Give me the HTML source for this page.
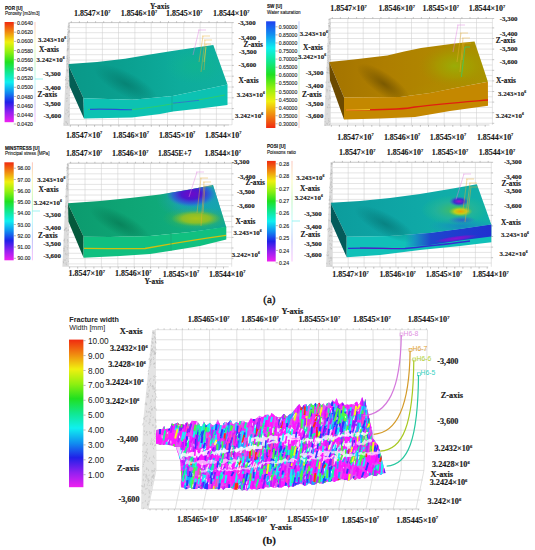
<!DOCTYPE html>
<html><head><meta charset="utf-8"><style>
html,body{margin:0;padding:0;background:#fff;}
svg{display:block;}
</style></head><body>
<svg width="535" height="550" viewBox="0 0 535 550">
<defs><linearGradient id="g1" x1="0" y1="0" x2="0" y2="1"><stop offset="0" stop-color="#f02a10"/><stop offset="0.1" stop-color="#f08a10"/><stop offset="0.2" stop-color="#f0f010"/><stop offset="0.3" stop-color="#90f010"/><stop offset="0.4" stop-color="#20e020"/><stop offset="0.5" stop-color="#10e890"/><stop offset="0.6" stop-color="#10f0f0"/><stop offset="0.7" stop-color="#1090f0"/><stop offset="0.8" stop-color="#2020e8"/><stop offset="0.9" stop-color="#9020f0"/><stop offset="1.0" stop-color="#f020f0"/></linearGradient><linearGradient id="g2" x1="0" y1="0" x2="0" y2="1"><stop offset="0" stop-color="#f02a10"/><stop offset="0.1" stop-color="#f08a10"/><stop offset="0.2" stop-color="#f0f010"/><stop offset="0.3" stop-color="#90f010"/><stop offset="0.4" stop-color="#20e020"/><stop offset="0.5" stop-color="#10e890"/><stop offset="0.6" stop-color="#10f0f0"/><stop offset="0.7" stop-color="#1090f0"/><stop offset="0.8" stop-color="#2020e8"/><stop offset="0.9" stop-color="#9020f0"/><stop offset="1.0" stop-color="#f020f0"/></linearGradient><linearGradient id="g3" x1="0" y1="0" x2="1" y2="0"><stop offset="0" stop-color="#0a9888"/><stop offset="0.35" stop-color="#0aa090"/><stop offset="0.7" stop-color="#0eac9c"/><stop offset="1" stop-color="#10b09e"/></linearGradient><radialGradient id="g4" cx="0.5" cy="0.5" r="0.5"><stop offset="0" stop-color="#057a6c" stop-opacity="0.75"/><stop offset="0.5" stop-color="#057a6c" stop-opacity="0.4"/><stop offset="1" stop-color="#057a6c" stop-opacity="0"/></radialGradient><radialGradient id="g5" cx="0.5" cy="0.5" r="0.5"><stop offset="0" stop-color="#10b48e" stop-opacity="0.8"/><stop offset="1" stop-color="#10b48e" stop-opacity="0"/></radialGradient><clipPath id="c1"><polygon points="68.70,64.00 97.00,62.00 125.00,58.70 150.00,54.50 172.00,51.00 194.00,47.80 213.30,45.10 227.50,84.40 201.70,90.10 172.70,95.90 132.00,99.70 83.50,98.30 69.50,67.70"/></clipPath><linearGradient id="g6" x1="0" y1="0" x2="0" y2="1"><stop offset="0" stop-color="#2040f0"/><stop offset="0.125" stop-color="#1090f0"/><stop offset="0.25" stop-color="#10f0f0"/><stop offset="0.375" stop-color="#10e890"/><stop offset="0.5" stop-color="#20e020"/><stop offset="0.625" stop-color="#90f010"/><stop offset="0.75" stop-color="#f0f010"/><stop offset="0.875" stop-color="#f08a10"/><stop offset="1" stop-color="#f02a10"/></linearGradient><linearGradient id="g7" x1="0" y1="0" x2="0" y2="1"><stop offset="0" stop-color="#2040f0"/><stop offset="0.125" stop-color="#1090f0"/><stop offset="0.25" stop-color="#10f0f0"/><stop offset="0.375" stop-color="#10e890"/><stop offset="0.5" stop-color="#20e020"/><stop offset="0.625" stop-color="#90f010"/><stop offset="0.75" stop-color="#f0f010"/><stop offset="0.875" stop-color="#f08a10"/><stop offset="1" stop-color="#f02a10"/></linearGradient><linearGradient id="g8" x1="0" y1="0" x2="1" y2="0"><stop offset="0" stop-color="#a47400"/><stop offset="0.35" stop-color="#ae7e00"/><stop offset="0.7" stop-color="#b08800"/><stop offset="1" stop-color="#a89400"/></linearGradient><radialGradient id="g9" cx="0.5" cy="0.5" r="0.5"><stop offset="0" stop-color="#6e5000" stop-opacity="0.8"/><stop offset="0.5" stop-color="#6e5000" stop-opacity="0.4"/><stop offset="1" stop-color="#6e5000" stop-opacity="0"/></radialGradient><radialGradient id="g10" cx="0.5" cy="0.5" r="0.5"><stop offset="0" stop-color="#98b008" stop-opacity="0.9"/><stop offset="0.5" stop-color="#a0a400" stop-opacity="0.55"/><stop offset="1" stop-color="#a09000" stop-opacity="0"/></radialGradient><radialGradient id="g11" cx="0.5" cy="0.5" r="0.5"><stop offset="0" stop-color="#b08a00" stop-opacity="0.6"/><stop offset="1" stop-color="#b08a00" stop-opacity="0"/></radialGradient><clipPath id="c2"><polygon points="329.20,62.00 353.70,59.40 387.30,55.40 404.20,51.40 421.00,48.00 454.70,43.60 474.50,41.50 487.90,81.80 460.00,87.00 430.00,93.00 400.00,97.00 344.00,97.50 330.00,64.00"/></clipPath><linearGradient id="g12" x1="0" y1="0" x2="0" y2="1"><stop offset="0" stop-color="#f02a10"/><stop offset="0.1" stop-color="#f08a10"/><stop offset="0.2" stop-color="#f0f010"/><stop offset="0.3" stop-color="#90f010"/><stop offset="0.4" stop-color="#20e020"/><stop offset="0.5" stop-color="#10e890"/><stop offset="0.6" stop-color="#10f0f0"/><stop offset="0.7" stop-color="#1090f0"/><stop offset="0.8" stop-color="#2020e8"/><stop offset="0.9" stop-color="#9020f0"/><stop offset="1.0" stop-color="#f020f0"/></linearGradient><linearGradient id="g13" x1="0" y1="0" x2="0" y2="1"><stop offset="0" stop-color="#f02a10"/><stop offset="0.1" stop-color="#f08a10"/><stop offset="0.2" stop-color="#f0f010"/><stop offset="0.3" stop-color="#90f010"/><stop offset="0.4" stop-color="#20e020"/><stop offset="0.5" stop-color="#10e890"/><stop offset="0.6" stop-color="#10f0f0"/><stop offset="0.7" stop-color="#1090f0"/><stop offset="0.8" stop-color="#2020e8"/><stop offset="0.9" stop-color="#9020f0"/><stop offset="1.0" stop-color="#f020f0"/></linearGradient><linearGradient id="g14" x1="0" y1="0" x2="1" y2="0"><stop offset="0" stop-color="#0c9a6e"/><stop offset="0.35" stop-color="#0ea474"/><stop offset="0.7" stop-color="#10ac7c"/><stop offset="1" stop-color="#10a890"/></linearGradient><radialGradient id="g15" cx="0.5" cy="0.5" r="0.5"><stop offset="0" stop-color="#067a54" stop-opacity="0.75"/><stop offset="0.5" stop-color="#067a54" stop-opacity="0.4"/><stop offset="1" stop-color="#067a54" stop-opacity="0"/></radialGradient><radialGradient id="g16" cx="0.5" cy="0.5" r="0.5"><stop offset="0" stop-color="#2090d0" stop-opacity="0.9"/><stop offset="0.6" stop-color="#20a0c0" stop-opacity="0.55"/><stop offset="1" stop-color="#20a0a0" stop-opacity="0"/></radialGradient><radialGradient id="g17" cx="0.5" cy="0.5" r="0.5"><stop offset="0" stop-color="#10a8b0" stop-opacity="0.7"/><stop offset="1" stop-color="#10a8b0" stop-opacity="0"/></radialGradient><radialGradient id="g18" cx="0.5" cy="0.5" r="0.5"><stop offset="0" stop-color="#70c030" stop-opacity="0.85"/><stop offset="1" stop-color="#40b050" stop-opacity="0"/></radialGradient><radialGradient id="g19" cx="0.5" cy="0.5" r="0.5"><stop offset="0" stop-color="#a8c418" stop-opacity="1"/><stop offset="0.55" stop-color="#98c020" stop-opacity="0.85"/><stop offset="1" stop-color="#70c030" stop-opacity="0"/></radialGradient><radialGradient id="g20" cx="0.5" cy="0.5" r="0.5"><stop offset="0" stop-color="#7008c8" stop-opacity="1"/><stop offset="0.4" stop-color="#5010d0" stop-opacity="0.95"/><stop offset="0.75" stop-color="#3050e0" stop-opacity="0.7"/><stop offset="1" stop-color="#3070e0" stop-opacity="0"/></radialGradient><clipPath id="c3"><polygon points="68.00,203.20 100.00,201.00 130.00,198.00 160.00,194.50 190.00,189.50 213.00,185.00 226.30,227.20 190.00,232.00 150.00,236.00 110.00,237.00 83.60,236.70 69.00,206.00"/></clipPath><linearGradient id="g21" x1="0" y1="0" x2="0" y2="1"><stop offset="0" stop-color="#f02a10"/><stop offset="0.1" stop-color="#f08a10"/><stop offset="0.2" stop-color="#f0f010"/><stop offset="0.3" stop-color="#90f010"/><stop offset="0.4" stop-color="#20e020"/><stop offset="0.5" stop-color="#10e890"/><stop offset="0.6" stop-color="#10f0f0"/><stop offset="0.7" stop-color="#1090f0"/><stop offset="0.8" stop-color="#2020e8"/><stop offset="0.9" stop-color="#9020f0"/><stop offset="1.0" stop-color="#f020f0"/></linearGradient><linearGradient id="g22" x1="0" y1="0" x2="0" y2="1"><stop offset="0" stop-color="#f02a10"/><stop offset="0.1" stop-color="#f08a10"/><stop offset="0.2" stop-color="#f0f010"/><stop offset="0.3" stop-color="#90f010"/><stop offset="0.4" stop-color="#20e020"/><stop offset="0.5" stop-color="#10e890"/><stop offset="0.6" stop-color="#10f0f0"/><stop offset="0.7" stop-color="#1090f0"/><stop offset="0.8" stop-color="#2020e8"/><stop offset="0.9" stop-color="#9020f0"/><stop offset="1.0" stop-color="#f020f0"/></linearGradient><linearGradient id="g23" x1="0" y1="0" x2="1" y2="0"><stop offset="0" stop-color="#0c9c9c"/><stop offset="0.35" stop-color="#0ea4a4"/><stop offset="0.7" stop-color="#10aca8"/><stop offset="1" stop-color="#10b0a8"/></linearGradient><linearGradient id="g24" x1="0" y1="0" x2="1" y2="0"><stop offset="0" stop-color="#2040d0" stop-opacity="0"/><stop offset="0.3" stop-color="#2038d0" stop-opacity="0.9"/><stop offset="1" stop-color="#2030d0" stop-opacity="1"/></linearGradient><radialGradient id="g25" cx="0.5" cy="0.5" r="0.5"><stop offset="0" stop-color="#9010d0" stop-opacity="1"/><stop offset="0.6" stop-color="#7018d0" stop-opacity="0.8"/><stop offset="1" stop-color="#6020d0" stop-opacity="0"/></radialGradient><radialGradient id="g26" cx="0.5" cy="0.5" r="0.5"><stop offset="0" stop-color="#067878" stop-opacity="0.75"/><stop offset="0.5" stop-color="#067878" stop-opacity="0.4"/><stop offset="1" stop-color="#067878" stop-opacity="0"/></radialGradient><radialGradient id="g27" cx="0.5" cy="0.5" r="0.5"><stop offset="0" stop-color="#1880c8" stop-opacity="0.8"/><stop offset="1" stop-color="#1890c0" stop-opacity="0"/></radialGradient><radialGradient id="g28" cx="0.5" cy="0.5" r="0.5"><stop offset="0" stop-color="#50c050" stop-opacity="0.85"/><stop offset="0.6" stop-color="#30b890" stop-opacity="0.5"/><stop offset="1" stop-color="#20c080" stop-opacity="0"/></radialGradient><radialGradient id="g29" cx="0.5" cy="0.5" r="0.5"><stop offset="0" stop-color="#f0a000" stop-opacity="1"/><stop offset="0.5" stop-color="#d0d010" stop-opacity="0.9"/><stop offset="1" stop-color="#80d030" stop-opacity="0"/></radialGradient><radialGradient id="g30" cx="0.5" cy="0.5" r="0.5"><stop offset="0" stop-color="#a010d0" stop-opacity="1"/><stop offset="0.5" stop-color="#4020d0" stop-opacity="0.9"/><stop offset="1" stop-color="#3060e0" stop-opacity="0"/></radialGradient><radialGradient id="g31" cx="0.5" cy="0.5" r="0.5"><stop offset="0" stop-color="#3050d0" stop-opacity="0.8"/><stop offset="1" stop-color="#3060e0" stop-opacity="0"/></radialGradient><clipPath id="c4"><polygon points="330.90,202.70 360.00,201.00 390.00,198.00 420.00,194.00 450.00,189.00 476.90,184.20 491.30,224.60 460.00,229.00 430.00,233.00 390.00,236.00 346.70,236.70 331.50,205.00"/></clipPath><linearGradient id="g32" x1="0" y1="0" x2="0" y2="1"><stop offset="0" stop-color="#f02a10"/><stop offset="0.1" stop-color="#f08a10"/><stop offset="0.2" stop-color="#f0f010"/><stop offset="0.3" stop-color="#90f010"/><stop offset="0.4" stop-color="#20e020"/><stop offset="0.5" stop-color="#10e890"/><stop offset="0.6" stop-color="#10f0f0"/><stop offset="0.7" stop-color="#1090f0"/><stop offset="0.8" stop-color="#2020e8"/><stop offset="0.9" stop-color="#9020f0"/><stop offset="1.0" stop-color="#f020f0"/></linearGradient><clipPath id="frc"><polygon points="156.0,430.3 158.5,429.3 160.9,429.0 162.1,429.3 164.1,425.9 165.3,429.3 166.9,428.7 169.0,428.7 170.3,427.9 171.7,423.6 173.9,424.3 175.8,423.3 177.5,422.8 178.9,423.9 181.2,423.9 182.7,424.5 184.5,424.9 185.9,423.1 187.4,422.2 188.8,424.9 190.2,423.4 191.9,420.8 194.5,421.1 197.1,421.2 198.9,423.2 200.1,426.2 202.2,426.2 203.7,421.3 206.0,425.7 207.5,424.8 210.0,422.8 212.3,425.1 213.8,425.3 215.5,424.2 217.9,419.2 219.9,425.1 222.4,425.5 224.3,422.3 226.3,421.9 227.8,423.3 229.1,421.7 230.5,419.8 232.9,424.2 234.5,423.4 236.3,421.8 238.5,423.5 239.9,421.1 241.9,421.0 243.2,420.7 245.8,422.6 248.3,422.4 250.7,418.4 252.7,419.1 255.2,419.3 256.9,418.1 258.1,416.9 259.9,415.7 261.6,417.0 263.6,416.7 265.0,415.1 266.9,414.8 268.5,414.6 270.0,416.1 271.5,412.9 273.6,414.4 274.9,415.8 276.8,416.8 278.2,417.8 279.5,417.1 281.0,417.6 283.3,414.2 284.5,414.6 285.8,416.0 287.4,416.4 289.8,414.2 291.8,413.3 293.3,411.2 295.5,408.7 296.9,406.8 299.4,404.0 300.8,406.8 302.1,408.1 303.7,404.9 306.1,404.0 307.4,406.7 309.4,404.3 311.1,403.5 313.1,405.7 315.6,402.9 317.0,404.8 319.3,402.8 321.7,405.3 323.5,403.2 325.3,406.0 326.6,403.8 329.1,402.2 330.8,404.2 332.5,399.9 334.2,402.3 336.7,398.3 338.3,403.1 339.9,404.3 342.4,402.2 344.7,405.3 346.8,404.3 348.4,404.9 350.9,404.3 353.2,404.5 355.3,402.8 357.0,401.6 358.7,405.2 360.4,402.2 362.1,397.1 363.9,402.9 365.5,398.8 366.0,404.6 368.0,412.0 370.0,422.0 372.0,430.0 373.0,438.6 378.0,445.0 381.0,455.0 383.0,464.0 385.4,472.6 385.4,473.3 383.2,473.3 380.9,475.0 378.7,473.8 376.5,476.1 374.2,475.7 372.0,474.7 369.6,475.5 367.1,477.1 364.7,478.7 362.3,477.3 359.9,479.0 357.4,478.4 355.0,480.1 352.8,478.0 350.6,479.6 348.4,481.1 346.2,479.5 344.0,479.8 341.6,479.3 339.2,480.0 336.8,480.6 334.4,482.1 332.0,480.9 329.6,481.7 327.2,481.4 324.8,482.8 322.4,483.8 320.0,483.4 317.8,482.3 315.6,484.1 313.3,485.1 311.1,484.2 308.9,482.8 306.7,485.3 304.4,485.7 302.2,484.3 300.0,483.9 297.7,484.3 295.5,485.6 293.2,486.8 290.9,486.3 288.6,487.4 286.4,485.5 284.1,486.1 281.8,487.6 279.5,487.5 277.3,487.0 275.0,488.0 272.7,487.2 270.4,486.6 268.0,487.9 265.7,487.0 263.4,488.9 261.1,488.3 258.8,489.0 256.4,489.5 254.1,488.7 251.8,489.5 249.4,488.1 247.0,490.7 244.5,489.6 242.1,490.8 239.7,487.9 237.3,489.5 234.8,489.8 232.4,488.6 230.0,487.8 227.8,487.9 225.6,487.9 223.3,489.7 221.1,487.7 218.9,489.8 216.7,488.6 214.4,489.0 212.2,489.1 210.0,489.0 207.8,489.2 205.6,488.9 203.4,488.0 201.2,489.2 199.0,487.6 196.8,488.9 194.5,488.9 192.3,488.9 190.1,487.4 187.9,488.7 185.7,489.2 183.5,487.6 181.3,487.2 181.0,473.0 180.0,460.0 176.0,447.0 172.0,445.5 166.0,444.5 160.0,445.0 156.0,443.5"/></clipPath></defs>
<rect width="535" height="550" fill="#fff"/>
<text x="5.00" y="9.66" font-family='"Liberation Sans", sans-serif' font-size="4.60" font-weight="bold" fill="#111" stroke="#111" stroke-width="0.12" text-anchor="start" >POR [U]</text>
<text x="5.00" y="14.96" font-family='"Liberation Sans", sans-serif' font-size="4.60" font-weight="normal" fill="#222" stroke="#222" stroke-width="0.12" text-anchor="start" >Porosity [m3/m3]</text>
<rect x="4.60" y="22.00" width="9.20" height="100.20" fill="url(#g1)" />
<line x1="13.80" y1="23.00" x2="16.00" y2="23.00" stroke="#888" stroke-width="0.6" />
<text x="0" y="0" transform="translate(17.00,25.09) scale(0.900,1)" font-family='"Liberation Sans", sans-serif' font-size="5.80" font-weight="normal" fill="#1e1e1e" stroke="#1e1e1e" stroke-width="0.12" text-anchor="start" >0.0640</text>
<line x1="13.80" y1="32.18" x2="16.00" y2="32.18" stroke="#888" stroke-width="0.6" />
<text x="0" y="0" transform="translate(17.00,34.27) scale(0.900,1)" font-family='"Liberation Sans", sans-serif' font-size="5.80" font-weight="normal" fill="#1e1e1e" stroke="#1e1e1e" stroke-width="0.12" text-anchor="start" >0.0620</text>
<line x1="13.80" y1="41.36" x2="16.00" y2="41.36" stroke="#888" stroke-width="0.6" />
<text x="0" y="0" transform="translate(17.00,43.45) scale(0.900,1)" font-family='"Liberation Sans", sans-serif' font-size="5.80" font-weight="normal" fill="#1e1e1e" stroke="#1e1e1e" stroke-width="0.12" text-anchor="start" >0.0600</text>
<line x1="13.80" y1="50.55" x2="16.00" y2="50.55" stroke="#888" stroke-width="0.6" />
<text x="0" y="0" transform="translate(17.00,52.63) scale(0.900,1)" font-family='"Liberation Sans", sans-serif' font-size="5.80" font-weight="normal" fill="#1e1e1e" stroke="#1e1e1e" stroke-width="0.12" text-anchor="start" >0.0580</text>
<line x1="13.80" y1="59.73" x2="16.00" y2="59.73" stroke="#888" stroke-width="0.6" />
<text x="0" y="0" transform="translate(17.00,61.82) scale(0.900,1)" font-family='"Liberation Sans", sans-serif' font-size="5.80" font-weight="normal" fill="#1e1e1e" stroke="#1e1e1e" stroke-width="0.12" text-anchor="start" >0.0560</text>
<line x1="13.80" y1="68.91" x2="16.00" y2="68.91" stroke="#888" stroke-width="0.6" />
<text x="0" y="0" transform="translate(17.00,71.00) scale(0.900,1)" font-family='"Liberation Sans", sans-serif' font-size="5.80" font-weight="normal" fill="#1e1e1e" stroke="#1e1e1e" stroke-width="0.12" text-anchor="start" >0.0540</text>
<line x1="13.80" y1="78.09" x2="16.00" y2="78.09" stroke="#888" stroke-width="0.6" />
<text x="0" y="0" transform="translate(17.00,80.18) scale(0.900,1)" font-family='"Liberation Sans", sans-serif' font-size="5.80" font-weight="normal" fill="#1e1e1e" stroke="#1e1e1e" stroke-width="0.12" text-anchor="start" >0.0520</text>
<line x1="13.80" y1="87.27" x2="16.00" y2="87.27" stroke="#888" stroke-width="0.6" />
<text x="0" y="0" transform="translate(17.00,89.36) scale(0.900,1)" font-family='"Liberation Sans", sans-serif' font-size="5.80" font-weight="normal" fill="#1e1e1e" stroke="#1e1e1e" stroke-width="0.12" text-anchor="start" >0.0500</text>
<line x1="13.80" y1="96.45" x2="16.00" y2="96.45" stroke="#888" stroke-width="0.6" />
<text x="0" y="0" transform="translate(17.00,98.54) scale(0.900,1)" font-family='"Liberation Sans", sans-serif' font-size="5.80" font-weight="normal" fill="#1e1e1e" stroke="#1e1e1e" stroke-width="0.12" text-anchor="start" >0.0480</text>
<line x1="13.80" y1="105.64" x2="16.00" y2="105.64" stroke="#888" stroke-width="0.6" />
<text x="0" y="0" transform="translate(17.00,107.72) scale(0.900,1)" font-family='"Liberation Sans", sans-serif' font-size="5.80" font-weight="normal" fill="#1e1e1e" stroke="#1e1e1e" stroke-width="0.12" text-anchor="start" >0.0460</text>
<line x1="13.80" y1="114.82" x2="16.00" y2="114.82" stroke="#888" stroke-width="0.6" />
<text x="0" y="0" transform="translate(17.00,116.91) scale(0.900,1)" font-family='"Liberation Sans", sans-serif' font-size="5.80" font-weight="normal" fill="#1e1e1e" stroke="#1e1e1e" stroke-width="0.12" text-anchor="start" >0.0440</text>
<line x1="13.80" y1="124.00" x2="16.00" y2="124.00" stroke="#888" stroke-width="0.6" />
<text x="0" y="0" transform="translate(17.00,126.09) scale(0.900,1)" font-family='"Liberation Sans", sans-serif' font-size="5.80" font-weight="normal" fill="#1e1e1e" stroke="#1e1e1e" stroke-width="0.12" text-anchor="start" >0.0420</text>
<rect x="34.60" y="22.00" width="0.8" height="100.20" fill="url(#g2)" opacity="0.35"/>
<line x1="35.00" y1="79.00" x2="43.00" y2="79.00" stroke="#7ee" stroke-width="0.7" />
<line x1="69.30" y1="22.60" x2="69.30" y2="125.00" stroke="#cfcfcf" stroke-width="0.55" />
<line x1="86.10" y1="22.60" x2="86.10" y2="125.00" stroke="#cfcfcf" stroke-width="0.55" />
<line x1="102.40" y1="22.60" x2="102.40" y2="125.00" stroke="#cfcfcf" stroke-width="0.55" />
<line x1="118.50" y1="22.60" x2="118.50" y2="125.00" stroke="#cfcfcf" stroke-width="0.55" />
<line x1="134.90" y1="22.60" x2="134.90" y2="125.00" stroke="#cfcfcf" stroke-width="0.55" />
<line x1="151.20" y1="22.60" x2="151.20" y2="125.00" stroke="#cfcfcf" stroke-width="0.55" />
<line x1="167.50" y1="22.60" x2="167.50" y2="125.00" stroke="#cfcfcf" stroke-width="0.55" />
<line x1="183.80" y1="22.60" x2="183.80" y2="125.00" stroke="#cfcfcf" stroke-width="0.55" />
<line x1="200.10" y1="22.60" x2="200.10" y2="125.00" stroke="#cfcfcf" stroke-width="0.55" />
<line x1="216.40" y1="22.60" x2="216.40" y2="125.00" stroke="#cfcfcf" stroke-width="0.55" />
<line x1="232.00" y1="22.60" x2="232.00" y2="125.00" stroke="#cfcfcf" stroke-width="0.55" />
<line x1="69.30" y1="22.60" x2="232.00" y2="22.60" stroke="#cfcfcf" stroke-width="0.55" />
<line x1="69.30" y1="27.60" x2="232.00" y2="27.60" stroke="#cfcfcf" stroke-width="0.55" />
<line x1="69.30" y1="32.70" x2="232.00" y2="32.70" stroke="#cfcfcf" stroke-width="0.55" />
<line x1="69.30" y1="38.30" x2="232.00" y2="38.30" stroke="#cfcfcf" stroke-width="0.55" />
<line x1="69.30" y1="43.90" x2="232.00" y2="43.90" stroke="#cfcfcf" stroke-width="0.55" />
<line x1="69.30" y1="49.30" x2="232.00" y2="49.30" stroke="#cfcfcf" stroke-width="0.55" />
<line x1="69.30" y1="54.70" x2="232.00" y2="54.70" stroke="#cfcfcf" stroke-width="0.55" />
<line x1="69.30" y1="60.00" x2="232.00" y2="60.00" stroke="#cfcfcf" stroke-width="0.55" />
<line x1="69.30" y1="65.40" x2="232.00" y2="65.40" stroke="#cfcfcf" stroke-width="0.55" />
<line x1="69.30" y1="70.80" x2="232.00" y2="70.80" stroke="#cfcfcf" stroke-width="0.55" />
<line x1="69.30" y1="76.20" x2="232.00" y2="76.20" stroke="#cfcfcf" stroke-width="0.55" />
<line x1="69.30" y1="81.60" x2="232.00" y2="81.60" stroke="#cfcfcf" stroke-width="0.55" />
<line x1="69.30" y1="87.00" x2="232.00" y2="87.00" stroke="#cfcfcf" stroke-width="0.55" />
<line x1="69.30" y1="92.40" x2="232.00" y2="92.40" stroke="#cfcfcf" stroke-width="0.55" />
<line x1="69.30" y1="97.80" x2="232.00" y2="97.80" stroke="#cfcfcf" stroke-width="0.55" />
<line x1="69.30" y1="103.20" x2="232.00" y2="103.20" stroke="#cfcfcf" stroke-width="0.55" />
<line x1="69.30" y1="108.60" x2="232.00" y2="108.60" stroke="#cfcfcf" stroke-width="0.55" />
<line x1="69.30" y1="114.00" x2="232.00" y2="114.00" stroke="#cfcfcf" stroke-width="0.55" />
<line x1="69.30" y1="119.40" x2="232.00" y2="119.40" stroke="#cfcfcf" stroke-width="0.55" />
<line x1="69.30" y1="124.80" x2="232.00" y2="124.80" stroke="#cfcfcf" stroke-width="0.55" />
<line x1="69.30" y1="22.60" x2="232.00" y2="22.60" stroke="#b8b8b8" stroke-width="0.6" />
<line x1="69.30" y1="125.00" x2="229.00" y2="125.00" stroke="#b8b8b8" stroke-width="0.6" />
<path d="M71.3 21.2v1.4M70.3 125.0v1.8M79.4 21.2v1.4M78.4 125.0v1.8M87.5 21.2v1.4M86.5 125.0v1.8M95.6 21.2v1.4M94.6 125.0v1.8M103.7 21.2v1.4M102.7 125.0v1.8M111.8 21.2v1.4M110.8 125.0v1.8M119.9 21.2v1.4M118.9 125.0v1.8M128.0 21.2v1.4M127.0 125.0v1.8M136.1 21.2v1.4M135.1 125.0v1.8M144.2 21.2v1.4M143.2 125.0v1.8M152.3 21.2v1.4M151.3 125.0v1.8M160.4 21.2v1.4M159.4 125.0v1.8M168.5 21.2v1.4M167.5 125.0v1.8M176.6 21.2v1.4M175.6 125.0v1.8M184.7 21.2v1.4M183.7 125.0v1.8M192.8 21.2v1.4M191.8 125.0v1.8M200.9 21.2v1.4M199.9 125.0v1.8M209.0 21.2v1.4M208.0 125.0v1.8M217.1 21.2v1.4M216.1 125.0v1.8M225.2 21.2v1.4M224.2 125.0v1.8" stroke="#8a8a8a" stroke-width="0.5"/>
<path d="M232.0 22.6h1.8M232.0 32.7h1.8M232.0 43.9h1.8M232.0 54.7h1.8M232.0 65.4h1.8M232.0 76.2h1.8M232.0 87.0h1.8M232.0 97.8h1.8M232.0 108.6h1.8M232.0 119.4h1.8" stroke="#8a8a8a" stroke-width="0.5"/>
<polygon points="68.00,22.60 69.60,22.60 69.60,126.00 63.40,126.00" fill="#dcdcdc" />
<path d="M67.0 56.1l0.2 0.9M67.0 78.0l-0.5 1.3M68.6 26.5l-0.5 0.9M69.0 66.5l-0.5 1.0M69.4 87.5l0.1 1.2M63.8 123.5l0.4 1.1M67.6 37.5l-0.2 1.6M68.6 41.3l0.2 1.2M65.7 79.2l-0.5 1.0M66.9 93.0l-0.2 1.4M67.0 69.5l0.4 1.5M68.4 47.8l0.0 1.7M66.1 98.0l0.6 0.9M68.7 65.8l-0.4 1.3M69.0 26.7l0.3 1.4M65.7 113.1l0.2 1.4M67.3 82.6l0.4 1.7M68.3 71.6l-0.5 1.5M69.6 89.5l0.4 1.1M68.5 62.5l-0.6 1.3M67.5 40.0l-0.5 1.6M67.9 36.0l-0.1 1.7M68.5 30.9l0.1 1.7M68.9 107.3l-0.3 1.2M69.2 59.7l0.5 1.0M67.7 40.8l-0.3 1.3M66.4 83.5l-0.6 1.2M68.2 60.8l0.5 1.5M68.1 75.9l0.2 0.9M68.3 115.6l0.4 1.6M67.6 63.2l-0.5 1.4M67.8 29.0l-0.3 1.0M66.6 57.8l-0.6 1.0M68.3 33.1l-0.6 1.7M65.8 86.1l-0.3 1.1M66.7 60.3l0.4 1.8M67.7 70.8l-0.5 0.9M67.3 58.0l0.4 1.0M69.5 25.0l0.0 0.9M65.6 78.8l0.0 1.8M67.9 111.9l-0.3 1.2M69.1 39.9l0.0 1.6M67.2 56.7l0.4 1.8M68.5 110.8l0.4 1.5M68.3 46.0l-0.2 0.8M68.4 25.5l-0.3 1.5M66.3 121.5l0.5 1.8M65.8 121.3l-0.3 1.0M67.6 42.9l0.1 1.7M66.8 109.5l0.2 1.6M68.9 31.4l0.5 1.6M67.0 100.2l-0.4 1.6M69.0 57.0l0.6 1.2M69.4 64.1l0.3 1.0M67.7 35.7l0.5 1.6M69.2 37.7l0.6 1.5M68.2 58.8l-0.4 0.8M67.5 123.0l0.0 1.7M69.1 67.5l0.4 1.0M67.6 48.6l-0.3 1.4M68.0 49.4l-0.4 1.7M67.9 59.2l0.1 1.7M69.3 66.1l0.0 1.3M65.7 76.7l-0.1 1.0M69.3 23.0l-0.4 1.3M67.4 97.6l-0.2 1.3M68.7 80.0l-0.5 1.4M67.6 48.3l0.3 1.3M68.6 80.7l0.5 1.2M67.4 85.9l0.0 1.5M67.9 69.4l-0.0 1.7M69.0 94.9l0.5 1.1M69.4 80.5l0.4 0.9M68.4 35.2l-0.5 1.0M69.0 30.2l0.3 1.7M68.9 38.6l0.2 0.9M69.4 113.9l-0.3 1.8M67.8 63.8l0.6 1.6M68.3 39.3l0.0 1.1M67.9 42.8l0.3 0.8M67.3 79.9l-0.6 1.1M67.4 87.1l-0.5 1.8M69.5 104.1l-0.5 1.1M69.2 26.7l-0.3 0.9M69.3 66.3l0.4 1.1M69.4 38.0l0.1 1.5M67.7 31.9l0.2 1.2M69.5 30.1l0.2 1.6M69.3 31.3l-0.5 1.7M67.2 69.5l0.1 1.7M67.1 50.3l0.0 1.0M67.8 33.9l-0.5 1.0M67.5 54.9l0.3 1.1" stroke="#a0a0a0" stroke-width="0.45" opacity="0.8"/>
<polygon points="68.70,64.00 97.00,62.00 125.00,58.70 150.00,54.50 172.00,51.00 194.00,47.80 213.30,45.10 227.50,84.40 201.70,90.10 172.70,95.90 132.00,99.70 83.50,98.30 69.50,67.70" fill="url(#g3)" />
<polygon points="68.70,64.00 69.50,67.70 83.50,98.30 84.00,118.60 69.50,86.00" fill="#045e54" />
<polygon points="83.50,98.30 132.00,99.70 172.70,95.90 201.70,90.10 227.50,84.40 227.50,105.00 200.00,108.50 173.00,111.50 160.00,114.00 132.00,117.50 84.00,118.60" fill="#0cc2b2" />
<path d="M88,109.5 C100,108 120,109.5 132,109.5 C150,108 170,104 198,100 L225,95" fill="none" stroke="#30d060" stroke-width="0.8" />
<path d="M90,109.4 C100,108.5 120,109.8 132,109.7" fill="none" stroke="#2050e0" stroke-width="1.1" />
<path d="M173,103.2 C185,102 192,101 199,100.3" fill="none" stroke="#2870e0" stroke-width="0.9" />
<g clip-path="url(#c1)"><ellipse cx="126" cy="84" rx="36" ry="12" fill="url(#g4)" transform="rotate(28 126 84)"/><ellipse cx="195" cy="66" rx="30" ry="18" fill="url(#g5)"/></g>
<path d="M198,30 L206,30 M199,30 L193,55" fill="none" stroke="#e080e0" stroke-width="0.5" opacity="0.9"/>
<path d="M202,36 L210,36 M203,36 L199,62 M204,40 L212,40 M205,40 L201,72 M205,44 L211,44 M206,44 L204,70" fill="none" stroke="#e8b030" stroke-width="0.5" opacity="0.9"/>
<path d="M206,47 L204,62" fill="none" stroke="#e0e040" stroke-width="0.5" />
<line x1="172.00" y1="96.00" x2="172.00" y2="111.50" stroke="#14a090" stroke-width="0.6" />
<text x="0" y="0" transform="translate(38.00,41.52) scale(0.980,1)" font-family='"Liberation Serif", serif' font-size="7.00" font-weight="bold" fill="#1a1a1a" stroke="#1a1a1a" stroke-width="0.15" text-anchor="start" >3.243×10<tspan font-size="3.85" dy="-2.94">6</tspan></text>
<text x="0" y="0" transform="translate(39.00,52.40) scale(0.980,1)" font-family='"Liberation Serif", serif' font-size="7.50" font-weight="bold" fill="#1a1a1a" stroke="#1a1a1a" stroke-width="0.15" text-anchor="start" >X-axis</text>
<text x="0" y="0" transform="translate(36.60,62.12) scale(0.980,1)" font-family='"Liberation Serif", serif' font-size="7.00" font-weight="bold" fill="#1a1a1a" stroke="#1a1a1a" stroke-width="0.15" text-anchor="start" >3.242×10<tspan font-size="3.85" dy="-2.94">6</tspan></text>
<text x="0" y="0" transform="translate(43.00,76.02) scale(0.980,1)" font-family='"Liberation Serif", serif' font-size="7.00" font-weight="bold" fill="#1a1a1a" stroke="#1a1a1a" stroke-width="0.15" text-anchor="start" >-3,300</text>
<text x="0" y="0" transform="translate(43.00,89.52) scale(0.980,1)" font-family='"Liberation Serif", serif' font-size="7.00" font-weight="bold" fill="#1a1a1a" stroke="#1a1a1a" stroke-width="0.15" text-anchor="start" >-3,400</text>
<text x="0" y="0" transform="translate(37.50,97.00) scale(0.980,1)" font-family='"Liberation Serif", serif' font-size="7.50" font-weight="bold" fill="#1a1a1a" stroke="#1a1a1a" stroke-width="0.15" text-anchor="start" >Z-axis</text>
<text x="0" y="0" transform="translate(43.00,105.52) scale(0.980,1)" font-family='"Liberation Serif", serif' font-size="7.00" font-weight="bold" fill="#1a1a1a" stroke="#1a1a1a" stroke-width="0.15" text-anchor="start" >-3,500</text>
<text x="0" y="0" transform="translate(43.50,117.52) scale(0.980,1)" font-family='"Liberation Serif", serif' font-size="7.00" font-weight="bold" fill="#1a1a1a" stroke="#1a1a1a" stroke-width="0.15" text-anchor="start" >-3,600</text>
<text x="0" y="0" transform="translate(150.00,8.50) scale(0.980,1)" font-family='"Liberation Serif", serif' font-size="7.50" font-weight="bold" fill="#1a1a1a" stroke="#1a1a1a" stroke-width="0.15" text-anchor="start" >Y-axis</text>
<text x="0" y="0" transform="translate(74.00,16.12) scale(0.980,1)" font-family='"Liberation Serif", serif' font-size="8.10" font-weight="bold" fill="#1a1a1a" stroke="#1a1a1a" stroke-width="0.15" text-anchor="start" >1.8547×10<tspan font-size="4.46" dy="-3.40">7</tspan></text>
<text x="0" y="0" transform="translate(120.70,16.12) scale(0.980,1)" font-family='"Liberation Serif", serif' font-size="8.10" font-weight="bold" fill="#1a1a1a" stroke="#1a1a1a" stroke-width="0.15" text-anchor="start" >1.8546×10<tspan font-size="4.46" dy="-3.40">7</tspan></text>
<text x="0" y="0" transform="translate(166.00,15.92) scale(0.980,1)" font-family='"Liberation Serif", serif' font-size="8.10" font-weight="bold" fill="#1a1a1a" stroke="#1a1a1a" stroke-width="0.15" text-anchor="start" >1.8545×10<tspan font-size="4.46" dy="-3.40">7</tspan></text>
<text x="0" y="0" transform="translate(213.00,15.92) scale(0.980,1)" font-family='"Liberation Serif", serif' font-size="8.10" font-weight="bold" fill="#1a1a1a" stroke="#1a1a1a" stroke-width="0.15" text-anchor="start" >1.8544×10<tspan font-size="4.46" dy="-3.40">7</tspan></text>
<text x="0" y="0" transform="translate(237.90,24.52) scale(0.980,1)" font-family='"Liberation Serif", serif' font-size="7.00" font-weight="bold" fill="#1a1a1a" stroke="#1a1a1a" stroke-width="0.15" text-anchor="start" >-3,300</text>
<text x="0" y="0" transform="translate(238.60,39.82) scale(0.980,1)" font-family='"Liberation Serif", serif' font-size="7.00" font-weight="bold" fill="#1a1a1a" stroke="#1a1a1a" stroke-width="0.15" text-anchor="start" >-3,400</text>
<text x="0" y="0" transform="translate(243.40,46.50) scale(0.980,1)" font-family='"Liberation Serif", serif' font-size="7.50" font-weight="bold" fill="#1a1a1a" stroke="#1a1a1a" stroke-width="0.15" text-anchor="start" >Z-axis</text>
<text x="0" y="0" transform="translate(239.00,54.02) scale(0.980,1)" font-family='"Liberation Serif", serif' font-size="7.00" font-weight="bold" fill="#1a1a1a" stroke="#1a1a1a" stroke-width="0.15" text-anchor="start" >-3,500</text>
<text x="0" y="0" transform="translate(238.60,67.02) scale(0.980,1)" font-family='"Liberation Serif", serif' font-size="7.00" font-weight="bold" fill="#1a1a1a" stroke="#1a1a1a" stroke-width="0.15" text-anchor="start" >-3,600</text>
<text x="0" y="0" transform="translate(238.60,82.50) scale(0.980,1)" font-family='"Liberation Serif", serif' font-size="7.50" font-weight="bold" fill="#1a1a1a" stroke="#1a1a1a" stroke-width="0.15" text-anchor="start" >X-axis</text>
<text x="0" y="0" transform="translate(236.80,96.52) scale(0.980,1)" font-family='"Liberation Serif", serif' font-size="7.00" font-weight="bold" fill="#1a1a1a" stroke="#1a1a1a" stroke-width="0.15" text-anchor="start" >3.243×10<tspan font-size="3.85" dy="-2.94">6</tspan></text>
<text x="0" y="0" transform="translate(235.00,118.32) scale(0.980,1)" font-family='"Liberation Serif", serif' font-size="7.00" font-weight="bold" fill="#1a1a1a" stroke="#1a1a1a" stroke-width="0.15" text-anchor="start" >3.242×10<tspan font-size="3.85" dy="-2.94">6</tspan></text>
<text x="0" y="0" transform="translate(65.90,137.62) scale(0.980,1)" font-family='"Liberation Serif", serif' font-size="8.10" font-weight="bold" fill="#1a1a1a" stroke="#1a1a1a" stroke-width="0.15" text-anchor="start" >1.8547×10<tspan font-size="4.46" dy="-3.40">7</tspan></text>
<text x="0" y="0" transform="translate(112.60,137.62) scale(0.980,1)" font-family='"Liberation Serif", serif' font-size="8.10" font-weight="bold" fill="#1a1a1a" stroke="#1a1a1a" stroke-width="0.15" text-anchor="start" >1.8546×10<tspan font-size="4.46" dy="-3.40">7</tspan></text>
<text x="0" y="0" transform="translate(158.90,137.62) scale(0.980,1)" font-family='"Liberation Serif", serif' font-size="8.10" font-weight="bold" fill="#1a1a1a" stroke="#1a1a1a" stroke-width="0.15" text-anchor="start" >1.8545×10<tspan font-size="4.46" dy="-3.40">7</tspan></text>
<text x="0" y="0" transform="translate(205.00,137.62) scale(0.980,1)" font-family='"Liberation Serif", serif' font-size="8.10" font-weight="bold" fill="#1a1a1a" stroke="#1a1a1a" stroke-width="0.15" text-anchor="start" >1.8544×10<tspan font-size="4.46" dy="-3.40">7</tspan></text>
<text x="267.00" y="8.16" font-family='"Liberation Sans", sans-serif' font-size="4.60" font-weight="bold" fill="#111" stroke="#111" stroke-width="0.12" text-anchor="start" >SW [U]</text>
<text x="267.00" y="13.96" font-family='"Liberation Sans", sans-serif' font-size="4.60" font-weight="normal" fill="#222" stroke="#222" stroke-width="0.12" text-anchor="start" >Water saturation</text>
<rect x="266.10" y="21.30" width="9.30" height="106.70" fill="url(#g6)" />
<line x1="275.40" y1="26.80" x2="277.60" y2="26.80" stroke="#888" stroke-width="0.6" />
<text x="0" y="0" transform="translate(278.80,28.85) scale(0.900,1)" font-family='"Liberation Sans", sans-serif' font-size="5.70" font-weight="normal" fill="#1e1e1e" stroke="#1e1e1e" stroke-width="0.12" text-anchor="start" >0.90000</text>
<line x1="275.40" y1="34.88" x2="277.60" y2="34.88" stroke="#888" stroke-width="0.6" />
<text x="0" y="0" transform="translate(278.80,36.94) scale(0.900,1)" font-family='"Liberation Sans", sans-serif' font-size="5.70" font-weight="normal" fill="#1e1e1e" stroke="#1e1e1e" stroke-width="0.12" text-anchor="start" >0.85000</text>
<line x1="275.40" y1="42.97" x2="277.60" y2="42.97" stroke="#888" stroke-width="0.6" />
<text x="0" y="0" transform="translate(278.80,45.02) scale(0.900,1)" font-family='"Liberation Sans", sans-serif' font-size="5.70" font-weight="normal" fill="#1e1e1e" stroke="#1e1e1e" stroke-width="0.12" text-anchor="start" >0.80000</text>
<line x1="275.40" y1="51.05" x2="277.60" y2="51.05" stroke="#888" stroke-width="0.6" />
<text x="0" y="0" transform="translate(278.80,53.10) scale(0.900,1)" font-family='"Liberation Sans", sans-serif' font-size="5.70" font-weight="normal" fill="#1e1e1e" stroke="#1e1e1e" stroke-width="0.12" text-anchor="start" >0.75000</text>
<line x1="275.40" y1="59.13" x2="277.60" y2="59.13" stroke="#888" stroke-width="0.6" />
<text x="0" y="0" transform="translate(278.80,61.19) scale(0.900,1)" font-family='"Liberation Sans", sans-serif' font-size="5.70" font-weight="normal" fill="#1e1e1e" stroke="#1e1e1e" stroke-width="0.12" text-anchor="start" >0.70000</text>
<line x1="275.40" y1="67.22" x2="277.60" y2="67.22" stroke="#888" stroke-width="0.6" />
<text x="0" y="0" transform="translate(278.80,69.27) scale(0.900,1)" font-family='"Liberation Sans", sans-serif' font-size="5.70" font-weight="normal" fill="#1e1e1e" stroke="#1e1e1e" stroke-width="0.12" text-anchor="start" >0.65000</text>
<line x1="275.40" y1="75.30" x2="277.60" y2="75.30" stroke="#888" stroke-width="0.6" />
<text x="0" y="0" transform="translate(278.80,77.35) scale(0.900,1)" font-family='"Liberation Sans", sans-serif' font-size="5.70" font-weight="normal" fill="#1e1e1e" stroke="#1e1e1e" stroke-width="0.12" text-anchor="start" >0.60000</text>
<line x1="275.40" y1="83.38" x2="277.60" y2="83.38" stroke="#888" stroke-width="0.6" />
<text x="0" y="0" transform="translate(278.80,85.44) scale(0.900,1)" font-family='"Liberation Sans", sans-serif' font-size="5.70" font-weight="normal" fill="#1e1e1e" stroke="#1e1e1e" stroke-width="0.12" text-anchor="start" >0.55000</text>
<line x1="275.40" y1="91.47" x2="277.60" y2="91.47" stroke="#888" stroke-width="0.6" />
<text x="0" y="0" transform="translate(278.80,93.52) scale(0.900,1)" font-family='"Liberation Sans", sans-serif' font-size="5.70" font-weight="normal" fill="#1e1e1e" stroke="#1e1e1e" stroke-width="0.12" text-anchor="start" >0.50000</text>
<line x1="275.40" y1="99.55" x2="277.60" y2="99.55" stroke="#888" stroke-width="0.6" />
<text x="0" y="0" transform="translate(278.80,101.60) scale(0.900,1)" font-family='"Liberation Sans", sans-serif' font-size="5.70" font-weight="normal" fill="#1e1e1e" stroke="#1e1e1e" stroke-width="0.12" text-anchor="start" >0.45000</text>
<line x1="275.40" y1="107.63" x2="277.60" y2="107.63" stroke="#888" stroke-width="0.6" />
<text x="0" y="0" transform="translate(278.80,109.69) scale(0.900,1)" font-family='"Liberation Sans", sans-serif' font-size="5.70" font-weight="normal" fill="#1e1e1e" stroke="#1e1e1e" stroke-width="0.12" text-anchor="start" >0.40000</text>
<line x1="275.40" y1="115.72" x2="277.60" y2="115.72" stroke="#888" stroke-width="0.6" />
<text x="0" y="0" transform="translate(278.80,117.77) scale(0.900,1)" font-family='"Liberation Sans", sans-serif' font-size="5.70" font-weight="normal" fill="#1e1e1e" stroke="#1e1e1e" stroke-width="0.12" text-anchor="start" >0.35000</text>
<line x1="275.40" y1="123.80" x2="277.60" y2="123.80" stroke="#888" stroke-width="0.6" />
<text x="0" y="0" transform="translate(278.80,125.85) scale(0.900,1)" font-family='"Liberation Sans", sans-serif' font-size="5.70" font-weight="normal" fill="#1e1e1e" stroke="#1e1e1e" stroke-width="0.12" text-anchor="start" >0.30000</text>
<rect x="298.60" y="21.30" width="0.8" height="106.70" fill="url(#g7)" opacity="0.35"/>
<line x1="330.30" y1="18.50" x2="330.30" y2="125.00" stroke="#cfcfcf" stroke-width="0.55" />
<line x1="347.80" y1="18.50" x2="347.80" y2="125.00" stroke="#cfcfcf" stroke-width="0.55" />
<line x1="363.20" y1="18.50" x2="363.20" y2="125.00" stroke="#cfcfcf" stroke-width="0.55" />
<line x1="379.60" y1="18.50" x2="379.60" y2="125.00" stroke="#cfcfcf" stroke-width="0.55" />
<line x1="396.00" y1="18.50" x2="396.00" y2="125.00" stroke="#cfcfcf" stroke-width="0.55" />
<line x1="411.50" y1="18.50" x2="411.50" y2="125.00" stroke="#cfcfcf" stroke-width="0.55" />
<line x1="428.00" y1="18.50" x2="428.00" y2="125.00" stroke="#cfcfcf" stroke-width="0.55" />
<line x1="444.20" y1="18.50" x2="444.20" y2="125.00" stroke="#cfcfcf" stroke-width="0.55" />
<line x1="460.40" y1="18.50" x2="460.40" y2="125.00" stroke="#cfcfcf" stroke-width="0.55" />
<line x1="476.50" y1="18.50" x2="476.50" y2="125.00" stroke="#cfcfcf" stroke-width="0.55" />
<line x1="492.40" y1="18.50" x2="492.40" y2="125.00" stroke="#cfcfcf" stroke-width="0.55" />
<line x1="330.30" y1="18.50" x2="492.40" y2="18.50" stroke="#cfcfcf" stroke-width="0.55" />
<line x1="330.30" y1="22.60" x2="492.40" y2="22.60" stroke="#cfcfcf" stroke-width="0.55" />
<line x1="330.30" y1="27.90" x2="492.40" y2="27.90" stroke="#cfcfcf" stroke-width="0.55" />
<line x1="330.30" y1="33.20" x2="492.40" y2="33.20" stroke="#cfcfcf" stroke-width="0.55" />
<line x1="330.30" y1="38.50" x2="492.40" y2="38.50" stroke="#cfcfcf" stroke-width="0.55" />
<line x1="330.30" y1="43.80" x2="492.40" y2="43.80" stroke="#cfcfcf" stroke-width="0.55" />
<line x1="330.30" y1="49.10" x2="492.40" y2="49.10" stroke="#cfcfcf" stroke-width="0.55" />
<line x1="330.30" y1="54.40" x2="492.40" y2="54.40" stroke="#cfcfcf" stroke-width="0.55" />
<line x1="330.30" y1="59.70" x2="492.40" y2="59.70" stroke="#cfcfcf" stroke-width="0.55" />
<line x1="330.30" y1="65.00" x2="492.40" y2="65.00" stroke="#cfcfcf" stroke-width="0.55" />
<line x1="330.30" y1="70.30" x2="492.40" y2="70.30" stroke="#cfcfcf" stroke-width="0.55" />
<line x1="330.30" y1="75.60" x2="492.40" y2="75.60" stroke="#cfcfcf" stroke-width="0.55" />
<line x1="330.30" y1="80.90" x2="492.40" y2="80.90" stroke="#cfcfcf" stroke-width="0.55" />
<line x1="330.30" y1="86.20" x2="492.40" y2="86.20" stroke="#cfcfcf" stroke-width="0.55" />
<line x1="330.30" y1="91.50" x2="492.40" y2="91.50" stroke="#cfcfcf" stroke-width="0.55" />
<line x1="330.30" y1="96.80" x2="492.40" y2="96.80" stroke="#cfcfcf" stroke-width="0.55" />
<line x1="330.30" y1="102.10" x2="492.40" y2="102.10" stroke="#cfcfcf" stroke-width="0.55" />
<line x1="330.30" y1="107.40" x2="492.40" y2="107.40" stroke="#cfcfcf" stroke-width="0.55" />
<line x1="330.30" y1="112.70" x2="492.40" y2="112.70" stroke="#cfcfcf" stroke-width="0.55" />
<line x1="330.30" y1="118.00" x2="492.40" y2="118.00" stroke="#cfcfcf" stroke-width="0.55" />
<line x1="330.30" y1="123.30" x2="492.40" y2="123.30" stroke="#cfcfcf" stroke-width="0.55" />
<line x1="330.30" y1="18.50" x2="492.40" y2="18.50" stroke="#b8b8b8" stroke-width="0.6" />
<line x1="330.30" y1="125.00" x2="489.40" y2="125.00" stroke="#b8b8b8" stroke-width="0.6" />
<path d="M332.3 17.1v1.4M331.3 125.0v1.8M340.4 17.1v1.4M339.4 125.0v1.8M348.5 17.1v1.4M347.5 125.0v1.8M356.6 17.1v1.4M355.6 125.0v1.8M364.7 17.1v1.4M363.7 125.0v1.8M372.8 17.1v1.4M371.8 125.0v1.8M380.9 17.1v1.4M379.9 125.0v1.8M389.0 17.1v1.4M388.0 125.0v1.8M397.1 17.1v1.4M396.1 125.0v1.8M405.2 17.1v1.4M404.2 125.0v1.8M413.3 17.1v1.4M412.3 125.0v1.8M421.4 17.1v1.4M420.4 125.0v1.8M429.5 17.1v1.4M428.5 125.0v1.8M437.6 17.1v1.4M436.6 125.0v1.8M445.7 17.1v1.4M444.7 125.0v1.8M453.8 17.1v1.4M452.8 125.0v1.8M461.9 17.1v1.4M460.9 125.0v1.8M470.0 17.1v1.4M469.0 125.0v1.8M478.1 17.1v1.4M477.1 125.0v1.8M486.2 17.1v1.4M485.2 125.0v1.8" stroke="#8a8a8a" stroke-width="0.5"/>
<path d="M492.4 18.5h1.8M492.4 27.9h1.8M492.4 38.5h1.8M492.4 49.1h1.8M492.4 59.7h1.8M492.4 70.3h1.8M492.4 80.9h1.8M492.4 91.5h1.8M492.4 102.1h1.8M492.4 112.7h1.8M492.4 123.3h1.8" stroke="#8a8a8a" stroke-width="0.5"/>
<polygon points="328.70,18.50 330.30,18.50 330.30,126.00 324.10,126.00" fill="#dcdcdc" />
<path d="M327.1 72.3l-0.2 0.8M327.6 45.4l0.3 1.4M329.0 38.9l0.5 0.9M327.3 106.5l-0.0 1.6M328.6 60.8l0.2 1.8M329.8 55.3l0.2 1.4M328.0 62.0l-0.5 0.9M329.8 26.1l-0.3 1.0M330.0 27.6l0.4 1.5M328.1 48.8l-0.2 1.3M329.0 35.4l-0.3 1.8M327.5 123.1l-0.3 1.8M328.4 51.8l-0.6 1.2M328.4 69.5l-0.4 1.3M329.1 19.0l-0.5 1.2M328.5 23.0l-0.2 1.0M328.3 81.5l0.3 1.5M329.7 95.5l-0.1 1.1M325.1 124.4l0.3 1.4M330.0 23.2l0.5 1.4M329.4 97.4l-0.4 1.3M329.7 72.7l0.4 1.6M329.8 81.3l0.2 1.5M327.7 43.2l-0.4 1.2M330.0 29.8l0.1 1.4M328.9 85.8l-0.0 0.8M329.0 104.3l0.0 1.3M326.0 89.4l0.3 1.1M328.9 26.5l0.3 1.0M330.2 98.0l-0.0 1.2M329.1 70.0l0.3 1.4M326.1 87.6l-0.4 1.1M326.8 98.4l0.1 0.8M328.9 25.0l0.2 1.5M327.0 91.1l0.0 1.3M327.0 68.6l0.5 1.0M329.9 123.6l-0.6 1.3M330.1 106.6l-0.1 1.1M330.2 41.1l-0.3 1.4M329.2 33.7l0.5 0.9M327.7 106.7l0.5 1.5M330.0 43.4l-0.0 0.8M329.5 18.9l-0.1 1.1M328.8 33.6l-0.2 1.6M329.9 18.7l0.4 0.9M328.6 118.1l0.5 1.1M328.3 58.5l0.6 1.4M328.4 57.3l-0.3 0.8M330.0 29.4l-0.3 1.7M328.3 45.3l0.0 1.0M330.2 58.6l0.5 1.6M329.9 86.3l0.5 1.3M325.6 95.9l0.3 1.3M328.5 99.4l-0.3 0.8M325.2 118.1l-0.0 1.1M329.5 50.5l0.6 1.1M327.1 89.0l0.1 1.2M328.3 36.5l-0.4 1.7M327.3 71.9l0.5 1.8M327.1 66.9l-0.4 0.9M327.4 55.3l-0.3 1.1M329.8 79.7l0.3 1.2M328.6 63.0l-0.1 1.1M328.9 25.2l0.6 0.9M328.8 72.6l0.4 1.0M328.2 47.6l-0.1 1.2M329.4 121.0l0.4 0.8M329.8 22.0l0.5 1.3M326.0 81.6l-0.1 1.7M329.5 107.3l0.6 1.0M328.5 30.2l0.0 1.5M328.6 119.7l0.2 1.6M328.6 67.7l-0.6 1.6M330.1 43.5l0.2 1.1M328.7 32.3l0.2 1.5M328.3 30.6l0.0 1.4M327.7 60.2l0.1 0.8M328.7 50.9l0.6 1.4M327.3 113.5l-0.3 1.0M328.5 121.8l-0.2 0.8M329.0 72.1l-0.1 1.1M330.0 90.2l-0.3 0.8M328.5 54.8l0.2 1.0M328.9 104.2l0.0 1.0M326.1 122.8l0.4 1.0M329.7 42.3l-0.2 1.8M327.1 71.8l-0.3 1.2M330.1 90.0l-0.4 1.2M330.2 41.4l-0.4 0.9M329.2 25.0l0.5 1.7M330.3 97.3l0.5 1.1M330.1 38.4l0.3 0.8M327.4 89.9l-0.2 1.1M327.9 36.7l-0.3 1.2M325.0 121.2l0.6 1.0M329.7 56.8l0.4 1.2" stroke="#a0a0a0" stroke-width="0.45" opacity="0.8"/>
<polygon points="329.20,62.00 353.70,59.40 387.30,55.40 404.20,51.40 421.00,48.00 454.70,43.60 474.50,41.50 487.90,81.80 460.00,87.00 430.00,93.00 400.00,97.00 344.00,97.50 330.00,64.00" fill="url(#g8)" />
<polygon points="329.20,62.00 330.00,64.00 344.00,97.50 344.00,119.40 330.00,80.50" fill="#6c4a00" />
<line x1="433.00" y1="92.50" x2="433.00" y2="112.00" stroke="#b07a10" stroke-width="0.6" />
<polygon points="344.00,97.50 400.00,97.00 430.00,93.00 460.00,87.00 487.90,81.80 488.00,105.80 450.00,111.00 415.00,117.00 380.00,118.50 344.00,119.40" fill="#c48800" />
<path d="M346,110 C370,109.5 400,110.5 415,107 C440,104 465,102 488,100" fill="none" stroke="#e02010" stroke-width="1.3" />
<path d="M346,110 L370,109.6" fill="none" stroke="#e8d020" stroke-width="1" />
<g clip-path="url(#c2)"><ellipse cx="384" cy="84" rx="32" ry="11" fill="url(#g9)" transform="rotate(35 384 84)"/><ellipse cx="455" cy="66" rx="36" ry="22" fill="url(#g10)"/><ellipse cx="440" cy="88" rx="40" ry="8" fill="url(#g11)" transform="rotate(-12 440 88)"/></g>
<path d="M457,25 L465,25 M458,25 L453,52" fill="none" stroke="#e080e0" stroke-width="0.5" opacity="0.9"/>
<path d="M460,33 L468,33 M461,33 L457,62 M462,38 L470,38 M463,38 L460,72 M463,43 L471,43 M464,43 L462,60" fill="none" stroke="#e8b030" stroke-width="0.5" opacity="0.9"/>
<path d="M465,47 L470,47 M465,47 L461.4,77" fill="none" stroke="#30d070" stroke-width="0.7" />
<text x="0" y="0" transform="translate(299.70,36.32) scale(0.980,1)" font-family='"Liberation Serif", serif' font-size="7.00" font-weight="bold" fill="#1a1a1a" stroke="#1a1a1a" stroke-width="0.15" text-anchor="start" >3.243×10<tspan font-size="3.85" dy="-2.94">6</tspan></text>
<text x="0" y="0" transform="translate(303.00,49.70) scale(0.980,1)" font-family='"Liberation Serif", serif' font-size="7.50" font-weight="bold" fill="#1a1a1a" stroke="#1a1a1a" stroke-width="0.15" text-anchor="start" >X-axis</text>
<text x="0" y="0" transform="translate(298.00,58.82) scale(0.980,1)" font-family='"Liberation Serif", serif' font-size="7.00" font-weight="bold" fill="#1a1a1a" stroke="#1a1a1a" stroke-width="0.15" text-anchor="start" >3.242×10<tspan font-size="3.85" dy="-2.94">6</tspan></text>
<text x="0" y="0" transform="translate(305.70,74.92) scale(0.980,1)" font-family='"Liberation Serif", serif' font-size="7.00" font-weight="bold" fill="#1a1a1a" stroke="#1a1a1a" stroke-width="0.15" text-anchor="start" >-3,300</text>
<text x="0" y="0" transform="translate(305.70,88.02) scale(0.980,1)" font-family='"Liberation Serif", serif' font-size="7.00" font-weight="bold" fill="#1a1a1a" stroke="#1a1a1a" stroke-width="0.15" text-anchor="start" >-3,400</text>
<text x="0" y="0" transform="translate(302.00,97.20) scale(0.980,1)" font-family='"Liberation Serif", serif' font-size="7.50" font-weight="bold" fill="#1a1a1a" stroke="#1a1a1a" stroke-width="0.15" text-anchor="start" >Z-axis</text>
<text x="0" y="0" transform="translate(305.70,106.22) scale(0.980,1)" font-family='"Liberation Serif", serif' font-size="7.00" font-weight="bold" fill="#1a1a1a" stroke="#1a1a1a" stroke-width="0.15" text-anchor="start" >-3,500</text>
<text x="0" y="0" transform="translate(305.70,118.22) scale(0.980,1)" font-family='"Liberation Serif", serif' font-size="7.00" font-weight="bold" fill="#1a1a1a" stroke="#1a1a1a" stroke-width="0.15" text-anchor="start" >-3,600</text>
<text x="0" y="0" transform="translate(330.30,11.12) scale(0.980,1)" font-family='"Liberation Serif", serif' font-size="8.10" font-weight="bold" fill="#1a1a1a" stroke="#1a1a1a" stroke-width="0.15" text-anchor="start" >1.8547×10<tspan font-size="4.46" dy="-3.40">7</tspan></text>
<text x="0" y="0" transform="translate(378.60,11.12) scale(0.980,1)" font-family='"Liberation Serif", serif' font-size="8.10" font-weight="bold" fill="#1a1a1a" stroke="#1a1a1a" stroke-width="0.15" text-anchor="start" >1.8546×10<tspan font-size="4.46" dy="-3.40">7</tspan></text>
<text x="0" y="0" transform="translate(422.50,11.12) scale(0.980,1)" font-family='"Liberation Serif", serif' font-size="8.10" font-weight="bold" fill="#1a1a1a" stroke="#1a1a1a" stroke-width="0.15" text-anchor="start" >1.8545×10<tspan font-size="4.46" dy="-3.40">7</tspan></text>
<text x="0" y="0" transform="translate(468.70,11.12) scale(0.980,1)" font-family='"Liberation Serif", serif' font-size="8.10" font-weight="bold" fill="#1a1a1a" stroke="#1a1a1a" stroke-width="0.15" text-anchor="start" >1.8544×10<tspan font-size="4.46" dy="-3.40">7</tspan></text>
<text x="0" y="0" transform="translate(499.80,20.92) scale(0.980,1)" font-family='"Liberation Serif", serif' font-size="7.00" font-weight="bold" fill="#1a1a1a" stroke="#1a1a1a" stroke-width="0.15" text-anchor="start" >-3,300</text>
<text x="0" y="0" transform="translate(499.80,35.52) scale(0.980,1)" font-family='"Liberation Serif", serif' font-size="7.00" font-weight="bold" fill="#1a1a1a" stroke="#1a1a1a" stroke-width="0.15" text-anchor="start" >-3,400</text>
<text x="0" y="0" transform="translate(495.80,42.70) scale(0.980,1)" font-family='"Liberation Serif", serif' font-size="7.50" font-weight="bold" fill="#1a1a1a" stroke="#1a1a1a" stroke-width="0.15" text-anchor="start" >Z-axis</text>
<text x="0" y="0" transform="translate(499.80,50.72) scale(0.980,1)" font-family='"Liberation Serif", serif' font-size="7.00" font-weight="bold" fill="#1a1a1a" stroke="#1a1a1a" stroke-width="0.15" text-anchor="start" >-3,500</text>
<text x="0" y="0" transform="translate(499.80,63.92) scale(0.980,1)" font-family='"Liberation Serif", serif' font-size="7.00" font-weight="bold" fill="#1a1a1a" stroke="#1a1a1a" stroke-width="0.15" text-anchor="start" >-3,600</text>
<text x="0" y="0" transform="translate(496.00,83.20) scale(0.980,1)" font-family='"Liberation Serif", serif' font-size="7.50" font-weight="bold" fill="#1a1a1a" stroke="#1a1a1a" stroke-width="0.15" text-anchor="start" >X-axis</text>
<text x="0" y="0" transform="translate(498.00,95.52) scale(0.980,1)" font-family='"Liberation Serif", serif' font-size="7.00" font-weight="bold" fill="#1a1a1a" stroke="#1a1a1a" stroke-width="0.15" text-anchor="start" >3.243×10<tspan font-size="3.85" dy="-2.94">6</tspan></text>
<text x="0" y="0" transform="translate(495.80,118.02) scale(0.980,1)" font-family='"Liberation Serif", serif' font-size="7.00" font-weight="bold" fill="#1a1a1a" stroke="#1a1a1a" stroke-width="0.15" text-anchor="start" >3.242×10<tspan font-size="3.85" dy="-2.94">6</tspan></text>
<text x="0" y="0" transform="translate(337.20,139.52) scale(0.980,1)" font-family='"Liberation Serif", serif' font-size="8.10" font-weight="bold" fill="#1a1a1a" stroke="#1a1a1a" stroke-width="0.15" text-anchor="start" >1.8547×10<tspan font-size="4.46" dy="-3.40">7</tspan></text>
<text x="0" y="0" transform="translate(383.90,139.52) scale(0.980,1)" font-family='"Liberation Serif", serif' font-size="8.10" font-weight="bold" fill="#1a1a1a" stroke="#1a1a1a" stroke-width="0.15" text-anchor="start" >1.8546×10<tspan font-size="4.46" dy="-3.40">7</tspan></text>
<text x="0" y="0" transform="translate(429.80,139.52) scale(0.980,1)" font-family='"Liberation Serif", serif' font-size="8.10" font-weight="bold" fill="#1a1a1a" stroke="#1a1a1a" stroke-width="0.15" text-anchor="start" >1.8545×10<tspan font-size="4.46" dy="-3.40">7</tspan></text>
<text x="0" y="0" transform="translate(476.90,139.52) scale(0.980,1)" font-family='"Liberation Serif", serif' font-size="8.10" font-weight="bold" fill="#1a1a1a" stroke="#1a1a1a" stroke-width="0.15" text-anchor="start" >1.8544×10<tspan font-size="4.46" dy="-3.40">7</tspan></text>
<text x="5.00" y="149.96" font-family='"Liberation Sans", sans-serif' font-size="4.60" font-weight="bold" fill="#111" stroke="#111" stroke-width="0.12" text-anchor="start" >MINSTRESS [U]</text>
<text x="5.00" y="155.16" font-family='"Liberation Sans", sans-serif' font-size="4.60" font-weight="normal" fill="#222" stroke="#222" stroke-width="0.12" text-anchor="start" >Principal stress [MPa]</text>
<rect x="4.40" y="162.30" width="9.30" height="98.00" fill="url(#g12)" />
<line x1="13.70" y1="168.20" x2="15.90" y2="168.20" stroke="#888" stroke-width="0.6" />
<text x="0" y="0" transform="translate(17.40,170.29) scale(0.900,1)" font-family='"Liberation Sans", sans-serif' font-size="5.80" font-weight="normal" fill="#1e1e1e" stroke="#1e1e1e" stroke-width="0.12" text-anchor="start" >98.00</text>
<line x1="13.70" y1="179.46" x2="15.90" y2="179.46" stroke="#888" stroke-width="0.6" />
<text x="0" y="0" transform="translate(17.40,181.55) scale(0.900,1)" font-family='"Liberation Sans", sans-serif' font-size="5.80" font-weight="normal" fill="#1e1e1e" stroke="#1e1e1e" stroke-width="0.12" text-anchor="start" >97.00</text>
<line x1="13.70" y1="190.72" x2="15.90" y2="190.72" stroke="#888" stroke-width="0.6" />
<text x="0" y="0" transform="translate(17.40,192.81) scale(0.900,1)" font-family='"Liberation Sans", sans-serif' font-size="5.80" font-weight="normal" fill="#1e1e1e" stroke="#1e1e1e" stroke-width="0.12" text-anchor="start" >96.00</text>
<line x1="13.70" y1="201.99" x2="15.90" y2="201.99" stroke="#888" stroke-width="0.6" />
<text x="0" y="0" transform="translate(17.40,204.08) scale(0.900,1)" font-family='"Liberation Sans", sans-serif' font-size="5.80" font-weight="normal" fill="#1e1e1e" stroke="#1e1e1e" stroke-width="0.12" text-anchor="start" >95.00</text>
<line x1="13.70" y1="213.25" x2="15.90" y2="213.25" stroke="#888" stroke-width="0.6" />
<text x="0" y="0" transform="translate(17.40,215.34) scale(0.900,1)" font-family='"Liberation Sans", sans-serif' font-size="5.80" font-weight="normal" fill="#1e1e1e" stroke="#1e1e1e" stroke-width="0.12" text-anchor="start" >94.00</text>
<line x1="13.70" y1="224.51" x2="15.90" y2="224.51" stroke="#888" stroke-width="0.6" />
<text x="0" y="0" transform="translate(17.40,226.60) scale(0.900,1)" font-family='"Liberation Sans", sans-serif' font-size="5.80" font-weight="normal" fill="#1e1e1e" stroke="#1e1e1e" stroke-width="0.12" text-anchor="start" >93.00</text>
<line x1="13.70" y1="235.78" x2="15.90" y2="235.78" stroke="#888" stroke-width="0.6" />
<text x="0" y="0" transform="translate(17.40,237.86) scale(0.900,1)" font-family='"Liberation Sans", sans-serif' font-size="5.80" font-weight="normal" fill="#1e1e1e" stroke="#1e1e1e" stroke-width="0.12" text-anchor="start" >92.00</text>
<line x1="13.70" y1="247.04" x2="15.90" y2="247.04" stroke="#888" stroke-width="0.6" />
<text x="0" y="0" transform="translate(17.40,249.13) scale(0.900,1)" font-family='"Liberation Sans", sans-serif' font-size="5.80" font-weight="normal" fill="#1e1e1e" stroke="#1e1e1e" stroke-width="0.12" text-anchor="start" >91.00</text>
<line x1="13.70" y1="258.30" x2="15.90" y2="258.30" stroke="#888" stroke-width="0.6" />
<text x="0" y="0" transform="translate(17.40,260.39) scale(0.900,1)" font-family='"Liberation Sans", sans-serif' font-size="5.80" font-weight="normal" fill="#1e1e1e" stroke="#1e1e1e" stroke-width="0.12" text-anchor="start" >90.00</text>
<rect x="31.90" y="162.30" width="0.8" height="98.00" fill="url(#g13)" opacity="0.35"/>
<line x1="32.30" y1="211.00" x2="40.00" y2="211.00" stroke="#7ee" stroke-width="0.7" />
<line x1="68.60" y1="163.20" x2="68.60" y2="266.80" stroke="#cfcfcf" stroke-width="0.55" />
<line x1="85.00" y1="163.20" x2="85.00" y2="266.80" stroke="#cfcfcf" stroke-width="0.55" />
<line x1="101.40" y1="163.20" x2="101.40" y2="266.80" stroke="#cfcfcf" stroke-width="0.55" />
<line x1="117.80" y1="163.20" x2="117.80" y2="266.80" stroke="#cfcfcf" stroke-width="0.55" />
<line x1="134.20" y1="163.20" x2="134.20" y2="266.80" stroke="#cfcfcf" stroke-width="0.55" />
<line x1="150.60" y1="163.20" x2="150.60" y2="266.80" stroke="#cfcfcf" stroke-width="0.55" />
<line x1="167.00" y1="163.20" x2="167.00" y2="266.80" stroke="#cfcfcf" stroke-width="0.55" />
<line x1="183.40" y1="163.20" x2="183.40" y2="266.80" stroke="#cfcfcf" stroke-width="0.55" />
<line x1="199.80" y1="163.20" x2="199.80" y2="266.80" stroke="#cfcfcf" stroke-width="0.55" />
<line x1="216.20" y1="163.20" x2="216.20" y2="266.80" stroke="#cfcfcf" stroke-width="0.55" />
<line x1="231.70" y1="163.20" x2="231.70" y2="266.80" stroke="#cfcfcf" stroke-width="0.55" />
<line x1="68.60" y1="163.20" x2="231.70" y2="163.20" stroke="#cfcfcf" stroke-width="0.55" />
<line x1="68.60" y1="168.50" x2="231.70" y2="168.50" stroke="#cfcfcf" stroke-width="0.55" />
<line x1="68.60" y1="173.80" x2="231.70" y2="173.80" stroke="#cfcfcf" stroke-width="0.55" />
<line x1="68.60" y1="179.10" x2="231.70" y2="179.10" stroke="#cfcfcf" stroke-width="0.55" />
<line x1="68.60" y1="184.40" x2="231.70" y2="184.40" stroke="#cfcfcf" stroke-width="0.55" />
<line x1="68.60" y1="189.70" x2="231.70" y2="189.70" stroke="#cfcfcf" stroke-width="0.55" />
<line x1="68.60" y1="195.00" x2="231.70" y2="195.00" stroke="#cfcfcf" stroke-width="0.55" />
<line x1="68.60" y1="200.30" x2="231.70" y2="200.30" stroke="#cfcfcf" stroke-width="0.55" />
<line x1="68.60" y1="205.60" x2="231.70" y2="205.60" stroke="#cfcfcf" stroke-width="0.55" />
<line x1="68.60" y1="210.90" x2="231.70" y2="210.90" stroke="#cfcfcf" stroke-width="0.55" />
<line x1="68.60" y1="216.20" x2="231.70" y2="216.20" stroke="#cfcfcf" stroke-width="0.55" />
<line x1="68.60" y1="221.50" x2="231.70" y2="221.50" stroke="#cfcfcf" stroke-width="0.55" />
<line x1="68.60" y1="226.80" x2="231.70" y2="226.80" stroke="#cfcfcf" stroke-width="0.55" />
<line x1="68.60" y1="232.10" x2="231.70" y2="232.10" stroke="#cfcfcf" stroke-width="0.55" />
<line x1="68.60" y1="237.40" x2="231.70" y2="237.40" stroke="#cfcfcf" stroke-width="0.55" />
<line x1="68.60" y1="242.70" x2="231.70" y2="242.70" stroke="#cfcfcf" stroke-width="0.55" />
<line x1="68.60" y1="248.00" x2="231.70" y2="248.00" stroke="#cfcfcf" stroke-width="0.55" />
<line x1="68.60" y1="253.30" x2="231.70" y2="253.30" stroke="#cfcfcf" stroke-width="0.55" />
<line x1="68.60" y1="258.60" x2="231.70" y2="258.60" stroke="#cfcfcf" stroke-width="0.55" />
<line x1="68.60" y1="263.90" x2="231.70" y2="263.90" stroke="#cfcfcf" stroke-width="0.55" />
<line x1="68.60" y1="163.20" x2="231.70" y2="163.20" stroke="#b8b8b8" stroke-width="0.6" />
<line x1="68.60" y1="266.80" x2="228.70" y2="266.80" stroke="#b8b8b8" stroke-width="0.6" />
<path d="M70.6 161.8v1.4M69.6 266.8v1.8M78.7 161.8v1.4M77.7 266.8v1.8M86.8 161.8v1.4M85.8 266.8v1.8M94.9 161.8v1.4M93.9 266.8v1.8M103.0 161.8v1.4M102.0 266.8v1.8M111.1 161.8v1.4M110.1 266.8v1.8M119.2 161.8v1.4M118.2 266.8v1.8M127.3 161.8v1.4M126.3 266.8v1.8M135.4 161.8v1.4M134.4 266.8v1.8M143.5 161.8v1.4M142.5 266.8v1.8M151.6 161.8v1.4M150.6 266.8v1.8M159.7 161.8v1.4M158.7 266.8v1.8M167.8 161.8v1.4M166.8 266.8v1.8M175.9 161.8v1.4M174.9 266.8v1.8M184.0 161.8v1.4M183.0 266.8v1.8M192.1 161.8v1.4M191.1 266.8v1.8M200.2 161.8v1.4M199.2 266.8v1.8M208.3 161.8v1.4M207.3 266.8v1.8M216.4 161.8v1.4M215.4 266.8v1.8M224.5 161.8v1.4M223.5 266.8v1.8" stroke="#8a8a8a" stroke-width="0.5"/>
<path d="M231.7 163.2h1.8M231.7 173.8h1.8M231.7 184.4h1.8M231.7 195.0h1.8M231.7 205.6h1.8M231.7 216.2h1.8M231.7 226.8h1.8M231.7 237.4h1.8M231.7 248.0h1.8M231.7 258.6h1.8" stroke="#8a8a8a" stroke-width="0.5"/>
<polygon points="67.00,163.20 68.60,163.20 68.60,266.80 62.40,266.80" fill="#dcdcdc" />
<path d="M67.6 168.3l-0.2 1.7M67.0 183.2l0.5 0.8M67.9 205.8l0.3 0.8M66.9 166.8l0.5 1.1M68.1 240.6l-0.2 1.1M66.3 262.4l-0.3 1.5M66.4 196.0l-0.6 1.6M66.5 258.1l0.5 0.8M67.2 187.4l0.5 1.8M66.1 203.2l-0.1 1.3M63.8 259.4l0.4 1.5M67.4 248.4l0.1 1.1M66.6 196.3l0.3 0.9M68.0 183.6l-0.3 0.9M67.8 166.7l-0.2 1.8M68.5 254.7l-0.3 0.9M67.6 173.2l0.3 1.2M67.0 187.5l0.1 1.5M67.8 240.7l0.2 0.9M64.7 250.3l0.1 1.2M64.6 239.7l-0.3 1.0M68.3 179.1l0.1 1.1M68.6 204.2l0.0 1.0M66.8 247.0l0.6 0.9M67.9 212.4l0.4 1.7M67.3 167.4l-0.5 1.0M66.1 264.0l0.5 1.2M65.5 252.9l-0.3 1.6M63.3 261.2l0.1 1.4M67.0 185.7l-0.4 1.0M67.5 189.6l0.2 1.0M67.5 164.4l0.2 1.0M66.2 195.5l0.4 1.3M66.9 169.8l-0.1 1.4M64.5 229.4l-0.4 1.5M66.1 205.7l-0.2 1.8M67.3 195.6l-0.2 1.2M68.6 252.7l-0.2 1.0M64.7 238.6l-0.6 1.7M68.0 207.1l-0.1 1.7M65.5 210.9l-0.6 1.4M68.2 229.6l-0.5 1.4M67.0 201.6l-0.4 1.1M68.3 217.2l-0.5 1.3M68.4 246.6l-0.4 0.9M68.5 260.9l-0.0 0.9M65.0 259.2l0.5 1.4M64.1 248.6l0.3 1.0M68.1 205.1l0.4 1.0M67.0 185.8l0.0 1.2M67.0 175.9l0.3 1.7M67.8 167.5l0.3 0.8M63.8 250.0l0.1 1.4M65.5 228.2l-0.1 1.4M67.4 207.3l-0.1 1.2M67.9 165.6l-0.0 1.0M67.5 242.3l-0.1 1.0M65.2 212.2l-0.4 1.2M67.5 172.7l0.0 0.8M64.4 229.1l0.3 1.6M64.9 216.2l0.0 1.2M63.4 261.7l0.4 1.8M67.7 239.0l-0.4 1.8M68.4 214.2l0.5 1.0M68.2 244.9l-0.5 1.2M64.3 241.5l0.5 1.1M64.0 247.7l0.0 1.7M66.7 184.8l0.0 1.1M67.2 167.0l-0.4 1.7M68.1 233.6l-0.4 1.6M67.6 175.1l0.2 1.2M66.1 253.6l0.1 1.7M68.6 174.0l0.2 1.2M64.7 245.8l0.6 1.4M67.8 200.5l-0.1 1.0M63.8 240.2l0.4 1.1M68.5 229.4l0.1 1.5M65.6 195.6l-0.6 0.9M66.1 227.0l0.0 1.7M66.9 176.9l0.2 0.8M67.6 163.5l-0.5 1.2M67.5 186.4l0.1 1.0M66.3 227.8l-0.4 1.7M66.3 188.4l-0.5 1.4M67.4 253.5l-0.1 1.1M68.0 164.4l0.1 1.2M66.1 230.1l0.5 1.5M68.3 188.9l-0.5 1.3M66.0 205.3l-0.5 1.6M67.9 164.5l0.5 0.9M67.6 183.9l0.0 1.4M64.2 247.5l-0.2 1.1M68.4 168.2l0.3 1.5" stroke="#a0a0a0" stroke-width="0.45" opacity="0.8"/>
<polygon points="68.00,203.20 100.00,201.00 130.00,198.00 160.00,194.50 190.00,189.50 213.00,185.00 226.30,227.20 190.00,232.00 150.00,236.00 110.00,237.00 83.60,236.70 69.00,206.00" fill="url(#g14)" />
<polygon points="68.00,203.20 69.00,206.00 83.60,236.70 83.60,257.70 68.50,221.70" fill="#045a3c" />
<polygon points="83.60,236.70 110.00,237.00 150.00,236.00 190.00,232.00 226.30,226.70 226.30,239.50 200.00,246.00 171.00,250.80 150.00,254.00 120.00,256.00 83.60,257.70" fill="#10c080" />
<path d="M84,248.4 C110,248.5 130,249 145,248.5 C170,244 200,239 226,235.4" fill="none" stroke="#d0c010" stroke-width="1.3" />
<g clip-path="url(#c3)"><ellipse cx="120" cy="224" rx="34" ry="11" fill="url(#g15)" transform="rotate(28 120 224)"/><ellipse cx="200" cy="198" rx="44" ry="24" fill="url(#g16)"/><ellipse cx="205" cy="212" rx="34" ry="22" fill="url(#g17)"/><ellipse cx="196" cy="218.5" rx="34" ry="12" fill="url(#g18)"/><ellipse cx="196" cy="218.5" rx="25" ry="8" fill="url(#g19)"/><ellipse cx="191" cy="194" rx="25" ry="13" fill="url(#g20)"/></g>
<path d="M196,172 L204,172 M197,172 L189,197" fill="none" stroke="#e080e0" stroke-width="0.5" opacity="0.9"/>
<path d="M200,178 L208,178 M201,178 L197,213 M203,182 L211,182 M204,182 L201,226 M204,186 L212,186 M205,186 L203,213" fill="none" stroke="#e8b030" stroke-width="0.5" opacity="0.9"/>
<line x1="171.00" y1="232.50" x2="171.00" y2="250.80" stroke="#1ea070" stroke-width="0.6" />
<text x="0" y="0" transform="translate(37.30,181.82) scale(0.980,1)" font-family='"Liberation Serif", serif' font-size="7.00" font-weight="bold" fill="#1a1a1a" stroke="#1a1a1a" stroke-width="0.15" text-anchor="start" >3.243×10<tspan font-size="3.85" dy="-2.94">6</tspan></text>
<text x="0" y="0" transform="translate(38.60,192.10) scale(0.980,1)" font-family='"Liberation Serif", serif' font-size="7.50" font-weight="bold" fill="#1a1a1a" stroke="#1a1a1a" stroke-width="0.15" text-anchor="start" >X-axis</text>
<text x="0" y="0" transform="translate(33.80,204.92) scale(0.980,1)" font-family='"Liberation Serif", serif' font-size="7.00" font-weight="bold" fill="#1a1a1a" stroke="#1a1a1a" stroke-width="0.15" text-anchor="start" >3.242×10<tspan font-size="3.85" dy="-2.94">6</tspan></text>
<text x="0" y="0" transform="translate(43.20,216.72) scale(0.980,1)" font-family='"Liberation Serif", serif' font-size="7.00" font-weight="bold" fill="#1a1a1a" stroke="#1a1a1a" stroke-width="0.15" text-anchor="start" >-3,300</text>
<text x="0" y="0" transform="translate(43.20,230.12) scale(0.980,1)" font-family='"Liberation Serif", serif' font-size="7.00" font-weight="bold" fill="#1a1a1a" stroke="#1a1a1a" stroke-width="0.15" text-anchor="start" >-3,400</text>
<text x="0" y="0" transform="translate(38.00,237.50) scale(0.980,1)" font-family='"Liberation Serif", serif' font-size="7.50" font-weight="bold" fill="#1a1a1a" stroke="#1a1a1a" stroke-width="0.15" text-anchor="start" >Z-axis</text>
<text x="0" y="0" transform="translate(43.20,246.22) scale(0.980,1)" font-family='"Liberation Serif", serif' font-size="7.00" font-weight="bold" fill="#1a1a1a" stroke="#1a1a1a" stroke-width="0.15" text-anchor="start" >-3,500</text>
<text x="0" y="0" transform="translate(43.20,257.92) scale(0.980,1)" font-family='"Liberation Serif", serif' font-size="7.00" font-weight="bold" fill="#1a1a1a" stroke="#1a1a1a" stroke-width="0.15" text-anchor="start" >-3,600</text>
<text x="0" y="0" transform="translate(65.90,155.92) scale(0.980,1)" font-family='"Liberation Serif", serif' font-size="8.10" font-weight="bold" fill="#1a1a1a" stroke="#1a1a1a" stroke-width="0.15" text-anchor="start" >1.8547×10<tspan font-size="4.46" dy="-3.40">7</tspan></text>
<text x="0" y="0" transform="translate(112.00,155.92) scale(0.980,1)" font-family='"Liberation Serif", serif' font-size="8.10" font-weight="bold" fill="#1a1a1a" stroke="#1a1a1a" stroke-width="0.15" text-anchor="start" >1.8546×10<tspan font-size="4.46" dy="-3.40">7</tspan></text>
<text x="0" y="0" transform="translate(204.50,156.22) scale(0.980,1)" font-family='"Liberation Serif", serif' font-size="8.10" font-weight="bold" fill="#1a1a1a" stroke="#1a1a1a" stroke-width="0.15" text-anchor="start" >1.8544×10<tspan font-size="4.46" dy="-3.40">7</tspan></text>
<text x="0" y="0" transform="translate(158.00,156.04) scale(0.980,1)" font-family='"Liberation Serif", serif' font-size="7.60" font-weight="bold" fill="#1a1a1a" stroke="#1a1a1a" stroke-width="0.15" text-anchor="start" >1.8545E+7</text>
<text x="0" y="0" transform="translate(231.70,164.32) scale(0.980,1)" font-family='"Liberation Serif", serif' font-size="7.00" font-weight="bold" fill="#1a1a1a" stroke="#1a1a1a" stroke-width="0.15" text-anchor="start" >-3,300</text>
<text x="0" y="0" transform="translate(237.70,178.52) scale(0.980,1)" font-family='"Liberation Serif", serif' font-size="7.00" font-weight="bold" fill="#1a1a1a" stroke="#1a1a1a" stroke-width="0.15" text-anchor="start" >-3,400</text>
<text x="0" y="0" transform="translate(245.40,185.00) scale(0.980,1)" font-family='"Liberation Serif", serif' font-size="7.50" font-weight="bold" fill="#1a1a1a" stroke="#1a1a1a" stroke-width="0.15" text-anchor="start" >Z-axis</text>
<text x="0" y="0" transform="translate(237.00,193.82) scale(0.980,1)" font-family='"Liberation Serif", serif' font-size="7.00" font-weight="bold" fill="#1a1a1a" stroke="#1a1a1a" stroke-width="0.15" text-anchor="start" >-3,500</text>
<text x="0" y="0" transform="translate(237.00,207.52) scale(0.980,1)" font-family='"Liberation Serif", serif' font-size="7.00" font-weight="bold" fill="#1a1a1a" stroke="#1a1a1a" stroke-width="0.15" text-anchor="start" >-3,600</text>
<text x="0" y="0" transform="translate(235.50,223.70) scale(0.980,1)" font-family='"Liberation Serif", serif' font-size="7.50" font-weight="bold" fill="#1a1a1a" stroke="#1a1a1a" stroke-width="0.15" text-anchor="start" >X-axis</text>
<text x="0" y="0" transform="translate(233.60,235.22) scale(0.980,1)" font-family='"Liberation Serif", serif' font-size="7.00" font-weight="bold" fill="#1a1a1a" stroke="#1a1a1a" stroke-width="0.15" text-anchor="start" >3.243×10<tspan font-size="3.85" dy="-2.94">6</tspan></text>
<text x="0" y="0" transform="translate(231.70,257.02) scale(0.980,1)" font-family='"Liberation Serif", serif' font-size="7.00" font-weight="bold" fill="#1a1a1a" stroke="#1a1a1a" stroke-width="0.15" text-anchor="start" >3.242×10<tspan font-size="3.85" dy="-2.94">6</tspan></text>
<text x="0" y="0" transform="translate(68.60,276.42) scale(0.980,1)" font-family='"Liberation Serif", serif' font-size="8.10" font-weight="bold" fill="#1a1a1a" stroke="#1a1a1a" stroke-width="0.15" text-anchor="start" >1.8547×10<tspan font-size="4.46" dy="-3.40">7</tspan></text>
<text x="0" y="0" transform="translate(115.00,276.42) scale(0.980,1)" font-family='"Liberation Serif", serif' font-size="8.10" font-weight="bold" fill="#1a1a1a" stroke="#1a1a1a" stroke-width="0.15" text-anchor="start" >1.8546×10<tspan font-size="4.46" dy="-3.40">7</tspan></text>
<text x="0" y="0" transform="translate(162.70,276.52) scale(0.980,1)" font-family='"Liberation Serif", serif' font-size="8.10" font-weight="bold" fill="#1a1a1a" stroke="#1a1a1a" stroke-width="0.15" text-anchor="start" >1.8545×10<tspan font-size="4.46" dy="-3.40">7</tspan></text>
<text x="0" y="0" transform="translate(209.00,276.52) scale(0.980,1)" font-family='"Liberation Serif", serif' font-size="8.10" font-weight="bold" fill="#1a1a1a" stroke="#1a1a1a" stroke-width="0.15" text-anchor="start" >1.8544×10<tspan font-size="4.46" dy="-3.40">7</tspan></text>
<text x="0" y="0" transform="translate(144.40,284.20) scale(0.980,1)" font-family='"Liberation Serif", serif' font-size="7.50" font-weight="bold" fill="#1a1a1a" stroke="#1a1a1a" stroke-width="0.15" text-anchor="start" >Y-axis</text>
<text x="267.00" y="148.46" font-family='"Liberation Sans", sans-serif' font-size="4.60" font-weight="bold" fill="#111" stroke="#111" stroke-width="0.12" text-anchor="start" >POSI [U]</text>
<text x="267.00" y="153.66" font-family='"Liberation Sans", sans-serif' font-size="4.60" font-weight="normal" fill="#222" stroke="#222" stroke-width="0.12" text-anchor="start" >Poissons ratio</text>
<rect x="267.00" y="160.90" width="8.70" height="100.60" fill="url(#g21)" />
<line x1="275.70" y1="163.80" x2="277.90" y2="163.80" stroke="#888" stroke-width="0.6" />
<text x="0" y="0" transform="translate(279.00,165.89) scale(0.900,1)" font-family='"Liberation Sans", sans-serif' font-size="5.80" font-weight="normal" fill="#1e1e1e" stroke="#1e1e1e" stroke-width="0.12" text-anchor="start" >0.28</text>
<line x1="275.70" y1="176.18" x2="277.90" y2="176.18" stroke="#888" stroke-width="0.6" />
<text x="0" y="0" transform="translate(279.00,178.26) scale(0.900,1)" font-family='"Liberation Sans", sans-serif' font-size="5.80" font-weight="normal" fill="#1e1e1e" stroke="#1e1e1e" stroke-width="0.12" text-anchor="start" >0.28</text>
<line x1="275.70" y1="188.55" x2="277.90" y2="188.55" stroke="#888" stroke-width="0.6" />
<text x="0" y="0" transform="translate(279.00,190.64) scale(0.900,1)" font-family='"Liberation Sans", sans-serif' font-size="5.80" font-weight="normal" fill="#1e1e1e" stroke="#1e1e1e" stroke-width="0.12" text-anchor="start" >0.27</text>
<line x1="275.70" y1="200.93" x2="277.90" y2="200.93" stroke="#888" stroke-width="0.6" />
<text x="0" y="0" transform="translate(279.00,203.01) scale(0.900,1)" font-family='"Liberation Sans", sans-serif' font-size="5.80" font-weight="normal" fill="#1e1e1e" stroke="#1e1e1e" stroke-width="0.12" text-anchor="start" >0.27</text>
<line x1="275.70" y1="213.30" x2="277.90" y2="213.30" stroke="#888" stroke-width="0.6" />
<text x="0" y="0" transform="translate(279.00,215.39) scale(0.900,1)" font-family='"Liberation Sans", sans-serif' font-size="5.80" font-weight="normal" fill="#1e1e1e" stroke="#1e1e1e" stroke-width="0.12" text-anchor="start" >0.26</text>
<line x1="275.70" y1="225.68" x2="277.90" y2="225.68" stroke="#888" stroke-width="0.6" />
<text x="0" y="0" transform="translate(279.00,227.76) scale(0.900,1)" font-family='"Liberation Sans", sans-serif' font-size="5.80" font-weight="normal" fill="#1e1e1e" stroke="#1e1e1e" stroke-width="0.12" text-anchor="start" >0.26</text>
<line x1="275.70" y1="238.05" x2="277.90" y2="238.05" stroke="#888" stroke-width="0.6" />
<text x="0" y="0" transform="translate(279.00,240.14) scale(0.900,1)" font-family='"Liberation Sans", sans-serif' font-size="5.80" font-weight="normal" fill="#1e1e1e" stroke="#1e1e1e" stroke-width="0.12" text-anchor="start" >0.25</text>
<line x1="275.70" y1="250.43" x2="277.90" y2="250.43" stroke="#888" stroke-width="0.6" />
<text x="0" y="0" transform="translate(279.00,252.51) scale(0.900,1)" font-family='"Liberation Sans", sans-serif' font-size="5.80" font-weight="normal" fill="#1e1e1e" stroke="#1e1e1e" stroke-width="0.12" text-anchor="start" >0.24</text>
<line x1="275.70" y1="262.80" x2="277.90" y2="262.80" stroke="#888" stroke-width="0.6" />
<text x="0" y="0" transform="translate(279.00,264.89) scale(0.900,1)" font-family='"Liberation Sans", sans-serif' font-size="5.80" font-weight="normal" fill="#1e1e1e" stroke="#1e1e1e" stroke-width="0.12" text-anchor="start" >0.24</text>
<rect x="291.60" y="160.90" width="0.8" height="100.60" fill="url(#g22)" opacity="0.35"/>
<line x1="292.00" y1="221.00" x2="300.00" y2="221.00" stroke="#7ee" stroke-width="0.7" />
<line x1="332.30" y1="162.30" x2="332.30" y2="266.90" stroke="#cfcfcf" stroke-width="0.55" />
<line x1="348.20" y1="162.30" x2="348.20" y2="266.90" stroke="#cfcfcf" stroke-width="0.55" />
<line x1="364.10" y1="162.30" x2="364.10" y2="266.90" stroke="#cfcfcf" stroke-width="0.55" />
<line x1="380.00" y1="162.30" x2="380.00" y2="266.90" stroke="#cfcfcf" stroke-width="0.55" />
<line x1="395.90" y1="162.30" x2="395.90" y2="266.90" stroke="#cfcfcf" stroke-width="0.55" />
<line x1="411.80" y1="162.30" x2="411.80" y2="266.90" stroke="#cfcfcf" stroke-width="0.55" />
<line x1="427.70" y1="162.30" x2="427.70" y2="266.90" stroke="#cfcfcf" stroke-width="0.55" />
<line x1="443.60" y1="162.30" x2="443.60" y2="266.90" stroke="#cfcfcf" stroke-width="0.55" />
<line x1="459.50" y1="162.30" x2="459.50" y2="266.90" stroke="#cfcfcf" stroke-width="0.55" />
<line x1="475.40" y1="162.30" x2="475.40" y2="266.90" stroke="#cfcfcf" stroke-width="0.55" />
<line x1="491.30" y1="162.30" x2="491.30" y2="266.90" stroke="#cfcfcf" stroke-width="0.55" />
<line x1="332.30" y1="162.30" x2="491.30" y2="162.30" stroke="#cfcfcf" stroke-width="0.55" />
<line x1="332.30" y1="167.60" x2="491.30" y2="167.60" stroke="#cfcfcf" stroke-width="0.55" />
<line x1="332.30" y1="172.90" x2="491.30" y2="172.90" stroke="#cfcfcf" stroke-width="0.55" />
<line x1="332.30" y1="178.20" x2="491.30" y2="178.20" stroke="#cfcfcf" stroke-width="0.55" />
<line x1="332.30" y1="183.50" x2="491.30" y2="183.50" stroke="#cfcfcf" stroke-width="0.55" />
<line x1="332.30" y1="188.80" x2="491.30" y2="188.80" stroke="#cfcfcf" stroke-width="0.55" />
<line x1="332.30" y1="194.10" x2="491.30" y2="194.10" stroke="#cfcfcf" stroke-width="0.55" />
<line x1="332.30" y1="199.40" x2="491.30" y2="199.40" stroke="#cfcfcf" stroke-width="0.55" />
<line x1="332.30" y1="204.70" x2="491.30" y2="204.70" stroke="#cfcfcf" stroke-width="0.55" />
<line x1="332.30" y1="210.00" x2="491.30" y2="210.00" stroke="#cfcfcf" stroke-width="0.55" />
<line x1="332.30" y1="215.30" x2="491.30" y2="215.30" stroke="#cfcfcf" stroke-width="0.55" />
<line x1="332.30" y1="220.60" x2="491.30" y2="220.60" stroke="#cfcfcf" stroke-width="0.55" />
<line x1="332.30" y1="225.90" x2="491.30" y2="225.90" stroke="#cfcfcf" stroke-width="0.55" />
<line x1="332.30" y1="231.20" x2="491.30" y2="231.20" stroke="#cfcfcf" stroke-width="0.55" />
<line x1="332.30" y1="236.50" x2="491.30" y2="236.50" stroke="#cfcfcf" stroke-width="0.55" />
<line x1="332.30" y1="241.80" x2="491.30" y2="241.80" stroke="#cfcfcf" stroke-width="0.55" />
<line x1="332.30" y1="247.10" x2="491.30" y2="247.10" stroke="#cfcfcf" stroke-width="0.55" />
<line x1="332.30" y1="252.40" x2="491.30" y2="252.40" stroke="#cfcfcf" stroke-width="0.55" />
<line x1="332.30" y1="257.70" x2="491.30" y2="257.70" stroke="#cfcfcf" stroke-width="0.55" />
<line x1="332.30" y1="263.00" x2="491.30" y2="263.00" stroke="#cfcfcf" stroke-width="0.55" />
<line x1="332.30" y1="162.30" x2="491.30" y2="162.30" stroke="#b8b8b8" stroke-width="0.6" />
<line x1="332.30" y1="266.90" x2="488.30" y2="266.90" stroke="#b8b8b8" stroke-width="0.6" />
<path d="M334.3 160.9v1.4M333.3 266.9v1.8M342.4 160.9v1.4M341.4 266.9v1.8M350.5 160.9v1.4M349.5 266.9v1.8M358.6 160.9v1.4M357.6 266.9v1.8M366.7 160.9v1.4M365.7 266.9v1.8M374.8 160.9v1.4M373.8 266.9v1.8M382.9 160.9v1.4M381.9 266.9v1.8M391.0 160.9v1.4M390.0 266.9v1.8M399.1 160.9v1.4M398.1 266.9v1.8M407.2 160.9v1.4M406.2 266.9v1.8M415.3 160.9v1.4M414.3 266.9v1.8M423.4 160.9v1.4M422.4 266.9v1.8M431.5 160.9v1.4M430.5 266.9v1.8M439.6 160.9v1.4M438.6 266.9v1.8M447.7 160.9v1.4M446.7 266.9v1.8M455.8 160.9v1.4M454.8 266.9v1.8M463.9 160.9v1.4M462.9 266.9v1.8M472.0 160.9v1.4M471.0 266.9v1.8M480.1 160.9v1.4M479.1 266.9v1.8M488.2 160.9v1.4M487.2 266.9v1.8" stroke="#8a8a8a" stroke-width="0.5"/>
<path d="M491.3 162.3h1.8M491.3 172.9h1.8M491.3 183.5h1.8M491.3 194.1h1.8M491.3 204.7h1.8M491.3 215.3h1.8M491.3 225.9h1.8M491.3 236.5h1.8M491.3 247.1h1.8M491.3 257.7h1.8" stroke="#8a8a8a" stroke-width="0.5"/>
<polygon points="330.70,162.30 332.30,162.30 332.30,266.90 326.10,266.90" fill="#dcdcdc" />
<path d="M332.0 163.0l0.3 1.3M329.6 239.9l-0.3 0.9M329.7 186.6l-0.2 1.5M331.6 235.0l0.3 1.1M330.0 220.2l0.3 1.3M331.3 190.0l0.6 1.0M326.7 254.4l-0.3 1.0M332.0 240.1l0.3 1.1M328.5 254.4l-0.3 1.7M330.9 228.3l0.2 1.8M331.7 211.4l0.2 1.7M331.3 208.0l0.1 1.1M331.3 184.5l-0.5 1.7M330.1 177.4l-0.5 1.7M329.6 198.4l-0.6 0.8M330.5 234.7l0.2 1.5M331.5 169.2l-0.2 1.6M331.7 248.0l-0.5 1.7M332.0 257.9l-0.5 1.0M330.3 174.0l0.4 1.6M331.5 228.6l0.2 1.1M330.4 172.7l0.3 1.0M330.5 195.7l-0.6 1.1M331.5 191.9l-0.2 1.1M329.3 263.1l0.4 1.4M331.3 165.5l-0.1 1.6M331.4 198.6l0.0 1.0M327.2 252.5l0.4 1.0M331.0 162.4l0.3 1.8M331.5 162.8l-0.0 1.6M331.1 181.6l-0.2 1.6M332.1 189.6l-0.3 1.0M329.9 235.5l-0.5 1.4M331.9 170.8l0.2 1.6M329.4 228.0l-0.1 1.2M327.1 255.4l0.5 0.8M330.4 183.9l0.5 1.3M331.9 202.0l-0.3 1.3M331.3 217.9l0.3 1.4M330.1 198.8l-0.4 1.6M331.1 231.6l-0.4 1.2M330.1 243.2l-0.4 1.3M328.0 254.9l-0.4 1.1M331.5 235.9l-0.4 1.0M330.5 188.2l0.0 1.0M329.8 196.6l0.6 1.5M332.2 172.9l-0.5 1.2M331.0 265.2l0.3 1.2M331.4 182.8l-0.5 1.0M329.0 202.9l-0.1 1.6M329.9 234.8l0.2 1.3M331.4 177.1l-0.1 1.5M329.0 257.3l0.1 1.5M329.6 206.4l0.3 1.7M330.8 243.3l0.4 1.5M329.8 229.4l-0.2 1.4M331.1 172.5l0.3 1.5M328.9 228.2l-0.1 1.3M329.7 227.3l0.2 1.7M331.5 181.4l0.3 1.2M332.2 213.5l-0.6 1.3M331.8 179.1l0.5 1.3M331.4 172.9l0.0 1.5M330.9 215.9l0.4 1.3M332.1 205.2l-0.3 1.5M331.5 203.4l-0.5 1.8M329.2 199.5l-0.3 1.2M331.3 163.7l-0.1 1.5M329.9 199.1l-0.3 1.5M329.5 260.6l-0.3 1.6M329.6 203.3l-0.4 1.6M330.4 247.0l-0.0 1.4M332.2 185.9l-0.2 1.4M331.3 247.9l-0.0 1.1M328.7 219.6l0.4 1.2M328.3 251.3l-0.1 1.1M329.4 206.9l-0.6 1.5M330.1 191.7l-0.2 1.3M331.0 207.1l0.2 1.2M331.4 259.4l-0.5 1.6M331.1 257.0l-0.4 1.6M327.9 228.5l-0.6 1.8M328.8 230.9l-0.5 0.9M331.7 186.7l-0.2 1.0M331.1 256.9l-0.4 1.7M331.3 225.9l0.2 1.7M331.5 244.7l-0.4 1.5M331.3 217.8l-0.1 1.7M329.2 220.4l-0.3 0.9M328.7 213.9l-0.0 0.9M330.4 213.7l0.0 1.7M332.0 163.0l-0.0 1.4M331.6 231.9l-0.2 1.2M326.7 262.8l0.2 1.4" stroke="#a0a0a0" stroke-width="0.45" opacity="0.8"/>
<polygon points="330.90,202.70 360.00,201.00 390.00,198.00 420.00,194.00 450.00,189.00 476.90,184.20 491.30,224.60 460.00,229.00 430.00,233.00 390.00,236.00 346.70,236.70 331.50,205.00" fill="url(#g23)" />
<polygon points="330.90,202.70 331.50,205.00 346.70,236.70 346.70,257.20 331.00,221.70" fill="#045a5a" />
<polygon points="346.70,236.70 390.00,236.00 430.00,233.00 460.00,229.00 491.30,224.60 491.30,242.30 460.00,246.00 420.00,250.00 380.00,255.00 346.70,257.20" fill="#10c0b8" />
<polygon points="405,234.5 430,233 460,229 491.3,224.6 491.3,236.5 460,240.5 430,245 405,247" fill="url(#g24)"/>
<ellipse cx="456" cy="238.5" rx="22" ry="2.6" fill="url(#g25)" transform="rotate(-8 456 238.5)"/>
<path d="M348,248.4 C370,247.5 390,249 405,248.5 C430,246 450,244 470,241" fill="none" stroke="#3030d0" stroke-width="1.4" />
<path d="M360,248 L400,248.6" fill="none" stroke="#6010c0" stroke-width="0.8" />
<ellipse cx="385" cy="224" rx="34" ry="11" fill="url(#g26)" transform="rotate(28 385 224)"/>
<g clip-path="url(#c4)"><ellipse cx="462" cy="226" rx="34" ry="8" fill="url(#g27)"/><ellipse cx="455" cy="210" rx="34" ry="15" fill="url(#g28)"/><ellipse cx="460.5" cy="211.5" rx="12" ry="5" fill="url(#g29)"/><ellipse cx="459" cy="201.4" rx="10" ry="5" fill="url(#g30)"/><ellipse cx="462" cy="220" rx="14" ry="4" fill="url(#g31)"/></g>
<path d="M463,174 L471,174 M464,174 L456,199.6" fill="none" stroke="#e080e0" stroke-width="0.5" opacity="0.9"/>
<path d="M466,179 L474,179 M467,179 L463,210 M469,183 L477,183 M470,183 L465,222 M470,187 L478,187 M471,187 L468,212" fill="none" stroke="#e8b030" stroke-width="0.5" opacity="0.9"/>
<text x="0" y="0" transform="translate(296.30,179.62) scale(0.980,1)" font-family='"Liberation Serif", serif' font-size="7.00" font-weight="bold" fill="#1a1a1a" stroke="#1a1a1a" stroke-width="0.15" text-anchor="start" >3.243×10<tspan font-size="3.85" dy="-2.94">6</tspan></text>
<text x="0" y="0" transform="translate(300.00,191.40) scale(0.980,1)" font-family='"Liberation Serif", serif' font-size="7.50" font-weight="bold" fill="#1a1a1a" stroke="#1a1a1a" stroke-width="0.15" text-anchor="start" >X-axis</text>
<text x="0" y="0" transform="translate(294.70,200.32) scale(0.980,1)" font-family='"Liberation Serif", serif' font-size="7.00" font-weight="bold" fill="#1a1a1a" stroke="#1a1a1a" stroke-width="0.15" text-anchor="start" >3.242×10<tspan font-size="3.85" dy="-2.94">6</tspan></text>
<text x="0" y="0" transform="translate(304.00,215.62) scale(0.980,1)" font-family='"Liberation Serif", serif' font-size="7.00" font-weight="bold" fill="#1a1a1a" stroke="#1a1a1a" stroke-width="0.15" text-anchor="start" >-3,300</text>
<text x="0" y="0" transform="translate(304.00,229.32) scale(0.980,1)" font-family='"Liberation Serif", serif' font-size="7.00" font-weight="bold" fill="#1a1a1a" stroke="#1a1a1a" stroke-width="0.15" text-anchor="start" >-3,400</text>
<text x="0" y="0" transform="translate(300.60,237.40) scale(0.980,1)" font-family='"Liberation Serif", serif' font-size="7.50" font-weight="bold" fill="#1a1a1a" stroke="#1a1a1a" stroke-width="0.15" text-anchor="start" >Z-axis</text>
<text x="0" y="0" transform="translate(304.00,245.72) scale(0.980,1)" font-family='"Liberation Serif", serif' font-size="7.00" font-weight="bold" fill="#1a1a1a" stroke="#1a1a1a" stroke-width="0.15" text-anchor="start" >-3,500</text>
<text x="0" y="0" transform="translate(304.00,256.82) scale(0.980,1)" font-family='"Liberation Serif", serif' font-size="7.00" font-weight="bold" fill="#1a1a1a" stroke="#1a1a1a" stroke-width="0.15" text-anchor="start" >-3,600</text>
<text x="0" y="0" transform="translate(339.00,155.22) scale(0.980,1)" font-family='"Liberation Serif", serif' font-size="8.10" font-weight="bold" fill="#1a1a1a" stroke="#1a1a1a" stroke-width="0.15" text-anchor="start" >1.8547×10<tspan font-size="4.46" dy="-3.40">7</tspan></text>
<text x="0" y="0" transform="translate(386.80,155.22) scale(0.980,1)" font-family='"Liberation Serif", serif' font-size="8.10" font-weight="bold" fill="#1a1a1a" stroke="#1a1a1a" stroke-width="0.15" text-anchor="start" >1.8546×10<tspan font-size="4.46" dy="-3.40">7</tspan></text>
<text x="0" y="0" transform="translate(431.80,155.22) scale(0.980,1)" font-family='"Liberation Serif", serif' font-size="8.10" font-weight="bold" fill="#1a1a1a" stroke="#1a1a1a" stroke-width="0.15" text-anchor="start" >1.8545×10<tspan font-size="4.46" dy="-3.40">7</tspan></text>
<text x="0" y="0" transform="translate(478.80,155.22) scale(0.980,1)" font-family='"Liberation Serif", serif' font-size="8.10" font-weight="bold" fill="#1a1a1a" stroke="#1a1a1a" stroke-width="0.15" text-anchor="start" >1.8544×10<tspan font-size="4.46" dy="-3.40">7</tspan></text>
<text x="0" y="0" transform="translate(504.00,163.82) scale(0.980,1)" font-family='"Liberation Serif", serif' font-size="7.00" font-weight="bold" fill="#1a1a1a" stroke="#1a1a1a" stroke-width="0.15" text-anchor="start" >-3,300</text>
<text x="0" y="0" transform="translate(504.00,178.52) scale(0.980,1)" font-family='"Liberation Serif", serif' font-size="7.00" font-weight="bold" fill="#1a1a1a" stroke="#1a1a1a" stroke-width="0.15" text-anchor="start" >-3,400</text>
<text x="0" y="0" transform="translate(501.40,185.80) scale(0.980,1)" font-family='"Liberation Serif", serif' font-size="7.50" font-weight="bold" fill="#1a1a1a" stroke="#1a1a1a" stroke-width="0.15" text-anchor="start" >Z-axis</text>
<text x="0" y="0" transform="translate(504.00,193.02) scale(0.980,1)" font-family='"Liberation Serif", serif' font-size="7.00" font-weight="bold" fill="#1a1a1a" stroke="#1a1a1a" stroke-width="0.15" text-anchor="start" >-3,500</text>
<text x="0" y="0" transform="translate(504.00,207.52) scale(0.980,1)" font-family='"Liberation Serif", serif' font-size="7.00" font-weight="bold" fill="#1a1a1a" stroke="#1a1a1a" stroke-width="0.15" text-anchor="start" >-3,600</text>
<text x="0" y="0" transform="translate(500.90,225.40) scale(0.980,1)" font-family='"Liberation Serif", serif' font-size="7.50" font-weight="bold" fill="#1a1a1a" stroke="#1a1a1a" stroke-width="0.15" text-anchor="start" >X-axis</text>
<text x="0" y="0" transform="translate(500.90,236.72) scale(0.980,1)" font-family='"Liberation Serif", serif' font-size="7.00" font-weight="bold" fill="#1a1a1a" stroke="#1a1a1a" stroke-width="0.15" text-anchor="start" >3.243×10<tspan font-size="3.85" dy="-2.94">6</tspan></text>
<text x="0" y="0" transform="translate(499.50,255.82) scale(0.980,1)" font-family='"Liberation Serif", serif' font-size="7.00" font-weight="bold" fill="#1a1a1a" stroke="#1a1a1a" stroke-width="0.15" text-anchor="start" >3.242×10<tspan font-size="3.85" dy="-2.94">6</tspan></text>
<text x="0" y="0" transform="translate(332.30,277.22) scale(0.980,1)" font-family='"Liberation Serif", serif' font-size="8.10" font-weight="bold" fill="#1a1a1a" stroke="#1a1a1a" stroke-width="0.15" text-anchor="start" >1.8547×10<tspan font-size="4.46" dy="-3.40">7</tspan></text>
<text x="0" y="0" transform="translate(379.40,277.22) scale(0.980,1)" font-family='"Liberation Serif", serif' font-size="8.10" font-weight="bold" fill="#1a1a1a" stroke="#1a1a1a" stroke-width="0.15" text-anchor="start" >1.8546×10<tspan font-size="4.46" dy="-3.40">7</tspan></text>
<text x="0" y="0" transform="translate(425.80,277.22) scale(0.980,1)" font-family='"Liberation Serif", serif' font-size="8.10" font-weight="bold" fill="#1a1a1a" stroke="#1a1a1a" stroke-width="0.15" text-anchor="start" >1.8545×10<tspan font-size="4.46" dy="-3.40">7</tspan></text>
<text x="0" y="0" transform="translate(472.20,277.22) scale(0.980,1)" font-family='"Liberation Serif", serif' font-size="8.10" font-weight="bold" fill="#1a1a1a" stroke="#1a1a1a" stroke-width="0.15" text-anchor="start" >1.8544×10<tspan font-size="4.46" dy="-3.40">7</tspan></text>
<text x="263.30" y="303.16" font-family='"Liberation Serif", serif' font-size="11.00" font-weight="normal" fill="#111" text-anchor="start" stroke="#111" stroke-width="0.35">(a)</text>
<text x="69.30" y="321.89" font-family='"Liberation Sans", sans-serif' font-size="7.20" font-weight="bold" fill="#222" text-anchor="start" >Fracture width</text>
<text x="69.30" y="330.26" font-family='"Liberation Sans", sans-serif' font-size="7.10" font-weight="normal" fill="#222" text-anchor="start" >Width [mm]</text>
<rect x="69.00" y="339.60" width="14.40" height="147.60" fill="url(#g32)" />
<line x1="83.40" y1="340.70" x2="85.60" y2="340.70" stroke="#888" stroke-width="0.6" />
<text x="0" y="0" transform="translate(88.00,343.72) scale(0.980,1)" font-family='"Liberation Sans", sans-serif' font-size="8.40" font-weight="normal" fill="#1a1a1a" text-anchor="start" >10.00</text>
<line x1="83.40" y1="355.59" x2="85.60" y2="355.59" stroke="#888" stroke-width="0.6" />
<text x="0" y="0" transform="translate(88.00,358.61) scale(0.980,1)" font-family='"Liberation Sans", sans-serif' font-size="8.40" font-weight="normal" fill="#1a1a1a" text-anchor="start" >9.00</text>
<line x1="83.40" y1="370.48" x2="85.60" y2="370.48" stroke="#888" stroke-width="0.6" />
<text x="0" y="0" transform="translate(88.00,373.50) scale(0.980,1)" font-family='"Liberation Sans", sans-serif' font-size="8.40" font-weight="normal" fill="#1a1a1a" text-anchor="start" >8.00</text>
<line x1="83.40" y1="385.37" x2="85.60" y2="385.37" stroke="#888" stroke-width="0.6" />
<text x="0" y="0" transform="translate(88.00,388.39) scale(0.980,1)" font-family='"Liberation Sans", sans-serif' font-size="8.40" font-weight="normal" fill="#1a1a1a" text-anchor="start" >7.00</text>
<line x1="83.40" y1="400.26" x2="85.60" y2="400.26" stroke="#888" stroke-width="0.6" />
<text x="0" y="0" transform="translate(88.00,403.28) scale(0.980,1)" font-family='"Liberation Sans", sans-serif' font-size="8.40" font-weight="normal" fill="#1a1a1a" text-anchor="start" >6.00</text>
<line x1="83.40" y1="415.14" x2="85.60" y2="415.14" stroke="#888" stroke-width="0.6" />
<text x="0" y="0" transform="translate(88.00,418.17) scale(0.980,1)" font-family='"Liberation Sans", sans-serif' font-size="8.40" font-weight="normal" fill="#1a1a1a" text-anchor="start" >5.00</text>
<line x1="83.40" y1="430.03" x2="85.60" y2="430.03" stroke="#888" stroke-width="0.6" />
<text x="0" y="0" transform="translate(88.00,433.06) scale(0.980,1)" font-family='"Liberation Sans", sans-serif' font-size="8.40" font-weight="normal" fill="#1a1a1a" text-anchor="start" >4.00</text>
<line x1="83.40" y1="444.92" x2="85.60" y2="444.92" stroke="#888" stroke-width="0.6" />
<text x="0" y="0" transform="translate(88.00,447.95) scale(0.980,1)" font-family='"Liberation Sans", sans-serif' font-size="8.40" font-weight="normal" fill="#1a1a1a" text-anchor="start" >3.00</text>
<line x1="83.40" y1="459.81" x2="85.60" y2="459.81" stroke="#888" stroke-width="0.6" />
<text x="0" y="0" transform="translate(88.00,462.84) scale(0.980,1)" font-family='"Liberation Sans", sans-serif' font-size="8.40" font-weight="normal" fill="#1a1a1a" text-anchor="start" >2.00</text>
<line x1="83.40" y1="474.70" x2="85.60" y2="474.70" stroke="#888" stroke-width="0.6" />
<text x="0" y="0" transform="translate(88.00,477.72) scale(0.980,1)" font-family='"Liberation Sans", sans-serif' font-size="8.40" font-weight="normal" fill="#1a1a1a" text-anchor="start" >1.00</text>
<path d="M155.00,329.7 L156.00,470 L148.00,509" fill="none" stroke="#cdcdcd" stroke-width="0.6" />
<path d="M182.25,329.7 L183.25,470 L175.25,509" fill="none" stroke="#cdcdcd" stroke-width="0.6" />
<path d="M209.50,329.7 L210.50,470 L202.50,509" fill="none" stroke="#cdcdcd" stroke-width="0.6" />
<path d="M236.75,329.7 L237.75,470 L229.75,509" fill="none" stroke="#cdcdcd" stroke-width="0.6" />
<path d="M264.00,329.7 L265.00,470 L257.00,509" fill="none" stroke="#cdcdcd" stroke-width="0.6" />
<path d="M291.25,329.7 L292.25,470 L284.25,509" fill="none" stroke="#cdcdcd" stroke-width="0.6" />
<path d="M318.50,329.7 L319.50,470 L311.50,509" fill="none" stroke="#cdcdcd" stroke-width="0.6" />
<path d="M345.75,329.7 L346.75,470 L338.75,509" fill="none" stroke="#cdcdcd" stroke-width="0.6" />
<path d="M373.00,329.7 L374.00,470 L366.00,509" fill="none" stroke="#cdcdcd" stroke-width="0.6" />
<path d="M400.25,329.7 L401.25,470 L393.25,509" fill="none" stroke="#cdcdcd" stroke-width="0.6" />
<path d="M427.50,329.7 L424.00,470 L416.00,509" fill="none" stroke="#cdcdcd" stroke-width="0.6" />
<line x1="155.00" y1="329.70" x2="427.50" y2="329.70" stroke="#cdcdcd" stroke-width="0.6" />
<line x1="155.00" y1="339.75" x2="427.25" y2="339.75" stroke="#cdcdcd" stroke-width="0.6" />
<line x1="155.00" y1="349.80" x2="427.00" y2="349.80" stroke="#cdcdcd" stroke-width="0.6" />
<line x1="155.00" y1="359.85" x2="426.75" y2="359.85" stroke="#cdcdcd" stroke-width="0.6" />
<line x1="155.00" y1="369.90" x2="426.50" y2="369.90" stroke="#cdcdcd" stroke-width="0.6" />
<line x1="155.00" y1="379.95" x2="426.24" y2="379.95" stroke="#cdcdcd" stroke-width="0.6" />
<line x1="155.00" y1="390.00" x2="425.99" y2="390.00" stroke="#cdcdcd" stroke-width="0.6" />
<line x1="155.00" y1="400.05" x2="425.74" y2="400.05" stroke="#cdcdcd" stroke-width="0.6" />
<line x1="155.00" y1="410.10" x2="425.49" y2="410.10" stroke="#cdcdcd" stroke-width="0.6" />
<line x1="155.00" y1="420.15" x2="425.24" y2="420.15" stroke="#cdcdcd" stroke-width="0.6" />
<line x1="155.00" y1="430.20" x2="424.99" y2="430.20" stroke="#cdcdcd" stroke-width="0.6" />
<line x1="155.00" y1="440.25" x2="424.74" y2="440.25" stroke="#cdcdcd" stroke-width="0.6" />
<line x1="155.00" y1="450.30" x2="424.49" y2="450.30" stroke="#cdcdcd" stroke-width="0.6" />
<line x1="155.00" y1="460.35" x2="424.23" y2="460.35" stroke="#cdcdcd" stroke-width="0.6" />
<line x1="155.00" y1="470.40" x2="423.98" y2="470.40" stroke="#cdcdcd" stroke-width="0.6" />
<line x1="152.95" y1="480.00" x2="422.82" y2="480.00" stroke="#cdcdcd" stroke-width="0.6" />
<line x1="150.90" y1="490.00" x2="421.64" y2="490.00" stroke="#cdcdcd" stroke-width="0.6" />
<line x1="148.85" y1="500.00" x2="420.46" y2="500.00" stroke="#cdcdcd" stroke-width="0.6" />
<line x1="147.00" y1="509.00" x2="419.40" y2="509.00" stroke="#b8b8b8" stroke-width="0.7" />
<line x1="158.00" y1="328.30" x2="158.00" y2="329.70" stroke="#999" stroke-width="0.5" />
<line x1="164.10" y1="328.30" x2="164.10" y2="329.70" stroke="#999" stroke-width="0.5" />
<line x1="170.20" y1="328.30" x2="170.20" y2="329.70" stroke="#999" stroke-width="0.5" />
<line x1="176.30" y1="328.30" x2="176.30" y2="329.70" stroke="#999" stroke-width="0.5" />
<line x1="182.40" y1="328.30" x2="182.40" y2="329.70" stroke="#999" stroke-width="0.5" />
<line x1="188.50" y1="328.30" x2="188.50" y2="329.70" stroke="#999" stroke-width="0.5" />
<line x1="194.60" y1="328.30" x2="194.60" y2="329.70" stroke="#999" stroke-width="0.5" />
<line x1="200.70" y1="328.30" x2="200.70" y2="329.70" stroke="#999" stroke-width="0.5" />
<line x1="206.80" y1="328.30" x2="206.80" y2="329.70" stroke="#999" stroke-width="0.5" />
<line x1="212.90" y1="328.30" x2="212.90" y2="329.70" stroke="#999" stroke-width="0.5" />
<line x1="219.00" y1="328.30" x2="219.00" y2="329.70" stroke="#999" stroke-width="0.5" />
<line x1="225.10" y1="328.30" x2="225.10" y2="329.70" stroke="#999" stroke-width="0.5" />
<line x1="231.20" y1="328.30" x2="231.20" y2="329.70" stroke="#999" stroke-width="0.5" />
<line x1="237.30" y1="328.30" x2="237.30" y2="329.70" stroke="#999" stroke-width="0.5" />
<line x1="243.40" y1="328.30" x2="243.40" y2="329.70" stroke="#999" stroke-width="0.5" />
<line x1="249.50" y1="328.30" x2="249.50" y2="329.70" stroke="#999" stroke-width="0.5" />
<line x1="255.60" y1="328.30" x2="255.60" y2="329.70" stroke="#999" stroke-width="0.5" />
<line x1="261.70" y1="328.30" x2="261.70" y2="329.70" stroke="#999" stroke-width="0.5" />
<line x1="267.80" y1="328.30" x2="267.80" y2="329.70" stroke="#999" stroke-width="0.5" />
<line x1="273.90" y1="328.30" x2="273.90" y2="329.70" stroke="#999" stroke-width="0.5" />
<line x1="280.00" y1="328.30" x2="280.00" y2="329.70" stroke="#999" stroke-width="0.5" />
<line x1="286.10" y1="328.30" x2="286.10" y2="329.70" stroke="#999" stroke-width="0.5" />
<line x1="292.20" y1="328.30" x2="292.20" y2="329.70" stroke="#999" stroke-width="0.5" />
<line x1="298.30" y1="328.30" x2="298.30" y2="329.70" stroke="#999" stroke-width="0.5" />
<line x1="304.40" y1="328.30" x2="304.40" y2="329.70" stroke="#999" stroke-width="0.5" />
<line x1="310.50" y1="328.30" x2="310.50" y2="329.70" stroke="#999" stroke-width="0.5" />
<line x1="316.60" y1="328.30" x2="316.60" y2="329.70" stroke="#999" stroke-width="0.5" />
<line x1="322.70" y1="328.30" x2="322.70" y2="329.70" stroke="#999" stroke-width="0.5" />
<line x1="328.80" y1="328.30" x2="328.80" y2="329.70" stroke="#999" stroke-width="0.5" />
<line x1="334.90" y1="328.30" x2="334.90" y2="329.70" stroke="#999" stroke-width="0.5" />
<line x1="341.00" y1="328.30" x2="341.00" y2="329.70" stroke="#999" stroke-width="0.5" />
<line x1="347.10" y1="328.30" x2="347.10" y2="329.70" stroke="#999" stroke-width="0.5" />
<line x1="353.20" y1="328.30" x2="353.20" y2="329.70" stroke="#999" stroke-width="0.5" />
<line x1="359.30" y1="328.30" x2="359.30" y2="329.70" stroke="#999" stroke-width="0.5" />
<line x1="365.40" y1="328.30" x2="365.40" y2="329.70" stroke="#999" stroke-width="0.5" />
<line x1="371.50" y1="328.30" x2="371.50" y2="329.70" stroke="#999" stroke-width="0.5" />
<line x1="377.60" y1="328.30" x2="377.60" y2="329.70" stroke="#999" stroke-width="0.5" />
<line x1="383.70" y1="328.30" x2="383.70" y2="329.70" stroke="#999" stroke-width="0.5" />
<line x1="389.80" y1="328.30" x2="389.80" y2="329.70" stroke="#999" stroke-width="0.5" />
<line x1="395.90" y1="328.30" x2="395.90" y2="329.70" stroke="#999" stroke-width="0.5" />
<line x1="402.00" y1="328.30" x2="402.00" y2="329.70" stroke="#999" stroke-width="0.5" />
<line x1="408.10" y1="328.30" x2="408.10" y2="329.70" stroke="#999" stroke-width="0.5" />
<line x1="414.20" y1="328.30" x2="414.20" y2="329.70" stroke="#999" stroke-width="0.5" />
<line x1="420.30" y1="328.30" x2="420.30" y2="329.70" stroke="#999" stroke-width="0.5" />
<line x1="426.40" y1="328.30" x2="426.40" y2="329.70" stroke="#999" stroke-width="0.5" />
<line x1="150.00" y1="509.00" x2="150.00" y2="510.50" stroke="#999" stroke-width="0.5" />
<line x1="156.10" y1="509.00" x2="156.10" y2="510.50" stroke="#999" stroke-width="0.5" />
<line x1="162.20" y1="509.00" x2="162.20" y2="510.50" stroke="#999" stroke-width="0.5" />
<line x1="168.30" y1="509.00" x2="168.30" y2="510.50" stroke="#999" stroke-width="0.5" />
<line x1="174.40" y1="509.00" x2="174.40" y2="510.50" stroke="#999" stroke-width="0.5" />
<line x1="180.50" y1="509.00" x2="180.50" y2="510.50" stroke="#999" stroke-width="0.5" />
<line x1="186.60" y1="509.00" x2="186.60" y2="510.50" stroke="#999" stroke-width="0.5" />
<line x1="192.70" y1="509.00" x2="192.70" y2="510.50" stroke="#999" stroke-width="0.5" />
<line x1="198.80" y1="509.00" x2="198.80" y2="510.50" stroke="#999" stroke-width="0.5" />
<line x1="204.90" y1="509.00" x2="204.90" y2="510.50" stroke="#999" stroke-width="0.5" />
<line x1="211.00" y1="509.00" x2="211.00" y2="510.50" stroke="#999" stroke-width="0.5" />
<line x1="217.10" y1="509.00" x2="217.10" y2="510.50" stroke="#999" stroke-width="0.5" />
<line x1="223.20" y1="509.00" x2="223.20" y2="510.50" stroke="#999" stroke-width="0.5" />
<line x1="229.30" y1="509.00" x2="229.30" y2="510.50" stroke="#999" stroke-width="0.5" />
<line x1="235.40" y1="509.00" x2="235.40" y2="510.50" stroke="#999" stroke-width="0.5" />
<line x1="241.50" y1="509.00" x2="241.50" y2="510.50" stroke="#999" stroke-width="0.5" />
<line x1="247.60" y1="509.00" x2="247.60" y2="510.50" stroke="#999" stroke-width="0.5" />
<line x1="253.70" y1="509.00" x2="253.70" y2="510.50" stroke="#999" stroke-width="0.5" />
<line x1="259.80" y1="509.00" x2="259.80" y2="510.50" stroke="#999" stroke-width="0.5" />
<line x1="265.90" y1="509.00" x2="265.90" y2="510.50" stroke="#999" stroke-width="0.5" />
<line x1="272.00" y1="509.00" x2="272.00" y2="510.50" stroke="#999" stroke-width="0.5" />
<line x1="278.10" y1="509.00" x2="278.10" y2="510.50" stroke="#999" stroke-width="0.5" />
<line x1="284.20" y1="509.00" x2="284.20" y2="510.50" stroke="#999" stroke-width="0.5" />
<line x1="290.30" y1="509.00" x2="290.30" y2="510.50" stroke="#999" stroke-width="0.5" />
<line x1="296.40" y1="509.00" x2="296.40" y2="510.50" stroke="#999" stroke-width="0.5" />
<line x1="302.50" y1="509.00" x2="302.50" y2="510.50" stroke="#999" stroke-width="0.5" />
<line x1="308.60" y1="509.00" x2="308.60" y2="510.50" stroke="#999" stroke-width="0.5" />
<line x1="314.70" y1="509.00" x2="314.70" y2="510.50" stroke="#999" stroke-width="0.5" />
<line x1="320.80" y1="509.00" x2="320.80" y2="510.50" stroke="#999" stroke-width="0.5" />
<line x1="326.90" y1="509.00" x2="326.90" y2="510.50" stroke="#999" stroke-width="0.5" />
<line x1="333.00" y1="509.00" x2="333.00" y2="510.50" stroke="#999" stroke-width="0.5" />
<line x1="339.10" y1="509.00" x2="339.10" y2="510.50" stroke="#999" stroke-width="0.5" />
<line x1="345.20" y1="509.00" x2="345.20" y2="510.50" stroke="#999" stroke-width="0.5" />
<line x1="351.30" y1="509.00" x2="351.30" y2="510.50" stroke="#999" stroke-width="0.5" />
<line x1="357.40" y1="509.00" x2="357.40" y2="510.50" stroke="#999" stroke-width="0.5" />
<line x1="363.50" y1="509.00" x2="363.50" y2="510.50" stroke="#999" stroke-width="0.5" />
<line x1="369.60" y1="509.00" x2="369.60" y2="510.50" stroke="#999" stroke-width="0.5" />
<line x1="375.70" y1="509.00" x2="375.70" y2="510.50" stroke="#999" stroke-width="0.5" />
<line x1="381.80" y1="509.00" x2="381.80" y2="510.50" stroke="#999" stroke-width="0.5" />
<line x1="387.90" y1="509.00" x2="387.90" y2="510.50" stroke="#999" stroke-width="0.5" />
<line x1="394.00" y1="509.00" x2="394.00" y2="510.50" stroke="#999" stroke-width="0.5" />
<line x1="400.10" y1="509.00" x2="400.10" y2="510.50" stroke="#999" stroke-width="0.5" />
<line x1="406.20" y1="509.00" x2="406.20" y2="510.50" stroke="#999" stroke-width="0.5" />
<line x1="412.30" y1="509.00" x2="412.30" y2="510.50" stroke="#999" stroke-width="0.5" />
<line x1="418.40" y1="509.00" x2="418.40" y2="510.50" stroke="#999" stroke-width="0.5" />
<polygon points="152.30,330.00 156.00,330.00 156.00,470.00 148.00,509.00 141.00,509.00 143.00,423.00" fill="#e4e4e4" />
<path d="M154.3 336.0l0.4 2.4M155.8 389.5l0.0 1.7M141.8 489.9l0.4 1.9M154.6 390.9l-0.3 1.7M153.0 424.0l-0.6 1.7M151.0 405.8l0.7 1.4M146.9 477.5l0.0 1.4M155.7 420.6l0.3 2.2M149.4 389.6l-0.4 1.9M153.1 443.4l-0.9 2.1M147.4 487.8l-0.9 1.5M152.8 332.1l0.8 1.9M153.1 447.5l0.8 1.9M151.0 440.2l0.4 1.9M145.2 451.5l0.3 1.7M143.4 466.0l-0.6 1.1M154.8 468.1l0.3 1.6M151.9 476.6l0.1 1.4M150.7 384.5l-0.4 1.6M155.1 444.6l-0.9 1.9M152.0 338.0l0.6 1.9M145.7 493.6l-1.0 1.6M155.2 435.8l1.0 1.7M146.0 404.0l0.3 1.3M149.6 357.9l-1.0 2.0M155.8 352.5l-0.8 2.3M150.0 353.8l0.4 1.4M144.7 460.8l-0.9 2.2M154.0 457.3l0.5 1.1M152.1 442.3l-0.1 2.4M155.7 376.0l0.4 1.0M154.6 333.6l0.6 1.1M153.5 386.1l-0.7 2.3M144.3 417.1l-0.3 1.9M152.3 408.7l-0.7 2.2M152.4 395.3l0.3 1.6M153.7 399.3l0.9 2.2M146.7 431.3l-0.9 2.5M153.6 455.5l-0.3 1.9M147.7 504.0l0.2 1.5M154.7 406.9l-0.2 2.0M154.6 437.5l0.6 1.4M153.2 331.3l-0.2 1.9M153.4 475.4l-0.9 2.2M153.3 474.7l0.1 1.4M151.3 481.7l0.4 2.4M146.9 392.4l0.1 2.2M154.2 366.5l0.9 1.4M151.7 438.4l-0.1 1.3M153.9 376.1l0.6 1.7M155.0 346.5l0.5 1.3M154.6 433.6l0.8 1.8M151.0 415.4l-0.6 1.3M153.9 363.0l-0.3 1.8M150.7 402.2l-0.7 1.1M143.8 507.5l-0.8 1.9M144.1 470.4l0.2 1.5M143.3 422.9l-0.9 2.5M147.2 484.3l0.1 1.4M147.9 468.9l0.9 2.2M154.3 475.9l-0.5 1.1M150.0 366.6l-0.8 1.1M154.3 429.7l-0.1 2.4M142.0 492.1l0.2 1.6M155.8 352.2l-0.5 1.8M155.4 444.4l0.3 1.6M146.1 410.4l0.9 2.5M148.6 370.2l-0.5 1.5M150.8 490.8l0.7 1.1M151.9 470.2l0.3 2.5M151.9 340.9l0.5 2.4M146.4 450.8l0.2 2.1M152.2 349.7l-0.5 1.2M145.8 416.2l-0.5 1.2M142.5 450.9l0.4 1.3M155.7 337.4l-0.6 2.4M151.8 484.4l-0.7 1.7M155.6 348.2l0.7 1.9M148.2 411.1l0.6 1.7M144.5 442.2l-0.6 1.1M149.8 457.3l-0.7 2.3M151.0 378.2l-0.7 1.4M145.8 479.6l-0.7 1.7M155.1 387.3l-0.8 2.5M155.5 341.1l0.3 1.3M147.3 415.5l-0.5 1.3M155.9 395.5l1.0 2.4M152.1 348.3l0.8 1.1M146.2 459.6l1.0 1.0M146.4 473.8l-0.7 1.0M148.3 478.3l-0.6 1.7M143.6 492.4l0.1 1.2M154.4 362.9l0.4 1.3M151.3 345.0l0.2 1.7M149.1 379.5l0.2 2.1M149.5 474.7l-0.6 1.1M147.8 460.7l0.4 1.1M146.3 474.5l0.7 2.3M143.7 418.3l0.8 1.7M144.6 485.3l-0.6 2.2M147.4 396.0l-0.3 1.9M154.1 331.8l-0.1 1.8M154.3 352.4l0.6 2.3M153.3 387.8l-0.2 2.1M155.4 341.8l0.9 1.7M150.0 421.9l0.1 1.0M143.0 502.2l-0.6 1.2M154.5 375.3l-0.9 1.1M144.9 454.7l-1.0 1.9M149.7 433.0l0.4 1.2M149.7 484.9l-0.9 1.2M149.7 418.4l-0.4 1.2M146.5 402.8l0.2 2.3M153.3 357.1l0.5 1.2M153.7 477.2l-0.2 1.6M148.2 479.6l-0.2 2.4M146.7 468.5l-0.5 1.5M155.8 408.1l0.6 2.4M152.9 475.3l-0.9 1.8M149.2 500.5l-0.5 1.6M147.4 443.0l0.1 1.1M150.3 407.6l-1.0 1.2M147.5 502.6l0.9 1.9M153.6 474.2l0.8 1.1M146.1 444.6l0.4 1.4M155.0 427.0l0.2 1.4M148.6 423.1l0.9 1.4M152.8 385.1l-0.8 1.9M145.6 500.2l-0.5 1.7M144.9 425.5l-0.8 1.2M150.7 383.0l-0.4 1.4M153.6 346.5l0.7 1.9M151.4 431.9l-0.6 2.1M150.6 412.6l0.2 1.7M149.0 386.0l-0.6 1.8M151.6 398.8l-1.0 1.5M144.4 483.6l0.1 1.7M155.9 381.4l-0.4 2.2M149.8 359.1l0.7 1.7M153.0 342.0l-0.1 2.1M151.6 350.3l0.9 2.1M151.7 358.4l-0.3 2.0M154.0 440.1l0.6 1.8M152.4 461.8l0.5 1.7M151.9 469.9l0.8 1.2M141.6 485.1l0.5 1.9M155.5 419.1l0.1 1.6M154.2 469.7l0.2 1.6M149.6 411.1l0.4 1.4M151.2 400.2l-0.2 1.5M153.8 470.3l-0.0 1.7M151.1 363.6l-0.7 1.9M143.9 433.9l0.8 1.5M151.9 480.3l0.9 1.3M155.0 406.5l-1.0 1.1M149.4 431.0l0.8 2.2M156.0 426.3l0.0 1.8M147.6 452.3l-0.3 1.9M155.5 393.1l0.4 1.8M152.5 348.5l-0.2 1.8M154.4 432.6l0.9 1.7M151.6 408.9l1.0 1.5M153.6 424.8l-0.7 1.5M147.6 504.2l0.0 1.2M148.8 489.3l0.6 2.5M146.0 488.2l-0.7 1.4M149.6 421.6l-0.6 1.3M150.7 442.5l-0.3 2.5M143.1 443.7l-0.2 2.2M153.1 385.3l-1.0 1.5M148.9 480.1l0.3 1.3M150.4 419.1l-0.5 2.0M156.0 425.1l0.1 1.6M151.0 352.5l0.5 1.2M151.4 348.7l0.0 2.2M153.4 439.5l-0.9 1.0M146.5 467.4l0.4 1.5M151.0 361.0l-0.8 2.4M147.4 434.1l-0.1 1.6M155.5 340.7l0.2 2.4M151.6 408.8l-0.5 1.1M149.3 495.8l-0.4 2.3M145.8 475.4l0.2 2.4M155.4 418.7l-0.5 1.6M145.2 458.2l-0.4 2.3M153.4 416.7l-0.5 1.3M147.7 394.4l0.9 1.4M144.3 430.4l0.1 1.6M145.8 402.4l-0.8 2.2M148.4 393.2l-0.6 1.4M148.3 373.0l0.3 1.5M154.1 358.6l-0.8 1.4M143.3 478.8l-0.1 2.3M144.0 473.5l-0.3 2.1M155.6 397.7l-0.6 2.4M146.2 420.4l-0.1 1.2M145.8 456.0l0.8 1.9M148.2 396.1l0.2 1.3M142.9 485.4l0.0 1.8M154.0 378.9l-0.2 2.0M146.9 431.5l-0.2 1.1M155.0 362.3l-0.4 2.0M153.5 350.3l-0.3 1.8M147.5 383.6l-0.4 1.3M154.3 353.3l-0.4 1.6M149.2 491.9l0.8 2.3M151.6 354.4l-0.9 2.0M147.2 448.5l-0.2 2.0M145.7 454.8l0.7 1.5M145.0 442.3l-0.8 2.4M152.0 460.9l-0.9 1.1M150.7 359.7l-0.4 1.6M152.9 337.9l0.3 1.3M148.7 479.6l0.4 1.4M152.4 408.0l-0.3 1.0M151.4 478.7l-0.4 1.1M148.8 482.2l-0.9 1.4M154.8 350.7l-0.6 2.4M143.3 463.7l0.4 1.6M153.6 463.3l-0.4 1.1" stroke="#a8a8a8" stroke-width="0.5" opacity="0.8"/>
<polygon points="156.00,430.29 158.50,429.27 160.86,429.01 162.14,429.29 164.06,425.93 165.32,429.31 166.88,428.69 168.98,428.68 170.26,427.93 171.74,423.62 173.88,424.32 175.80,423.31 177.49,422.80 178.89,423.91 181.23,423.94 182.67,424.47 184.52,424.95 185.88,423.09 187.37,422.24 188.84,424.86 190.20,423.41 191.91,420.82 194.50,421.13 197.07,421.17 198.88,423.21 200.09,426.18 202.17,426.17 203.72,421.28 206.00,425.66 207.46,424.80 209.96,422.84 212.32,425.06 213.78,425.34 215.50,424.19 217.86,419.16 219.94,425.11 222.41,425.53 224.31,422.32 226.32,421.94 227.75,423.35 229.08,421.69 230.54,419.78 232.94,424.18 234.54,423.42 236.33,421.84 238.46,423.45 239.89,421.10 241.88,420.99 243.20,420.68 245.76,422.61 248.32,422.42 250.66,418.43 252.71,419.05 255.24,419.32 256.86,418.08 258.10,416.93 259.93,415.73 261.65,416.97 263.59,416.70 264.95,415.11 266.92,414.76 268.47,414.63 270.03,416.15 271.54,412.88 273.57,414.38 274.87,415.76 276.84,416.79 278.20,417.84 279.54,417.15 280.98,417.61 283.27,414.23 284.55,414.58 285.77,415.96 287.39,416.35 289.83,414.15 291.82,413.35 293.26,411.22 295.53,408.70 296.90,406.83 299.43,403.96 300.76,406.84 302.12,408.11 303.68,404.90 306.05,403.97 307.41,406.67 309.38,404.27 311.12,403.54 313.07,405.66 315.60,402.87 317.01,404.77 319.33,402.83 321.68,405.33 323.54,403.18 325.29,405.98 326.60,403.76 329.05,402.21 330.76,404.18 332.50,399.93 334.17,402.28 336.75,398.28 338.33,403.15 339.90,404.28 342.44,402.19 344.72,405.31 346.80,404.28 348.40,404.86 350.91,404.31 353.18,404.45 355.27,402.81 357.04,401.59 358.69,405.23 360.40,402.19 362.09,397.08 363.93,402.86 365.55,398.79 366.00,404.60 368.00,412.00 370.00,422.00 372.00,430.00 373.00,438.60 378.00,445.00 381.00,455.00 383.00,464.00 385.40,472.60 385.40,473.28 383.17,473.32 380.93,475.05 378.70,473.82 376.47,476.13 374.23,475.68 372.00,474.74 369.57,475.46 367.14,477.10 364.71,478.75 362.29,477.29 359.86,478.97 357.43,478.36 355.00,480.10 352.80,478.00 350.60,479.55 348.40,481.10 346.20,479.53 344.00,479.77 341.60,479.32 339.20,479.99 336.80,480.55 334.40,482.11 332.00,480.90 329.60,481.70 327.20,481.35 324.80,482.81 322.40,483.84 320.00,483.44 317.78,482.31 315.56,484.15 313.33,485.06 311.11,484.19 308.89,482.85 306.67,485.26 304.44,485.68 302.22,484.30 300.00,483.91 297.73,484.29 295.45,485.57 293.18,486.81 290.91,486.33 288.64,487.41 286.36,485.50 284.09,486.07 281.82,487.57 279.55,487.49 277.27,486.99 275.00,488.04 272.68,487.22 270.36,486.59 268.04,487.87 265.72,486.98 263.40,488.93 261.08,488.26 258.76,488.95 256.44,489.47 254.12,488.66 251.80,489.49 249.38,488.07 246.96,490.74 244.53,489.59 242.11,490.80 239.69,487.93 237.27,489.54 234.84,489.81 232.42,488.55 230.00,487.78 227.78,487.95 225.56,487.88 223.33,489.73 221.11,487.68 218.89,489.83 216.67,488.64 214.44,488.96 212.22,489.09 210.00,488.96 207.79,489.18 205.58,488.92 203.38,488.02 201.17,489.15 198.96,487.61 196.75,488.88 194.55,488.94 192.34,488.89 190.13,487.40 187.92,488.69 185.72,489.22 183.51,487.55 181.30,487.20 181.00,473.00 180.00,460.00 176.00,447.00 172.00,445.50 166.00,444.50 160.00,445.00 156.00,443.50" fill="#d838f0" opacity="0.85"/>
<g clip-path="url(#frc)"><path d="M376.7 460.5l1.4 -4.9M358.1 419.3l2.3 -10.4M313.2 433.1l1.1 -5.6M309.0 484.0l0.2 -4.2M183.0 428.0l0.2 -4.6M246.1 439.4l1.7 -8.5M366.6 456.5l1.6 -5.4M165.6 409.0l2.4 -10.7M197.5 402.8l2.4 -9.5M160.0 443.4l1.0 -6.0M289.8 445.3l1.3 -8.5M282.2 436.0l2.0 -9.8M165.5 495.6l1.7 -5.9M343.0 464.4l2.0 -10.5M165.9 473.7l0.7 -6.5M223.2 464.2l0.9 -5.9M357.9 418.2l2.0 -7.0M160.6 442.3l1.8 -6.6M373.8 417.2l1.8 -10.8M159.8 466.0l2.0 -7.9M286.6 403.5l1.8 -8.8M185.2 431.4l0.2 -7.6M293.3 443.5l1.2 -10.5M309.4 423.8l1.8 -10.3M342.9 468.7l0.9 -9.0M229.3 413.6l1.7 -6.0M186.0 416.4l1.1 -6.3M359.1 457.8l0.4 -7.8M366.1 482.5l2.3 -5.6M294.9 494.7l2.4 -6.4M222.2 404.9l0.4 -7.9M340.7 457.6l0.3 -7.2M238.8 417.8l0.7 -6.8M341.4 455.0l0.7 -8.8M213.9 401.1l1.4 -6.8M322.0 404.2l1.6 -5.7M372.8 399.1l1.1 -10.6M209.3 471.4l0.5 -8.8M304.0 417.9l2.1 -8.4M285.9 485.8l2.3 -8.0M379.4 420.8l2.0 -8.7M390.2 416.7l1.1 -10.2M202.3 460.7l2.3 -6.6M357.3 494.8l0.2 -6.7M209.5 454.5l1.9 -8.6M211.3 439.6l1.0 -7.6M223.9 468.9l2.4 -8.8M178.8 435.7l1.4 -6.2M296.9 443.9l1.3 -10.6M376.6 425.1l2.3 -5.3M391.4 415.4l2.5 -8.1M337.0 400.6l1.1 -7.8M228.5 481.3l0.3 -7.5M314.9 488.8l2.4 -8.1M177.2 490.6l1.4 -8.4M249.6 405.6l1.8 -6.7M346.3 483.1l1.2 -4.8M271.0 431.7l1.8 -10.1M201.8 470.9l1.8 -9.5M203.8 483.0l0.5 -5.7M384.7 491.0l0.9 -6.7M228.7 398.3l0.5 -8.4M164.3 442.6l2.1 -7.9M350.2 409.1l1.6 -5.6M345.7 451.7l2.0 -4.2M289.3 441.1l2.2 -10.8M196.2 459.6l0.6 -4.8M198.7 473.6l0.9 -9.9M328.9 459.3l1.0 -4.1M238.1 486.4l0.4 -7.4M227.1 487.7l2.2 -10.8M210.8 436.9l1.7 -6.5M217.4 479.5l2.0 -7.6M156.7 479.3l0.4 -10.8M343.6 486.9l1.5 -4.0M328.7 462.8l2.3 -5.7M262.9 438.2l2.4 -10.6M299.0 430.3l2.4 -7.6M362.7 405.2l1.7 -4.2M298.9 443.7l1.5 -8.7M312.6 496.3l0.4 -8.3M314.0 406.8l2.2 -5.7M216.3 428.9l1.3 -6.1M196.5 405.9l1.8 -4.3M182.7 489.1l0.3 -9.6M252.9 431.7l0.5 -4.4M273.5 485.8l1.2 -10.4M261.5 430.3l1.1 -5.4M200.5 433.1l1.6 -6.3M171.7 476.2l0.9 -8.6M165.0 427.6l2.3 -5.9M281.2 415.6l1.9 -6.6M157.3 462.9l2.0 -10.2M366.1 424.3l0.4 -4.1M357.6 409.0l1.4 -10.6M340.0 411.2l1.7 -9.6M341.0 404.8l1.3 -8.9M157.8 462.8l1.7 -9.4M355.7 426.5l2.1 -10.8M165.9 435.4l1.9 -10.0M311.8 400.3l0.6 -6.6M297.0 423.8l1.5 -7.2M215.1 492.2l0.3 -6.9M278.1 482.9l1.7 -9.6M211.9 421.7l1.4 -6.6M329.4 460.4l1.7 -7.3M269.6 434.5l1.7 -11.0M317.7 465.6l1.1 -9.5M295.5 483.0l1.6 -10.1M279.4 470.6l0.4 -5.9M167.8 432.9l1.9 -6.0M374.4 424.4l0.3 -5.9M385.6 411.2l1.0 -10.1M230.3 403.7l0.3 -5.6M201.2 469.8l0.6 -7.2M388.7 497.5l0.5 -10.3M211.1 464.9l0.9 -5.6M299.7 408.5l1.7 -7.2M387.4 489.0l1.3 -4.9M222.6 404.9l2.0 -9.3M170.7 437.4l2.4 -4.7M219.7 474.8l0.4 -4.9M189.7 451.2l0.6 -9.8M181.4 417.4l0.4 -10.7M367.7 493.2l2.2 -6.3M238.5 435.5l1.1 -6.5M370.1 439.1l2.2 -8.5M211.3 463.6l2.1 -6.7M339.3 485.0l1.0 -5.5M229.2 400.6l0.7 -9.6M380.9 429.0l2.3 -8.4M367.7 471.4l2.2 -6.2M363.1 464.6l1.0 -5.5M340.9 433.7l1.9 -5.6M367.9 493.5l2.3 -7.6M184.8 461.1l1.2 -9.6M216.8 440.0l1.3 -7.6M232.3 469.7l0.7 -9.2M275.0 415.5l2.3 -8.2M291.7 470.1l1.8 -9.2M360.2 487.8l1.2 -7.9M202.4 452.3l1.9 -6.9M184.5 457.0l0.9 -4.9M353.3 474.9l1.3 -8.1M275.5 445.2l1.4 -7.6M242.8 405.0l1.9 -4.7M380.4 460.0l1.7 -5.1M316.1 460.7l1.1 -8.7M219.1 411.6l2.4 -10.3M345.2 442.1l1.4 -5.9M282.9 477.2l2.4 -6.3M211.6 459.0l2.2 -8.0M343.6 404.7l1.6 -9.7M365.7 426.8l2.4 -7.5M384.6 434.1l1.2 -10.9M206.3 495.5l1.8 -11.0M158.1 442.0l1.5 -9.5M381.2 490.9l0.9 -8.3M316.5 429.8l0.8 -9.3M253.4 491.3l2.0 -4.6M216.9 409.4l1.2 -10.1M326.7 462.9l1.3 -4.7M247.1 493.0l0.5 -7.3M314.5 403.4l1.4 -10.9M323.9 470.9l2.3 -6.4M347.2 410.0l1.4 -5.3M373.4 414.0l1.5 -8.8M190.6 411.7l1.3 -7.3M284.1 474.2l0.6 -8.1M282.5 429.4l0.7 -4.2M222.7 494.9l2.4 -5.7M315.6 490.7l1.8 -10.9M161.9 440.7l0.9 -10.8M152.1 439.6l1.6 -10.3M199.1 415.9l0.4 -9.8M166.3 481.0l0.5 -10.9M300.8 463.3l1.9 -5.1M271.7 490.4l0.6 -8.2M230.3 406.9l1.2 -8.5M273.9 491.7l0.6 -5.7M228.5 489.0l1.2 -8.9M179.6 482.7l0.6 -8.5M150.9 420.3l0.7 -6.8M316.4 497.4l0.8 -6.3M389.7 490.0l1.4 -4.7M197.0 465.0l2.1 -7.5M376.0 479.5l0.5 -7.3M315.9 467.7l2.4 -8.0M379.5 424.8l2.1 -5.2M254.2 421.5l1.7 -10.4M339.0 449.7l2.3 -5.7M303.7 467.3l0.3 -5.9M382.8 450.5l2.4 -8.7M231.5 408.9l1.9 -9.6M360.0 441.9l0.9 -6.9M244.9 416.6l1.9 -9.5M227.7 410.7l1.8 -4.2M390.3 489.5l0.7 -4.1M189.2 464.2l1.2 -8.7M341.2 443.7l1.1 -9.8M183.0 459.3l1.4 -5.2M283.3 411.4l1.6 -7.4M314.2 452.6l2.0 -8.3M203.8 442.3l1.5 -9.8M258.5 495.0l1.7 -9.8M298.1 401.3l2.4 -10.5M256.5 481.0l1.4 -8.8M367.5 431.9l1.0 -4.2M369.1 485.0l1.2 -10.9M351.2 422.8l1.1 -8.9M183.4 453.3l2.3 -7.9M195.8 408.1l1.4 -6.9M359.7 436.8l0.6 -5.0M265.0 451.8l1.4 -7.1M375.0 417.9l2.0 -4.3M280.2 419.8l0.9 -9.5M360.6 403.0l0.4 -5.7M170.9 446.9l0.9 -5.8M239.9 476.8l0.5 -9.1M225.6 405.3l1.4 -10.6M368.4 497.5l0.5 -7.6M199.5 462.3l1.7 -8.6M219.4 477.1l1.5 -6.1M326.9 404.8l0.3 -10.6M227.9 462.6l1.1 -9.8M343.2 406.9l1.4 -4.2M304.5 448.9l1.4 -4.7M226.6 481.3l0.9 -6.0M262.6 492.6l2.0 -10.0M222.7 478.1l1.7 -5.3M251.5 487.6l1.1 -10.7M197.4 464.7l2.4 -7.9M231.7 453.6l0.4 -4.3M219.8 406.2l2.3 -5.4M247.6 422.0l1.3 -8.2M389.4 486.7l2.2 -4.9M322.1 479.0l1.5 -8.9M210.1 466.4l0.5 -10.2M269.3 431.4l2.5 -10.6M341.9 461.2l2.4 -5.2M168.4 443.3l1.3 -4.1M380.9 439.4l2.0 -9.9M223.8 447.1l1.7 -6.8M296.8 497.7l1.0 -5.4M165.8 452.2l1.3 -6.6M388.8 473.9l2.2 -4.3M221.6 474.1l1.0 -8.3M374.7 454.7l1.5 -10.4M303.5 451.3l2.4 -8.9M362.1 404.0l0.3 -9.5M209.8 449.6l1.0 -6.7M285.2 475.4l0.2 -10.5M269.3 491.6l2.1 -5.1M282.6 490.8l1.0 -4.4M272.8 412.3l2.1 -9.7M229.3 481.4l0.9 -10.4M194.4 459.5l0.5 -6.6M154.9 485.3l0.9 -5.4M172.5 438.2l0.7 -5.3M233.9 443.4l2.2 -6.5M251.3 427.2l1.2 -4.8M195.4 485.6l0.9 -9.6M206.1 468.1l1.4 -8.5M318.9 466.2l1.7 -4.6M238.5 408.7l1.4 -4.5M258.2 496.2l1.0 -6.9M191.6 491.9l1.4 -8.1M226.3 447.4l2.5 -7.1M163.0 413.9l2.0 -6.4M338.8 442.2l1.4 -7.8M311.5 466.9l2.3 -6.7M333.7 411.4l2.1 -9.0M303.1 435.2l1.5 -7.5M389.1 437.8l0.9 -4.2M185.5 439.4l1.1 -6.0M383.2 428.3l1.2 -9.3M260.1 487.2l1.8 -9.4M309.3 495.1l0.7 -9.1M213.4 416.2l2.3 -7.5M181.6 466.1l2.2 -7.5M311.0 421.1l1.3 -7.6M230.9 405.9l2.0 -7.4M337.1 400.0l1.3 -7.4M271.6 495.1l1.3 -8.8M237.5 405.8l1.4 -4.7M211.3 489.6l1.5 -6.9M261.6 418.7l0.8 -10.0M355.3 485.3l0.5 -6.8M338.2 438.4l1.4 -10.1M279.4 416.3l0.5 -7.6M372.9 462.8l1.6 -8.6M285.8 434.2l1.2 -6.7M385.2 407.0l1.9 -4.1M377.2 426.6l0.9 -7.3M366.0 481.6l0.8 -5.7M264.6 487.2l1.6 -10.5M292.4 440.1l2.3 -5.7M326.2 449.8l1.9 -10.8M361.0 399.9l2.4 -5.8M292.2 442.4l1.9 -10.1M348.1 428.5l2.5 -10.0M161.7 480.6l0.6 -8.5M348.2 449.3l0.5 -8.2M388.3 475.0l1.7 -5.9M382.8 407.1l0.9 -4.8M163.2 472.5l1.7 -8.0M287.1 484.6l1.6 -4.5M268.3 452.4l1.2 -9.6M228.4 425.4l0.7 -8.3M352.5 400.6l0.6 -4.4M193.7 428.3l0.9 -4.9M340.9 450.9l1.3 -8.2M186.8 430.8l0.2 -10.0M237.7 425.4l2.0 -10.2M280.6 439.0l0.4 -7.9M265.9 425.8l2.0 -10.7M223.6 471.2l2.0 -7.4M307.0 402.5l0.4 -4.9M281.2 489.9l0.7 -8.7M302.7 415.0l2.2 -7.2M379.2 430.3l1.4 -8.5M388.3 409.1l1.0 -4.0M294.6 409.2l1.0 -9.9M223.9 415.6l1.6 -10.8M281.4 471.3l2.4 -10.9M173.0 490.0l1.8 -4.5M312.1 482.3l1.5 -6.9M357.9 400.5l1.5 -7.8M238.2 399.9l0.7 -7.0M387.3 418.9l1.8 -4.5M264.4 445.3l1.6 -8.8M262.2 453.0l2.5 -10.3M203.9 461.0l0.8 -9.2M290.3 450.1l2.5 -5.3M332.9 432.4l0.7 -6.3M155.9 494.1l2.1 -10.8M352.9 399.7l1.6 -8.4M335.4 484.4l0.9 -7.3M336.6 405.3l2.0 -7.1M357.4 476.9l2.1 -7.4M337.4 490.7l0.4 -10.7M271.1 480.5l0.9 -5.4M387.4 418.6l2.4 -7.2M172.1 408.6l1.3 -7.8M300.2 440.1l1.0 -5.7M347.1 466.6l0.5 -10.0M386.6 425.8l1.1 -5.4M250.8 423.3l1.2 -6.9M269.5 493.3l0.6 -5.4M263.5 467.4l1.7 -6.2M175.4 435.0l1.2 -10.5M326.8 454.5l2.5 -7.9M189.3 466.2l2.0 -10.4M263.6 471.6l2.0 -4.5M318.5 402.3l1.4 -7.5M301.5 406.6l0.5 -6.6M203.9 425.1l2.5 -7.4M265.7 423.8l1.3 -5.1M214.4 398.6l1.9 -6.8M355.3 426.4l0.9 -4.7M182.4 399.0l2.0 -5.5M375.2 403.2l1.3 -6.2M165.8 406.3l0.6 -11.0M359.2 410.4l2.0 -9.5M182.5 474.8l2.4 -8.8M275.2 409.4l1.7 -5.6M207.7 454.5l1.0 -10.0M289.7 496.7l0.6 -8.5M348.6 444.7l0.9 -8.4M273.4 451.3l2.0 -5.6M211.4 481.7l2.4 -10.3M373.7 453.4l1.3 -10.4M262.4 491.7l0.2 -7.4M158.7 443.2l1.6 -9.8M232.6 412.4l1.8 -10.1M280.5 488.2l1.0 -7.4M321.8 444.0l1.2 -5.9M188.2 446.4l0.4 -8.6M385.1 424.7l0.9 -9.4M266.7 464.5l0.6 -7.7M369.7 463.4l2.2 -5.1M344.7 463.1l1.9 -8.2M237.5 405.7l1.8 -10.1M282.0 486.0l1.0 -4.5M279.4 447.7l0.7 -5.8M376.9 488.2l0.8 -10.8M236.9 405.5l2.4 -7.5M216.8 491.1l2.1 -4.4M275.5 411.1l1.1 -10.1M285.0 484.8l1.3 -4.5M282.4 479.9l1.7 -7.9M391.9 418.6l0.4 -7.7M356.8 448.2l1.3 -4.8M373.4 417.3l1.0 -6.4M269.0 461.6l0.7 -6.3M299.1 495.4l0.9 -7.0M351.9 444.3l1.9 -8.9M167.7 447.3l2.0 -10.1M382.9 485.4l2.1 -10.6M386.2 485.4l1.6 -8.3M252.8 412.6l0.8 -7.8M360.6 455.5l0.9 -10.1M351.0 418.9l1.5 -8.5M267.8 450.3l0.7 -9.7M251.7 448.5l2.2 -4.3M272.3 436.9l0.7 -9.8M387.6 419.4l0.4 -10.6M266.5 406.3l1.5 -7.0M374.0 477.0l1.0 -4.2M332.5 467.3l1.0 -8.2M185.0 444.9l1.6 -5.4M255.3 445.0l1.9 -10.0M234.3 476.7l0.6 -6.0M283.1 487.2l2.0 -5.3M249.7 406.5l0.5 -9.2M159.2 495.9l1.4 -9.4M303.5 489.3l2.1 -7.9M318.6 403.7l0.8 -5.4M188.0 419.7l1.9 -4.9M166.4 434.9l1.0 -10.6M381.3 424.2l2.1 -5.6M189.1 444.6l1.9 -8.3M257.9 415.0l0.5 -7.5M246.6 400.1l0.8 -9.6M280.3 493.2l0.6 -7.5M216.8 405.7l0.6 -8.5M371.9 427.6l1.0 -7.1M180.9 449.5l1.4 -7.0M286.3 411.5l1.3 -5.7M194.0 497.0l1.4 -9.1M215.0 458.8l1.2 -6.8M292.4 487.0l0.8 -6.0M386.8 497.3l0.4 -6.1M271.6 399.5l1.3 -5.8M362.8 402.3l2.1 -9.6M222.6 480.0l0.3 -4.6M371.5 473.4l0.4 -4.3M185.3 464.6l0.7 -8.7M262.2 422.5l1.4 -6.2M226.7 475.0l2.1 -6.0M237.7 474.1l1.1 -6.9M311.0 447.3l1.7 -9.0M367.7 423.0l0.2 -6.8M306.0 475.1l2.0 -5.6M374.0 463.0l2.0 -7.6M158.0 452.7l1.0 -6.9M180.4 449.6l2.0 -9.2M190.6 494.1l1.7 -8.3M332.2 411.4l1.5 -11.0M335.9 462.1l0.4 -10.4M376.7 453.9l1.2 -10.7M251.3 400.3l2.1 -4.9M172.3 445.9l2.5 -6.6M193.6 405.5l2.4 -7.9M280.6 433.8l1.8 -10.8M212.1 441.7l1.1 -7.7M328.2 436.1l0.7 -9.0M258.4 483.6l2.0 -4.2M312.8 442.0l1.3 -6.9M367.3 487.7l1.2 -9.0M286.5 429.2l0.3 -9.8M334.4 490.2l1.8 -8.4M356.5 434.2l0.8 -9.7M228.6 477.4l2.0 -7.8M259.7 493.6l1.1 -10.5M175.4 473.3l0.6 -7.6M174.7 465.4l2.4 -10.2M382.6 495.8l0.8 -5.4M302.0 457.5l2.0 -7.6M254.4 481.9l2.4 -8.7M331.1 479.7l1.2 -7.1M338.4 486.4l1.8 -6.1M315.8 475.6l2.5 -6.3M334.0 482.4l2.3 -5.0M323.7 467.5l2.2 -6.8M154.4 453.4l0.7 -7.7M383.9 473.5l1.4 -6.7M352.9 425.0l1.1 -6.0M304.1 479.8l0.7 -6.0M170.2 463.7l1.9 -7.4M240.2 492.8l0.5 -10.9M257.6 426.4l2.2 -8.7M264.2 413.2l0.8 -4.1M391.5 402.2l1.9 -10.0M198.2 469.6l1.3 -8.1M382.0 416.0l0.9 -6.4M159.0 443.7l1.8 -6.0M251.9 409.8l2.2 -10.0M294.6 454.3l0.9 -9.2M339.3 447.4l2.5 -8.5M194.7 452.2l0.8 -6.3M299.1 438.7l2.3 -10.4M152.3 460.3l1.5 -6.9M354.3 429.1l0.3 -5.8M278.0 492.0l0.9 -5.2M362.4 401.5l2.4 -10.6M368.1 406.3l1.9 -10.4M176.5 457.6l1.6 -5.7M324.4 447.3l0.4 -6.5M249.6 496.2l0.9 -10.1M292.0 443.0l1.8 -9.7M371.2 403.6l0.6 -6.3M153.0 450.8l0.4 -5.8M186.5 438.1l1.3 -5.2M327.9 485.6l0.4 -6.3M369.5 487.7l1.2 -9.9M355.4 436.0l0.3 -5.8M374.9 428.9l2.4 -6.5M385.4 425.0l2.3 -4.3M308.5 400.3l2.0 -8.8M344.4 479.2l2.1 -8.4M378.9 464.6l0.6 -4.7M376.8 425.9l1.4 -7.4M279.7 496.6l1.6 -10.5M343.9 445.3l2.4 -9.8M170.2 435.2l1.0 -8.9M260.4 412.1l0.4 -7.3M254.1 398.3l2.1 -4.7M259.3 403.2l2.1 -4.6M339.3 467.5l1.3 -5.3M330.5 492.9l1.8 -5.7M367.5 419.7l0.5 -7.6M383.5 494.6l2.5 -6.8M322.7 485.6l0.2 -4.6M347.0 438.5l0.2 -5.6M212.1 438.3l1.8 -6.9M271.9 421.7l1.9 -7.0M163.5 432.9l0.7 -8.0M285.4 434.4l2.2 -5.3M176.5 462.0l1.8 -6.3M215.1 470.4l2.3 -9.0M272.3 454.0l1.5 -6.1M364.7 475.7l0.4 -7.4M347.6 441.4l1.7 -6.7M306.8 466.6l1.2 -4.8M293.9 444.6l0.2 -9.6M177.8 399.3l1.3 -9.8M288.7 420.2l1.7 -8.5M221.6 408.3l0.7 -6.0M345.3 425.5l2.1 -9.2M351.9 463.4l1.1 -4.1M190.3 458.1l1.9 -7.7M319.4 467.8l2.4 -6.9M185.1 410.4l0.8 -8.1M303.1 449.2l2.3 -7.2M380.2 474.1l2.5 -10.3M201.3 426.4l0.7 -9.8M176.6 441.2l2.1 -5.6M257.3 485.8l1.2 -6.1M242.3 472.0l2.2 -8.0M258.2 468.8l1.3 -7.2M253.8 429.7l1.2 -5.3M202.5 460.7l0.3 -7.6M337.6 401.2l1.4 -9.9M194.6 440.7l0.9 -5.6M153.3 453.3l1.4 -5.1M309.9 469.5l0.9 -9.5M276.5 447.2l0.6 -7.7M278.4 420.7l1.4 -4.2M164.1 457.6l1.3 -6.2M356.1 439.2l1.2 -4.8M352.2 432.6l2.1 -5.7M195.0 469.6l1.2 -7.8M274.6 470.8l1.2 -4.7M163.5 445.0l2.0 -6.3M320.2 467.2l1.7 -4.6M382.0 493.4l1.8 -4.3M370.1 427.1l2.0 -6.3M234.5 467.1l1.6 -8.0M345.9 448.4l1.6 -7.0M373.5 418.1l1.4 -4.3M308.6 398.1l2.1 -4.3M204.0 440.6l0.9 -9.8M382.0 494.2l2.4 -6.0M239.0 488.9l1.8 -9.7M194.3 424.3l1.5 -5.3M362.2 434.9l0.2 -4.0M284.9 400.6l1.6 -7.3M352.9 495.2l2.3 -9.7M281.5 439.4l0.6 -9.5M362.2 407.6l1.6 -7.6M326.8 466.0l1.1 -8.7M152.8 446.1l1.7 -8.6M318.3 411.3l0.3 -4.5M373.3 422.1l0.9 -7.5M379.8 428.5l2.2 -8.4M232.9 474.7l0.7 -7.4M210.8 461.7l0.4 -7.9M236.9 463.1l0.7 -9.8M171.3 497.5l2.0 -9.5M231.9 450.6l1.6 -8.8M155.7 418.5l1.8 -10.2M245.5 446.1l2.3 -4.2M384.2 399.1l1.9 -4.9M238.0 494.8l2.2 -4.9M253.3 456.3l0.6 -4.5M273.1 438.4l1.5 -8.4M369.9 420.1l1.2 -4.3M369.7 473.0l0.8 -6.3M230.3 400.3l1.4 -5.1M172.9 429.3l1.1 -10.1M362.2 452.4l1.3 -9.5M359.1 463.2l1.3 -8.1M206.0 458.6l0.8 -8.8M296.5 463.9l1.0 -7.0M313.0 444.2l1.4 -5.5M283.3 448.3l0.4 -5.8M298.5 442.8l1.0 -10.5M293.3 438.8l1.2 -7.1M277.3 447.9l1.2 -8.7M152.0 454.9l1.1 -8.9M255.4 398.9l1.6 -7.8M283.8 437.3l1.4 -6.1M223.4 419.1l2.0 -9.2M179.3 407.0l2.0 -7.6M375.3 428.4l1.7 -6.1M373.5 459.1l1.4 -10.7M184.9 465.6l0.3 -9.7M310.5 496.9l1.2 -7.1M183.5 427.3l1.7 -8.2M287.7 425.2l2.1 -6.0M213.2 449.7l2.3 -4.0M250.1 492.0l1.1 -7.6M356.5 406.6l2.2 -5.7M322.7 415.4l2.0 -5.6M318.9 469.6l1.3 -5.9M248.0 453.5l1.7 -8.8M204.7 423.4l0.4 -6.4M267.7 428.5l0.7 -7.3M354.9 410.0l1.3 -9.2M351.2 452.1l0.7 -9.6M340.0 447.0l0.7 -6.8M209.6 441.5l2.2 -10.9M265.8 431.0l1.3 -5.5M270.2 406.4l0.9 -10.4M209.4 404.6l1.0 -4.7M346.5 407.1l2.4 -4.4M380.3 437.2l2.1 -5.1M365.0 472.6l0.3 -8.4M332.8 411.1l0.7 -5.4M155.6 439.7l0.3 -6.7M325.7 454.7l1.8 -7.6M385.5 416.0l1.9 -10.3M355.2 426.6l1.5 -6.7M363.9 467.8l1.7 -9.9M196.5 449.8l2.4 -10.8M207.9 482.2l2.0 -5.3M385.3 410.5l0.8 -8.1M313.9 423.8l1.0 -10.7M377.4 461.4l1.9 -10.4M330.0 436.1l2.2 -5.4M182.6 453.9l0.8 -5.1M287.6 457.7l0.7 -5.8M285.5 489.5l1.9 -10.9M174.2 486.2l2.4 -4.3M387.7 489.0l1.8 -4.3M341.4 403.7l1.5 -10.9M370.8 465.4l1.2 -6.3M151.0 459.6l2.0 -8.1M178.4 409.9l0.4 -9.3M303.4 426.0l0.2 -10.3M302.6 404.1l0.7 -4.3M201.8 407.0l0.9 -4.3M378.6 415.8l1.0 -8.3M282.4 451.3l1.9 -10.3M272.7 423.4l1.4 -10.3M256.7 491.9l1.8 -9.0M223.4 436.2l0.6 -10.7M289.3 450.7l0.9 -9.7M376.8 418.0l0.7 -8.2M381.4 415.0l0.2 -4.6M173.0 399.4l0.5 -9.9M221.2 418.7l1.8 -10.5M211.3 458.6l2.2 -5.8M379.1 401.0l1.7 -9.9M248.3 478.4l1.6 -4.9M223.5 437.6l1.1 -8.5M227.0 409.9l1.8 -7.1M238.1 476.8l1.2 -6.0M210.9 476.3l0.6 -8.2M237.4 475.9l2.2 -5.7M303.4 422.0l0.3 -10.3M342.9 452.3l1.4 -8.1M193.9 450.2l1.1 -6.9M172.2 446.1l1.8 -9.3M212.9 417.9l0.8 -8.2M256.7 415.8l2.0 -5.2M381.7 421.7l0.8 -10.8M342.1 478.8l1.8 -7.1M256.4 450.0l2.2 -9.7M313.6 453.1l0.8 -10.0M212.0 478.3l0.2 -9.0M322.7 452.9l0.8 -5.6M358.9 489.7l0.8 -5.1M184.8 426.0l1.4 -8.0M366.9 461.0l0.9 -8.2M334.3 399.5l2.4 -8.6M210.6 465.3l0.5 -5.5M235.3 480.3l0.2 -4.5M375.5 407.8l2.1 -7.1M199.8 406.4l1.8 -9.2M166.7 416.7l0.6 -8.6M172.2 446.4l2.1 -7.8M235.9 405.2l0.6 -7.9M384.8 406.9l1.0 -9.9M308.6 483.1l0.7 -5.2M272.6 497.0l1.2 -4.2M190.3 456.9l1.3 -10.6M326.7 482.2l0.4 -7.5M208.3 429.9l0.6 -7.3M284.4 485.6l1.1 -8.7M308.5 402.0l0.4 -9.8M180.8 417.4l0.4 -5.9M262.8 423.4l2.1 -9.7M378.0 478.0l1.4 -11.0M150.7 448.1l0.9 -6.8M261.2 492.5l0.9 -8.7M290.3 444.5l1.7 -9.5M365.6 474.3l2.0 -8.9M364.8 398.5l0.6 -10.6M274.2 439.9l1.9 -5.9M326.4 456.3l0.5 -4.1M294.8 477.1l2.3 -8.5M388.8 492.2l1.3 -8.9M374.4 461.1l1.5 -5.8M365.3 458.3l0.9 -8.8M285.0 420.2l0.7 -10.8M196.4 455.7l2.5 -6.3M174.4 429.0l1.3 -4.8M157.2 421.5l2.4 -4.2M341.9 436.5l2.0 -10.2M169.2 428.2l0.5 -8.7M363.5 419.1l2.3 -10.5M246.6 461.3l1.3 -10.9M344.3 462.2l1.2 -10.9M280.4 474.4l2.5 -10.4M339.4 417.3l1.5 -5.7M328.6 431.1l0.6 -9.3M374.3 463.8l1.0 -8.6M278.0 427.3l0.7 -6.6M152.0 455.6l2.2 -5.7M237.2 424.3l0.4 -5.6M349.1 398.7l1.4 -7.5M317.8 418.7l0.6 -9.2M320.2 450.8l1.3 -4.8M153.6 479.7l0.4 -5.4M206.4 489.8l1.0 -5.1M238.7 474.8l0.4 -8.4M253.1 482.7l2.0 -7.9M289.6 432.9l0.9 -7.8M255.2 482.8l2.4 -4.4M272.5 492.6l0.3 -5.2M186.0 445.9l2.0 -4.9M285.6 496.9l1.9 -10.2M350.9 469.5l0.4 -4.7M239.9 413.1l2.1 -7.4M185.4 435.4l2.2 -6.6M282.3 444.7l1.3 -9.8M246.4 493.2l1.4 -5.6M374.7 492.7l1.9 -11.0M195.2 427.1l0.8 -11.0M313.7 438.1l1.1 -6.8M307.4 449.8l1.9 -7.0M214.8 453.9l1.7 -8.7M380.1 479.7l1.6 -9.8M358.5 425.3l1.5 -7.4M190.1 478.0l2.2 -8.1M336.2 469.5l2.4 -4.3M332.4 414.2l2.4 -6.0M297.5 422.8l1.7 -4.5M314.1 494.7l1.9 -4.5M339.2 472.1l2.4 -7.0M155.2 456.1l0.6 -7.5M260.8 445.4l1.8 -10.9M191.8 405.0l2.1 -6.0M164.8 475.0l0.6 -7.6M156.1 468.2l1.5 -10.1M337.6 402.4l1.5 -8.6M305.8 428.2l1.6 -5.5M199.0 404.8l1.5 -9.8M162.4 400.1l1.2 -9.9M341.1 445.0l0.9 -5.5M188.3 431.9l2.3 -6.1M364.1 459.3l2.3 -7.6M211.6 459.5l2.4 -9.9M187.8 408.3l0.6 -7.3M374.8 456.0l1.6 -9.8M273.8 416.3l0.4 -9.4M259.6 468.7l1.6 -8.1M230.9 429.5l1.2 -5.2M375.1 398.8l1.0 -9.1M221.5 473.1l0.4 -9.2M387.2 487.6l1.1 -7.3M322.0 434.7l0.5 -7.4M319.3 494.3l1.7 -4.6M314.1 468.0l2.1 -8.5M154.7 442.3l1.9 -9.8M274.9 437.7l0.4 -4.0M311.1 458.0l0.8 -8.2M261.5 496.5l0.2 -6.2M267.4 414.9l0.9 -5.7M372.6 459.4l0.5 -9.8M320.0 496.1l0.8 -7.2M187.5 497.2l1.7 -5.1M310.6 449.8l1.2 -6.4M375.9 415.4l0.6 -6.6M269.2 433.7l2.2 -11.0M185.4 446.5l1.4 -5.9M342.5 428.9l1.2 -8.9M373.4 434.1l1.3 -5.1M288.9 446.5l2.1 -5.2M199.7 427.0l1.9 -6.0M330.6 398.6l2.1 -7.0M245.8 490.6l1.6 -7.5M165.8 444.0l1.7 -6.2M299.1 433.7l0.5 -8.8M365.8 428.0l2.3 -10.4M235.9 470.8l1.9 -4.3M247.7 472.1l2.1 -6.1M390.1 479.0l1.1 -9.8M337.7 470.2l1.4 -10.9M359.4 403.7l1.5 -5.2M243.4 405.2l0.4 -10.2M320.9 457.3l1.0 -5.7M239.6 471.3l2.5 -6.3M297.9 457.5l0.7 -8.2M251.4 455.7l0.9 -5.5M232.1 402.9l0.2 -6.2M359.4 491.6l1.5 -9.8M335.0 398.9l0.3 -7.6M366.4 460.1l0.8 -10.2M320.9 437.2l2.1 -8.0M179.5 485.9l1.7 -5.1M252.1 486.6l0.8 -10.0M182.3 451.8l2.0 -6.6M364.7 416.5l0.5 -6.4M199.1 483.8l1.5 -10.7M249.1 491.4l1.2 -10.0M327.8 451.6l2.4 -10.0M217.1 460.8l2.2 -7.7M348.0 405.1l0.7 -8.9M387.7 405.4l1.5 -4.3M152.9 438.2l1.0 -8.0M169.1 438.4l2.2 -8.0M261.5 463.1l2.2 -8.6M375.0 483.6l0.6 -4.9M250.0 456.2l1.5 -8.9M227.2 474.2l1.0 -8.9M271.2 416.8l1.2 -6.4M170.6 441.8l0.7 -4.6M307.3 492.3l0.7 -6.2M206.8 432.5l1.2 -7.1M257.2 416.9l0.6 -8.6M186.6 439.4l1.6 -10.8M207.8 431.9l0.2 -5.5M384.2 405.6l0.6 -10.1M210.2 465.5l2.5 -7.5M338.6 444.1l1.6 -4.0M216.1 418.1l2.1 -4.9M181.3 471.3l1.3 -4.3M231.2 470.4l1.7 -9.1M354.6 472.9l1.0 -5.6M385.9 490.3l2.0 -10.7M337.7 435.4l0.4 -7.8M255.0 440.2l1.0 -6.1M303.1 466.6l2.1 -9.4M292.7 424.1l1.3 -6.9M358.9 481.8l2.0 -9.3M238.3 449.0l1.1 -5.9M177.2 451.9l1.1 -4.9M339.4 440.9l0.9 -7.3M359.9 411.7l1.5 -7.7M192.0 466.5l1.0 -8.8M264.0 426.4l1.5 -6.3M234.5 482.6l0.2 -10.5M308.4 421.9l1.7 -9.4M247.4 475.9l2.0 -5.8M303.9 484.0l1.3 -5.5M244.7 452.2l1.4 -7.1M385.8 483.6l2.4 -10.3M383.7 496.3l1.1 -4.7M333.8 412.5l0.5 -10.6M333.7 459.0l1.4 -10.7M171.8 444.4l2.1 -7.9M167.2 407.6l2.4 -6.5M293.0 416.1l0.9 -5.6M204.2 432.4l1.5 -8.1M156.6 455.2l0.7 -6.2M359.3 474.1l2.5 -4.4M336.4 445.1l2.4 -10.5M345.6 438.7l1.6 -6.3M334.2 446.0l0.8 -10.5M185.1 452.4l1.7 -7.5M282.5 427.8l1.9 -5.3M390.0 442.1l1.2 -5.6M291.5 432.2l2.4 -4.1M368.9 475.8l2.5 -9.2M264.0 481.0l1.6 -5.8M214.8 406.5l1.1 -8.4M325.0 445.0l2.4 -10.1M197.4 466.8l2.1 -9.3M292.2 446.4l2.1 -8.5M254.7 415.5l0.9 -5.2M363.9 450.6l1.6 -7.4M256.5 404.5l1.5 -6.1M376.7 429.8l2.2 -9.4M158.2 425.4l1.2 -6.6M194.9 420.2l1.1 -4.2M154.5 482.3l1.4 -5.6M165.3 433.7l2.1 -9.2M150.7 432.2l0.8 -8.2M391.9 430.4l1.2 -8.6M157.6 462.9l2.1 -8.9M264.8 425.9l0.5 -4.9M233.4 478.5l1.2 -4.3M291.9 439.6l1.4 -7.9M227.5 479.5l0.7 -7.6M338.2 447.8l1.5 -6.3M364.5 438.9l1.4 -6.9M194.4 446.8l1.2 -4.1M150.5 442.0l2.1 -8.9M274.4 436.0l2.1 -7.1M281.4 473.9l1.5 -10.1M241.0 417.1l1.7 -9.4M251.1 495.4l2.3 -10.0M379.0 434.1l1.6 -5.8M259.9 438.4l2.0 -5.0M245.5 398.4l1.8 -6.3M257.0 416.3l1.0 -6.5M367.8 458.6l2.1 -9.1M194.8 461.0l1.3 -8.0M245.2 434.6l0.2 -5.9M275.1 430.1l1.5 -8.5M339.2 496.6l0.5 -9.7M174.5 450.0l0.8 -8.7M179.4 492.1l0.9 -5.1M325.3 494.6l1.7 -5.3M385.4 436.2l0.8 -5.6M201.8 446.8l1.9 -8.8M272.5 487.0l1.7 -9.5M238.0 484.1l2.5 -9.5M286.8 460.2l2.0 -5.6M237.5 406.9l1.0 -8.4M344.0 402.7l2.2 -9.8M334.8 466.2l1.4 -7.5M183.5 444.7l0.6 -4.5M283.4 439.8l1.5 -10.6M187.5 467.0l1.2 -5.1M268.0 427.5l1.3 -10.7M226.3 479.1l0.5 -9.6M224.0 408.5l1.6 -8.4M358.2 404.0l1.0 -7.4M303.2 410.4l0.8 -6.4M305.7 447.8l2.0 -7.2M228.3 473.5l0.9 -4.2M192.9 434.6l0.6 -7.7M382.8 405.6l0.2 -9.7M203.3 452.2l1.8 -7.7M248.1 485.1l1.4 -9.0M349.9 402.6l1.1 -4.8M341.2 490.1l1.2 -8.2M274.9 402.0l1.4 -7.8M241.3 490.3l1.8 -9.6M196.1 415.1l0.3 -7.7M320.7 444.0l0.7 -6.2M267.6 482.3l1.5 -10.3M188.6 432.7l1.7 -7.8M195.8 436.4l2.1 -8.6M313.9 400.6l0.3 -6.2M309.6 438.8l0.9 -9.7M169.8 448.0l2.1 -7.5M193.7 422.5l2.1 -7.0M243.8 474.7l0.4 -7.9M260.3 421.1l1.0 -6.1M215.0 411.1l2.1 -7.8M292.9 436.7l2.3 -7.6M286.6 447.5l1.9 -4.2M374.6 437.6l1.4 -5.5M345.4 443.5l0.4 -9.9M298.6 411.3l0.9 -5.4M218.3 430.6l1.5 -9.9M317.1 457.0l1.8 -8.8M319.9 481.2l1.9 -10.6M278.5 460.7l0.6 -4.2M281.9 449.1l0.5 -7.7M298.3 471.3l1.3 -7.5M293.1 457.1l0.8 -9.6M360.2 481.7l2.4 -7.5M201.2 459.4l1.2 -7.8M200.4 439.7l1.9 -8.2M200.8 446.3l0.8 -9.4M223.4 483.0l2.1 -5.4M156.2 445.0l0.5 -7.8M267.5 445.3l1.1 -10.4M330.4 413.5l1.9 -8.1M330.1 413.4l0.9 -10.8M165.1 444.2l1.4 -6.0M295.2 398.3l0.9 -6.1M310.6 487.6l1.9 -10.2M302.8 434.1l0.8 -5.2M175.2 482.6l0.3 -9.7M278.9 496.4l1.5 -5.1M233.5 482.9l0.4 -6.6M183.7 430.1l2.2 -4.8M221.7 439.6l0.6 -9.5M374.5 398.8l2.4 -6.4M327.9 448.2l0.4 -4.7M249.2 495.1l1.5 -10.2M222.3 482.2l0.6 -9.3M182.4 454.1l2.4 -7.1M369.5 469.4l0.5 -6.2M232.9 492.9l0.5 -5.8M362.0 495.8l0.8 -9.6M258.0 480.3l0.6 -5.4M160.0 441.5l2.4 -4.1M303.2 449.5l0.2 -7.9M342.8 471.3l1.9 -9.0M387.6 419.7l1.1 -6.7M367.3 465.3l0.6 -8.1M183.8 435.2l0.6 -6.2M179.0 424.7l2.0 -4.5M286.9 448.0l1.4 -5.8M288.8 487.4l1.3 -5.2M229.4 446.8l1.3 -6.5M381.9 430.0l1.6 -8.9M253.3 418.3l0.3 -9.2M264.1 426.7l1.9 -9.5M279.7 483.6l1.6 -9.8M372.9 461.5l1.2 -4.1M352.4 466.2l1.6 -4.3M212.8 442.2l1.4 -10.2M229.1 420.7l1.0 -5.0M219.6 470.8l2.2 -8.9M288.1 482.8l0.4 -7.2M298.7 440.1l1.9 -4.3M249.4 408.4l1.4 -9.9M381.8 491.4l2.1 -9.6M227.9 497.8l1.1 -9.5M167.3 474.4l1.0 -7.1M207.7 423.8l1.5 -8.7M383.5 489.0l0.8 -7.6M277.5 421.4l2.0 -4.7M370.7 423.5l0.7 -9.8M224.4 485.5l1.5 -7.7M348.0 485.8l1.3 -9.9M355.4 427.2l0.3 -5.5M385.4 412.7l2.2 -8.6M373.1 483.5l2.5 -6.2M335.8 494.4l1.4 -6.7M212.4 463.7l0.3 -10.5M273.3 439.0l0.6 -5.8M218.1 404.3l1.7 -10.2M228.0 465.9l2.1 -6.4M275.1 434.3l0.7 -10.9M208.8 452.5l2.3 -6.1M349.8 493.6l2.1 -6.8M273.2 484.5l0.9 -7.2M361.5 409.8l0.6 -6.2M286.2 448.5l1.4 -9.1M379.5 446.4l1.5 -5.1M159.8 447.7l1.0 -9.0M257.6 458.7l1.4 -4.4M168.9 447.6l1.1 -8.3M376.3 497.3l0.6 -10.9M205.4 427.1l2.1 -4.1M360.7 465.5l0.8 -7.1M328.6 462.0l2.4 -6.7M204.9 401.5l2.3 -7.2M223.2 478.4l0.9 -9.8M291.6 470.4l0.4 -10.3M348.2 453.1l0.4 -6.8M166.9 475.8l1.0 -7.5M198.8 490.9l1.8 -4.2M366.4 416.2l0.2 -5.5M236.0 451.6l0.3 -4.6M378.7 470.5l1.4 -10.3M353.3 494.1l2.2 -6.9M333.7 475.9l0.7 -8.7M215.0 450.2l1.1 -6.5M221.6 463.4l2.1 -10.2M161.8 492.2l1.1 -6.0M324.7 399.7l0.3 -6.8M251.7 411.2l1.0 -5.2M162.5 402.4l1.2 -7.8M321.1 454.2l2.2 -5.3M253.8 452.1l2.3 -7.8M310.9 462.6l0.3 -8.0M214.4 483.6l1.1 -5.0M190.2 426.1l1.9 -8.1M325.6 457.0l1.2 -8.5M217.4 466.6l1.7 -8.5M385.0 463.6l0.4 -7.3M316.1 464.4l0.4 -8.4M261.7 493.5l1.5 -7.8M195.1 437.2l2.0 -7.5M377.4 458.4l0.7 -5.7M152.5 435.0l2.3 -7.4M281.6 402.1l0.8 -6.2M216.7 434.7l0.7 -8.8M221.3 470.6l0.9 -8.6M206.4 454.6l1.7 -10.3M218.9 452.2l1.4 -6.5M297.3 409.2l0.4 -5.6M375.1 420.1l1.1 -9.0M323.6 430.0l1.2 -5.5M388.4 437.9l0.5 -6.5M196.6 484.7l1.1 -8.1M351.9 427.8l2.3 -7.2M337.3 409.6l1.5 -6.8M289.0 459.4l0.6 -8.6M383.4 423.1l1.8 -4.2M267.9 467.2l2.3 -7.7M270.3 434.5l0.3 -7.2M384.2 426.9l2.5 -6.5M172.4 485.0l1.7 -6.8M314.6 417.3l1.2 -5.3M338.4 480.7l0.4 -9.1M322.8 457.7l2.3 -6.5M259.5 409.1l1.8 -8.0M389.3 417.7l0.9 -10.7M247.3 428.0l2.3 -4.1M371.3 460.7l0.6 -4.8M351.9 433.6l2.5 -5.0M339.2 442.6l1.5 -6.9M354.3 451.8l0.9 -6.0M357.0 431.6l1.3 -8.4M385.1 425.5l1.1 -5.6M204.9 449.9l0.9 -6.2M340.3 439.1l1.8 -6.5M366.7 403.5l1.5 -8.9M324.4 415.9l2.4 -7.4M297.7 434.4l0.7 -8.9M367.2 452.9l1.0 -7.4M293.9 431.0l1.4 -5.3M375.6 435.4l1.4 -5.3M313.9 410.1l1.6 -10.5M319.2 409.1l0.9 -8.2M383.7 402.0l1.6 -10.2M323.5 451.6l1.4 -5.5M203.1 459.0l0.5 -9.8M220.0 484.4l2.4 -5.4M375.6 426.5l1.0 -5.4M207.9 436.1l1.6 -7.2M231.9 481.5l0.5 -10.1M313.6 475.9l0.3 -8.7M274.1 481.5l1.0 -4.6M160.1 412.8l0.3 -6.9M318.7 428.8l1.7 -8.6M376.6 414.2l1.8 -8.2M200.4 408.4l0.5 -5.4M374.6 435.3l1.0 -4.5M354.4 474.4l1.8 -8.7M300.6 496.4l2.1 -5.9M379.1 467.6l1.0 -5.5M355.6 471.9l1.8 -9.4M325.6 451.0l1.7 -8.4M241.6 479.0l2.2 -8.6M306.3 461.8l1.7 -6.2M166.4 484.2l2.1 -6.9M218.8 403.4l1.1 -9.3M352.3 401.9l2.2 -9.9M293.2 413.5l2.1 -10.6M361.8 410.3l1.5 -9.4M298.4 452.0l1.1 -11.0M175.0 444.6l0.3 -10.0M313.0 497.6l1.3 -10.3M177.4 476.8l1.4 -4.2M368.5 487.5l1.3 -7.3M254.4 418.2l1.6 -5.5M386.6 416.7l1.6 -4.2M267.0 464.4l0.6 -5.9M285.5 437.3l0.6 -10.0M217.4 411.8l1.5 -4.9M299.7 466.0l2.4 -4.5M343.9 482.5l1.9 -5.1M342.9 468.1l2.4 -9.0M370.7 492.0l1.1 -6.6M349.5 443.4l1.1 -7.1M207.8 446.4l1.3 -8.7M358.8 475.5l1.2 -5.3M311.7 440.9l1.6 -4.2M207.3 463.5l1.9 -10.3M200.6 455.7l0.3 -8.2M294.7 416.7l1.1 -10.3M254.7 496.0l1.3 -6.7M248.4 426.5l2.4 -10.7M339.2 466.1l1.9 -7.2M182.1 440.9l1.8 -4.4M319.4 441.2l0.6 -5.4M218.3 453.3l1.5 -4.5M169.0 438.3l1.9 -10.0M290.5 476.9l2.2 -9.4M183.5 453.4l2.1 -9.2M326.9 497.7l0.7 -8.7M389.4 487.7l0.8 -7.7M193.9 432.6l1.3 -4.2M301.1 418.5l2.3 -9.9M195.3 419.3l2.2 -5.4M166.0 438.0l1.9 -9.9M181.2 462.1l2.1 -10.6M260.3 440.1l1.1 -5.7M242.9 430.8l2.0 -10.9M227.7 400.0l0.9 -9.1M373.2 472.4l1.6 -6.5M234.0 482.9l2.1 -6.5M366.7 452.8l0.7 -8.8M163.0 485.3l0.4 -9.5M334.7 489.6l0.3 -5.3M327.8 462.0l0.5 -7.2M263.8 490.6l0.6 -5.0M185.8 454.0l0.8 -8.5M335.9 477.6l0.2 -8.5M289.6 459.0l2.3 -7.6M201.3 481.7l0.9 -8.6M257.0 489.5l1.8 -10.5M213.1 463.9l0.2 -8.4M366.5 484.8l2.3 -4.2M197.8 461.1l2.0 -11.0M165.6 477.3l0.4 -4.2M297.4 457.5l1.5 -10.6M226.5 459.8l1.2 -7.9M357.7 439.8l0.2 -4.2M229.6 476.8l2.1 -4.9M224.9 451.6l1.9 -10.2M181.7 435.7l1.5 -6.1M390.9 430.1l2.0 -4.6M218.1 415.6l2.2 -10.3M279.9 437.9l1.0 -6.0M185.0 440.7l1.1 -4.1M293.0 497.1l1.8 -10.3M156.1 445.5l2.5 -10.6M178.3 400.0l2.1 -5.2M264.8 417.3l0.6 -7.1M257.0 488.1l2.0 -7.2M247.0 462.9l2.0 -9.4M210.8 465.8l1.7 -4.0M172.7 432.3l1.6 -6.0M179.4 479.9l0.3 -9.6M317.0 494.3l2.2 -10.6M293.2 434.7l0.3 -10.9M314.3 470.8l2.0 -7.4M347.5 496.5l1.6 -9.8M285.7 427.7l2.3 -5.6M387.9 431.3l1.9 -7.6M329.9 399.6l1.9 -9.9M225.9 407.7l0.5 -10.0M290.9 414.4l2.5 -8.2M258.8 429.8l1.7 -4.4M302.8 490.5l0.8 -5.3M243.4 472.3l0.8 -7.8M224.6 400.8l1.8 -9.4M240.1 455.0l1.3 -9.1M315.5 439.7l0.9 -9.9M334.0 487.1l0.6 -10.1M270.3 435.6l0.4 -5.4M162.1 486.8l1.9 -7.6M346.1 477.1l1.5 -7.9M278.5 485.5l2.1 -10.6M218.5 458.2l0.3 -6.7M242.3 432.6l1.1 -4.4M333.0 444.7l1.5 -5.1M339.0 399.8l1.5 -4.3M188.6 425.4l2.0 -5.7M290.1 466.9l1.1 -7.6M255.6 418.7l2.2 -7.8M334.2 456.8l2.1 -10.5M279.1 496.3l1.5 -10.5M331.4 398.6l2.0 -10.7M180.1 478.6l2.4 -9.5M329.4 435.0l0.4 -9.4M240.1 448.9l1.4 -10.5M336.1 398.2l2.2 -7.8M180.5 437.1l0.3 -8.2M352.3 401.3l0.8 -8.1M263.5 419.9l1.4 -6.4M374.9 490.7l2.5 -4.4M378.2 489.8l0.7 -6.0M190.4 457.3l0.6 -9.9M261.6 457.8l0.3 -7.8M282.7 440.5l1.5 -4.4M259.9 416.2l1.5 -4.3M336.3 400.5l2.2 -7.6M337.9 441.7l1.7 -4.6M181.9 451.0l2.4 -4.4M219.1 490.2l0.5 -6.2M203.6 463.3l0.7 -5.6M376.6 491.0l0.6 -10.3M263.7 442.8l0.2 -5.1M200.2 417.3l2.2 -6.1M261.8 459.0l2.5 -5.4M258.5 417.4l1.2 -4.4M390.0 477.7l2.2 -7.2M308.0 460.5l0.4 -5.9M233.2 402.2l1.5 -5.5M283.6 422.0l0.2 -7.5M186.5 443.5l0.7 -7.4M156.6 496.5l0.4 -4.8M232.8 470.4l2.3 -7.6M293.0 444.1l2.5 -6.1M266.2 414.5l0.8 -8.8M375.7 453.2l2.3 -7.0M208.8 407.8l1.6 -7.2M239.6 474.6l2.4 -6.1M240.2 408.9l0.5 -5.1M388.5 477.8l0.5 -8.7M240.9 467.9l2.2 -10.8M337.4 468.3l0.4 -10.6M207.7 482.1l2.0 -5.5M160.1 444.2l2.1 -4.2M255.7 428.1l1.0 -5.5M315.0 416.9l0.5 -9.4M156.4 452.6l1.7 -6.8M352.7 447.9l1.6 -10.0M221.4 492.9l1.2 -6.7M234.2 448.2l2.2 -9.6M172.7 449.5l0.8 -5.9M385.0 418.4l1.2 -7.7M154.3 416.9l0.5 -10.5M182.5 445.6l1.5 -10.1M201.5 497.2l1.4 -9.5M314.7 427.1l0.5 -7.1M358.1 478.7l1.3 -10.0M371.0 398.2l1.4 -6.1M367.1 492.5l0.5 -7.7M193.9 426.2l1.7 -5.1M347.2 478.4l2.5 -7.6M158.8 409.7l2.0 -5.0M349.9 469.4l0.8 -8.0M369.5 429.8l0.7 -9.3M194.1 471.6l1.2 -9.7M344.0 406.7l1.4 -6.2M372.6 412.6l1.4 -7.6M214.6 454.0l0.9 -8.5M162.5 487.6l1.6 -8.6M229.2 438.1l1.6 -7.5M258.2 423.5l0.4 -9.9M299.0 496.7l2.4 -5.2M227.6 411.9l1.7 -10.2M256.0 483.8l1.0 -5.0M168.7 442.2l1.2 -9.1M184.1 466.1l2.1 -7.6M268.3 421.9l2.1 -5.0M157.4 486.1l1.1 -11.0M262.2 414.9l2.2 -9.4M253.2 495.4l1.2 -8.3M285.3 492.2l1.6 -5.0M247.5 481.4l2.1 -5.0M223.1 443.8l0.8 -4.2M251.4 427.3l2.1 -10.6M165.9 455.9l0.7 -5.4M158.5 454.0l1.8 -11.0M247.1 409.9l1.2 -4.1M248.4 471.2l1.4 -6.4M251.1 466.6l2.4 -6.3M208.8 419.0l0.6 -4.8M336.0 447.2l0.8 -8.3M294.0 427.7l1.9 -5.6M354.1 459.3l0.2 -8.4M369.1 426.3l0.3 -8.5M306.4 405.9l2.0 -9.4M361.3 417.0l2.3 -7.3M324.0 447.3l0.6 -10.0M384.0 492.7l1.7 -8.1M178.3 444.3l0.9 -10.2M354.4 443.6l1.9 -5.1M225.5 405.1l1.4 -7.5M232.5 454.2l0.5 -7.0M377.7 463.0l1.9 -10.1M336.0 481.8l1.2 -5.7M269.2 413.0l0.2 -7.7M295.2 450.5l1.4 -4.1M215.0 480.8l2.0 -9.9M302.6 402.6l1.3 -10.8M311.7 491.7l0.8 -8.8M327.4 444.7l1.2 -7.6M292.4 413.6l2.2 -7.8M253.7 492.6l0.8 -7.4M286.5 434.3l1.4 -6.7M232.1 485.3l0.8 -9.4M378.4 414.7l1.0 -6.6" stroke="#ff18ff" stroke-width="1.9" fill="none"/><path d="M217.3 450.3l0.5 -10.6M357.1 475.9l1.0 -7.7M356.0 471.6l2.0 -4.3M182.3 428.3l1.0 -7.5M390.4 472.5l1.2 -5.9M248.2 453.9l1.2 -8.8M307.8 489.1l1.0 -6.3M238.8 450.1l1.1 -5.7M270.2 488.1l0.3 -9.3M261.8 482.0l1.3 -6.9M268.9 449.2l1.7 -9.8M212.2 418.2l1.4 -4.4M200.1 408.1l2.0 -4.7M299.6 467.2l1.0 -9.7M310.6 437.5l2.0 -8.4M247.5 466.2l0.9 -6.5M178.5 438.4l2.0 -9.9M373.7 404.7l1.5 -4.0M288.6 489.4l1.0 -10.0M190.9 463.2l2.5 -10.0M211.8 411.4l2.1 -9.5M307.5 468.0l1.3 -4.1M154.2 427.0l2.4 -6.0M247.1 411.4l1.1 -9.2M273.4 486.5l1.7 -8.3M252.3 427.5l0.9 -4.1M161.9 449.4l2.3 -5.1M178.3 424.0l2.3 -9.2M227.7 415.3l1.0 -9.2M175.6 456.7l1.4 -9.8M360.4 433.7l0.9 -7.1M200.7 471.7l0.9 -5.0M304.1 435.7l2.1 -5.7M171.0 483.1l0.3 -10.3M382.3 496.2l1.5 -5.0M343.8 414.0l1.5 -7.5M208.5 480.4l0.4 -5.7M231.2 474.5l1.7 -5.6M274.9 483.0l1.3 -4.6M275.8 453.0l1.3 -6.1M166.3 488.5l0.2 -5.3M203.2 494.1l1.8 -8.8M283.6 459.2l0.5 -10.0M309.2 438.6l0.6 -7.7M200.6 401.7l1.1 -9.3M255.8 474.9l1.3 -9.8M176.5 402.2l2.2 -7.1M367.2 421.8l1.2 -7.9M371.1 449.3l1.6 -8.2M285.1 415.2l2.0 -6.5M375.4 462.6l2.4 -8.6M372.7 480.6l0.8 -10.3M261.3 453.2l2.4 -9.1M329.3 490.0l2.1 -8.7M301.5 409.7l0.7 -6.8M178.7 404.3l1.2 -7.1M284.8 470.3l1.1 -4.6M242.9 459.9l0.2 -6.2M333.2 455.3l1.2 -4.9M357.6 409.4l2.5 -8.2M307.0 452.3l0.6 -6.1M317.8 435.2l0.6 -6.4M336.4 413.6l2.3 -7.7M208.1 432.1l0.9 -6.8M373.1 441.9l1.1 -5.3M376.2 477.5l0.6 -7.3M193.6 444.2l2.2 -10.8M159.9 431.9l0.7 -6.7M232.2 443.7l1.2 -11.0M222.4 418.5l1.1 -5.2M351.8 427.9l0.4 -7.4M384.8 445.8l1.0 -5.9M202.4 485.0l0.9 -5.2M173.7 467.7l0.5 -9.7M330.6 481.6l1.0 -4.7M302.8 400.5l1.8 -10.0M351.9 452.3l2.1 -9.3M342.0 456.6l0.3 -7.2M250.9 416.7l1.8 -5.3M176.8 464.1l1.6 -4.1M219.1 443.5l0.9 -5.1M387.7 432.6l0.4 -4.1M294.7 476.6l1.7 -9.4M324.1 418.9l1.5 -7.6M176.6 482.9l1.3 -8.9M277.3 450.5l0.5 -4.2M181.6 426.6l2.3 -4.5M330.5 457.6l0.4 -5.6M355.7 421.0l0.2 -8.6M301.7 495.6l0.6 -10.4M366.7 450.5l2.1 -8.5M388.9 437.0l2.1 -9.1M272.2 452.4l0.2 -8.1M156.8 411.6l1.4 -5.2M255.0 408.5l0.9 -6.6M234.0 436.7l2.1 -9.8M181.5 487.9l0.3 -4.4M234.4 459.6l0.3 -11.0M339.2 435.1l1.6 -7.2M293.5 438.7l1.1 -6.7M174.5 455.4l0.8 -8.4M210.6 458.8l1.6 -6.5M175.0 398.1l0.3 -10.3M385.7 472.8l0.6 -10.1M389.0 466.3l1.1 -5.8M155.0 453.4l1.4 -8.0M156.9 468.0l0.7 -7.0M201.7 437.2l1.5 -9.4M259.2 452.4l1.0 -10.9M225.6 483.7l1.1 -5.4M308.0 497.9l2.2 -8.4M281.5 464.9l1.3 -10.7M252.6 487.8l2.0 -10.5M294.1 470.1l2.1 -6.4M288.7 477.3l0.3 -9.3M185.6 432.1l0.9 -8.6M226.4 458.0l0.7 -9.9M153.4 430.8l1.8 -10.3M211.0 422.8l0.9 -4.2M178.2 487.3l2.0 -7.7M265.9 441.1l1.0 -5.5M254.1 425.1l0.7 -6.4M243.5 469.8l1.6 -10.4M313.4 426.8l2.3 -8.8M248.6 489.4l1.5 -4.3M252.9 410.6l2.0 -10.1M344.5 423.4l1.0 -6.3M352.1 440.6l1.2 -9.8M173.0 484.9l2.5 -7.9M211.7 478.1l2.3 -9.2M365.9 417.9l1.0 -10.1M288.3 489.5l0.8 -10.4M369.2 404.2l1.9 -5.1M237.8 489.4l2.2 -7.4M372.3 476.2l2.0 -9.4M156.2 467.1l2.1 -6.6M161.5 414.2l0.4 -7.0M288.4 421.3l0.7 -6.7M252.8 496.5l2.1 -4.5M379.7 472.0l2.5 -8.2M319.2 431.9l2.4 -7.3M379.9 439.5l1.1 -4.3M187.7 406.3l1.8 -4.6M248.0 460.0l0.8 -8.2M169.3 491.6l1.8 -4.2M331.5 415.4l2.2 -4.5M240.6 468.5l0.4 -5.8M179.3 409.5l2.3 -6.1M283.0 475.2l1.5 -5.5M343.8 473.3l1.3 -8.8M342.1 420.3l1.2 -8.0M265.2 426.9l0.8 -9.3M333.6 491.7l1.6 -5.8M374.8 478.5l1.7 -10.9M332.5 448.7l1.9 -6.8M324.2 426.2l1.3 -4.6M190.8 442.5l2.5 -5.0M303.6 472.7l1.8 -4.3M356.9 461.8l0.2 -7.2M288.8 400.1l0.4 -4.7M209.7 433.9l1.6 -4.1M164.5 462.9l0.6 -5.6M389.1 450.5l2.3 -10.6M360.8 446.3l0.3 -6.7M297.5 413.3l1.5 -10.2M352.2 447.7l1.2 -10.1M178.2 407.6l1.8 -8.7M173.1 450.6l1.6 -4.6M223.8 447.4l1.0 -8.9M178.4 482.6l1.6 -7.1M174.1 470.2l1.5 -8.8M334.5 467.8l2.1 -5.8M303.0 449.2l1.3 -4.3M352.4 449.7l2.2 -6.5M257.2 450.9l1.1 -7.2M263.4 466.9l2.4 -6.9M249.4 481.1l1.2 -7.3M216.5 445.4l2.1 -4.6M227.3 486.5l1.7 -5.1M349.7 414.2l2.3 -5.4M385.9 401.6l0.7 -5.4M209.6 402.3l1.1 -6.1M212.7 470.7l1.4 -9.6M241.5 398.9l2.0 -6.6M217.7 464.6l2.3 -6.0M345.3 485.5l1.4 -7.6M385.0 405.9l1.0 -5.2M338.0 434.1l0.6 -5.0M270.7 441.1l1.2 -8.5M281.2 432.4l1.7 -5.7M228.5 457.0l2.3 -8.1M190.8 418.7l0.5 -10.9M241.2 416.7l1.8 -10.5M348.8 417.9l0.9 -5.7M307.8 484.8l1.1 -5.8M352.0 453.5l1.1 -5.7M163.2 403.8l2.2 -8.7M391.9 495.0l1.0 -10.8M201.2 439.1l1.6 -5.2M323.4 455.3l1.6 -7.0M324.9 451.5l1.8 -10.4M277.0 420.3l0.6 -10.7M293.3 496.7l0.8 -4.5M178.1 463.7l1.5 -5.2M328.1 471.1l0.5 -7.2M292.3 497.8l0.3 -8.4M357.9 428.8l1.4 -4.6M357.8 451.5l0.6 -10.1M167.7 488.5l0.9 -5.8M152.3 398.2l2.5 -5.0M219.4 429.2l1.4 -9.6M203.6 478.5l2.5 -8.7M332.2 469.3l0.2 -7.4M314.2 429.0l1.7 -6.0M384.6 466.1l2.3 -7.0M372.9 430.3l0.4 -10.1M334.3 449.0l1.4 -7.2M276.4 458.5l0.8 -5.4M342.6 492.9l1.4 -7.2M159.4 483.4l1.0 -7.5M227.0 436.4l0.9 -7.1M283.6 459.9l1.1 -8.5M185.2 462.5l0.2 -5.1M167.7 494.2l2.4 -10.6M260.0 477.0l0.8 -4.7M211.2 494.2l1.0 -10.8M164.8 428.0l1.6 -8.7M366.8 414.4l1.4 -4.0M178.3 461.1l1.7 -5.1M348.9 472.5l1.3 -9.5" stroke="#e018f8" stroke-width="1.9" fill="none"/><path d="M308.6 475.4l2.5 -6.5M235.7 430.6l0.8 -7.0M183.8 491.6l2.1 -8.8M204.2 452.0l1.5 -8.4M204.2 405.2l0.2 -8.9M249.2 468.3l1.0 -6.6M248.7 462.8l1.0 -9.7M311.1 430.9l1.9 -4.5M213.5 429.3l2.2 -5.8M284.6 403.1l1.4 -6.2M255.0 461.9l2.2 -4.3M309.1 419.0l1.4 -8.6M279.7 409.8l0.6 -7.3M360.9 448.2l0.2 -10.2M201.7 433.4l1.6 -9.9M366.3 418.1l0.3 -9.7M272.1 440.4l1.6 -4.4M366.9 441.7l0.5 -5.0M284.6 455.8l0.3 -6.9M381.5 474.0l0.4 -10.2M332.3 473.0l2.0 -6.3M162.9 464.3l2.3 -5.7M190.3 492.8l1.1 -6.0M266.5 481.7l0.8 -4.4M218.2 445.3l0.5 -7.4M247.9 446.5l2.3 -10.5M178.6 404.8l1.3 -6.5M198.2 404.6l0.6 -4.2M208.2 410.1l0.5 -10.7M290.7 486.7l0.7 -4.4M302.3 427.2l0.7 -7.9M336.1 434.9l1.7 -10.0M202.2 482.0l1.9 -7.2M278.1 475.5l0.4 -4.7M382.0 467.6l2.3 -4.9M198.8 428.2l1.9 -6.3M271.1 464.8l2.4 -5.0M352.9 490.5l2.4 -4.4M320.6 482.0l1.3 -8.5M357.8 436.6l2.2 -4.7M333.2 412.9l1.5 -9.3M189.6 491.0l2.0 -7.3M363.1 449.6l2.4 -6.3M367.8 423.5l0.6 -5.0M272.7 431.5l1.9 -4.7M247.0 466.8l0.6 -7.0M350.3 414.2l0.6 -7.1M170.4 428.6l2.1 -8.1M376.1 442.2l2.0 -10.7M225.3 418.4l0.5 -9.1M365.6 440.7l2.0 -5.3M208.2 445.1l2.2 -9.4M372.4 432.8l1.8 -6.6M177.6 414.1l2.3 -4.2M193.5 437.5l1.2 -7.5M220.0 455.4l1.2 -4.1M309.3 438.0l1.1 -6.8M230.4 458.1l2.2 -10.9M280.6 424.6l0.6 -6.8M338.6 460.8l2.3 -8.2M343.7 421.8l0.7 -6.7M292.7 459.2l0.6 -8.3M153.8 468.9l0.8 -9.6M166.2 453.3l0.7 -8.6M223.5 434.3l0.7 -5.9M302.6 462.7l1.2 -7.5M232.8 448.8l0.4 -7.0M316.9 421.6l0.8 -5.7M302.8 449.7l1.1 -5.0M351.0 416.8l0.7 -5.2M255.2 467.7l2.5 -7.5M184.7 466.1l1.3 -7.2M200.6 431.4l1.9 -10.3M325.1 472.5l2.0 -8.5M389.8 474.7l2.0 -6.8M235.5 467.3l2.2 -6.8M197.2 494.4l2.1 -4.3M162.5 399.1l2.0 -5.7M363.3 466.5l1.5 -7.2M213.2 442.8l2.3 -4.5M372.5 476.8l1.9 -6.7M279.5 466.0l1.5 -4.7M292.3 413.8l1.8 -9.8M317.9 401.2l0.5 -4.3M290.3 477.0l1.7 -7.9M189.0 414.0l1.0 -7.8M307.4 406.0l1.7 -7.3M299.6 465.4l1.6 -8.4M204.4 431.1l1.5 -4.9M193.9 413.3l1.1 -10.7M206.9 430.4l2.0 -8.6M210.7 477.6l1.0 -7.8M315.3 414.0l2.0 -6.6M175.0 419.7l0.3 -5.8M171.1 401.1l1.6 -8.9M284.9 493.4l2.2 -8.3M306.4 488.5l0.4 -9.4M225.0 483.2l1.4 -8.0M380.2 462.6l1.2 -6.7M391.3 399.4l0.7 -8.0M266.5 451.8l1.3 -4.4M248.7 488.6l1.8 -10.0M329.0 482.9l2.3 -7.3M171.4 475.4l1.1 -10.0M270.2 409.3l2.4 -7.3M239.3 448.0l1.5 -8.1M165.1 409.7l1.4 -5.0M300.3 419.6l0.8 -10.8M301.8 407.4l1.1 -7.4M219.3 433.2l2.3 -10.9M347.2 424.7l0.2 -4.6M337.3 497.5l2.3 -5.1M320.2 494.1l2.0 -7.3M228.4 414.7l2.4 -7.7M322.1 481.4l1.9 -10.3M212.8 493.5l1.2 -6.2M338.6 449.5l1.3 -8.1M343.2 431.7l0.4 -4.3M288.0 438.5l1.7 -10.2M172.0 468.5l1.7 -9.1M217.7 415.4l1.0 -10.3M381.3 450.6l0.7 -7.9M390.6 432.0l2.1 -9.9M270.9 482.4l0.7 -4.8M266.9 419.8l0.8 -4.9M242.3 466.2l1.0 -10.3M163.2 425.0l0.9 -10.5M258.2 462.0l0.2 -5.3M329.6 472.9l0.3 -6.6M304.9 433.4l0.5 -8.7M209.0 431.4l0.3 -10.2M226.8 405.7l1.4 -6.2M322.9 439.6l2.0 -5.1M161.5 455.0l1.1 -8.3M345.7 423.6l1.3 -9.0M317.8 480.4l1.6 -8.0M325.3 471.7l0.5 -8.8M205.8 419.1l0.4 -10.0M313.9 484.5l1.9 -5.3M323.5 496.6l2.2 -6.7M245.9 437.6l0.9 -10.2M317.7 434.5l1.6 -4.8M165.5 451.2l1.3 -9.4M210.4 446.3l0.7 -9.3M250.0 453.7l1.9 -5.2M345.5 457.1l0.9 -8.3M306.1 490.8l0.5 -5.2M202.4 475.6l1.7 -4.5M227.3 415.1l2.1 -8.5M278.9 409.6l0.8 -6.1M256.8 496.7l0.5 -10.0M279.5 464.2l1.9 -10.0M191.5 488.1l0.9 -10.9M300.0 419.5l1.1 -5.2M335.4 410.0l2.2 -4.3M303.7 414.8l0.9 -7.3M269.9 471.2l1.7 -5.4M387.8 468.6l0.2 -10.5M309.9 414.3l1.0 -7.5M262.4 439.3l1.8 -6.7M269.5 490.2l0.5 -8.6M293.5 483.1l0.9 -10.6M193.9 489.0l2.3 -10.5M215.8 443.4l0.4 -9.4M383.3 467.2l2.5 -7.7M298.4 485.2l1.4 -5.4M231.0 422.1l1.2 -10.0M354.6 435.3l2.3 -8.2M202.9 444.3l2.5 -4.3M332.8 437.5l2.2 -9.4M203.3 483.3l2.1 -8.2M317.7 409.4l2.4 -5.6M307.2 458.1l2.0 -10.4M188.5 405.6l1.4 -7.8M167.8 409.2l0.5 -7.6M363.7 431.4l1.8 -9.6M159.2 468.5l1.1 -4.9M226.8 429.2l2.4 -7.7M186.0 474.9l0.9 -7.9M360.3 415.6l2.5 -10.3M231.5 441.3l2.4 -4.1M181.8 440.2l1.7 -8.4M329.9 430.3l0.9 -8.1M223.0 451.5l0.5 -7.2M263.6 424.9l1.6 -7.7M253.8 476.9l1.8 -5.7M309.9 466.1l0.6 -6.3M378.5 436.2l0.2 -8.4M360.1 454.6l1.8 -4.8M279.2 419.6l0.5 -4.1M175.3 430.1l2.2 -6.5M333.8 437.8l0.6 -4.7M177.4 432.8l2.5 -10.4M343.7 418.1l1.7 -10.1M190.4 494.1l1.4 -6.2M293.9 419.4l1.8 -6.7M350.6 465.3l2.3 -4.7M200.6 426.6l1.8 -9.5M236.5 422.9l1.6 -10.3M154.0 479.0l0.2 -9.5M369.7 438.1l0.4 -5.2M200.0 409.3l1.0 -4.0M234.5 443.0l2.4 -9.3M231.1 464.1l0.3 -6.1M391.0 436.6l1.1 -6.8M157.6 400.3l2.0 -5.5M220.5 451.2l1.9 -9.6M341.3 488.2l2.2 -4.2M198.4 484.4l1.1 -9.5M242.9 466.3l0.7 -9.7M296.2 465.4l2.1 -4.9M242.9 453.9l2.0 -7.1M306.5 409.8l0.5 -7.0M258.0 405.6l1.3 -6.6M282.2 478.2l1.7 -5.7M331.9 441.4l0.6 -5.0M238.4 487.6l0.8 -8.3M290.2 485.4l1.1 -9.9M334.5 491.4l1.9 -9.2M363.7 445.4l2.5 -8.9M203.8 429.0l1.1 -6.2M304.1 471.5l0.7 -8.6M345.9 463.9l2.1 -10.8M182.5 479.0l1.8 -5.2M383.0 398.1l0.4 -8.5M338.2 436.2l1.0 -9.0M212.3 420.5l1.0 -10.8M186.3 480.9l1.6 -8.3M212.3 481.3l1.5 -7.2M242.0 440.5l1.3 -9.8M382.0 469.3l0.5 -8.7M271.0 422.0l1.0 -5.1M254.0 401.3l2.3 -6.2M251.2 448.5l0.5 -6.9M268.3 455.1l1.6 -6.8M202.9 411.1l1.5 -9.4M330.7 480.0l0.5 -10.9M243.9 468.4l2.5 -5.7M173.3 467.9l0.6 -8.1M359.8 430.3l0.2 -7.6M296.1 458.5l1.6 -8.0M220.8 406.3l2.5 -6.4M188.5 413.2l2.2 -9.4M337.0 430.9l1.0 -9.3M226.7 430.0l2.0 -5.3M229.1 400.2l2.3 -10.1M170.5 452.8l1.6 -5.6M179.3 459.0l1.5 -10.2M281.1 400.5l0.8 -8.6M211.5 472.6l1.9 -6.5M157.4 409.4l1.0 -9.1M266.3 449.8l1.1 -9.7M364.1 408.6l0.3 -6.1M260.4 416.3l0.7 -5.1M208.1 463.0l2.3 -5.7M325.8 422.7l0.6 -5.5M198.4 494.0l1.4 -7.4M303.8 461.7l1.2 -6.7M317.9 475.1l1.5 -7.0M247.0 480.3l2.0 -5.6M254.3 433.1l1.2 -8.4M216.2 483.7l1.3 -7.7M221.9 478.6l1.6 -7.9M203.0 474.7l1.7 -7.8M309.9 474.1l2.4 -6.0M327.7 479.3l0.9 -6.4M197.6 408.5l1.3 -9.4M331.9 465.3l2.5 -7.7M235.5 482.0l1.6 -8.6M352.1 495.4l0.3 -6.7M306.7 463.7l0.7 -10.5M333.2 424.0l0.5 -8.3M325.8 479.8l0.7 -11.0M378.4 482.7l2.5 -9.1M381.1 488.3l0.5 -8.5M284.7 463.8l2.3 -10.1M375.3 438.9l2.0 -8.5M182.6 481.7l1.4 -4.6M296.3 481.7l1.2 -5.1M349.8 432.2l1.1 -10.6M253.0 480.8l2.0 -8.9M305.8 452.7l2.3 -6.9M187.9 407.7l1.3 -9.5M298.9 483.8l1.1 -6.2M365.2 445.1l2.5 -7.5M337.3 463.6l0.6 -4.5M238.9 437.1l2.5 -6.5M242.9 474.0l1.4 -8.9M260.1 437.3l1.0 -6.6M187.3 414.9l1.5 -8.4M250.8 473.5l1.9 -6.4M309.1 476.8l1.4 -7.7M337.2 416.5l2.3 -7.8M351.1 424.8l0.5 -9.4M345.4 430.6l0.5 -10.9M381.7 481.7l1.3 -9.1M297.0 481.8l1.3 -10.4M287.6 459.1l1.3 -9.3M276.0 474.9l2.2 -8.7M168.1 485.6l0.6 -6.1M171.0 476.5l2.0 -6.7M364.2 459.1l1.0 -6.4M314.6 406.4l0.8 -6.4M330.7 496.0l0.3 -8.0M179.4 458.6l1.1 -5.8M189.5 480.1l1.7 -7.4M380.3 434.7l1.9 -7.8M276.5 412.8l1.8 -7.1M187.6 446.8l0.7 -8.0M203.4 494.2l0.7 -9.6M330.9 496.6l2.1 -10.3M223.1 424.6l2.4 -5.6M208.3 472.3l0.7 -5.5M255.8 416.6l1.3 -9.1M280.5 446.8l0.5 -10.7M250.7 443.7l1.0 -7.5M159.3 466.1l1.5 -6.1M318.3 401.7l1.7 -9.3M177.1 488.7l1.1 -7.2M219.8 482.5l1.9 -10.4M199.0 439.2l2.1 -5.8M286.1 423.4l0.9 -5.7M348.9 416.1l2.1 -4.0M200.3 447.6l1.3 -8.5M324.4 435.1l1.8 -10.4M245.6 447.2l2.2 -6.0" stroke="#18f0f8" stroke-width="1.9" fill="none"/><path d="M186.6 474.1l2.0 -10.2M303.6 471.1l1.4 -5.2M216.5 430.4l2.1 -5.7M203.4 405.7l0.4 -9.7M306.5 411.2l1.0 -8.0M382.4 428.9l2.2 -6.2M278.8 467.8l1.6 -6.1M361.9 436.4l1.8 -10.3M352.2 462.2l1.4 -9.2M285.9 459.3l1.4 -9.5M189.2 414.3l1.7 -10.6M322.9 441.1l2.4 -4.8M279.6 405.3l1.5 -4.5M243.7 486.7l0.3 -6.3M348.8 484.3l0.2 -8.0M362.7 411.9l1.9 -10.6M288.3 420.0l0.6 -9.6M203.5 488.6l2.4 -8.3M303.4 452.3l1.7 -10.0M246.7 463.4l1.0 -7.0M153.3 464.3l1.6 -7.2M197.8 415.3l1.8 -8.5M288.6 462.8l1.3 -6.6M367.6 441.1l0.8 -4.1M176.4 428.2l0.2 -9.0M237.2 467.0l1.1 -10.5M291.8 456.0l1.1 -4.1M151.5 486.0l2.4 -9.9M158.3 471.7l0.8 -8.4M301.0 482.6l1.3 -6.0M338.6 477.8l1.0 -5.8M218.2 449.3l0.5 -10.7M238.6 449.7l0.3 -9.7M335.0 431.7l0.6 -5.0M160.6 410.6l1.3 -7.7M308.8 485.6l1.1 -5.5M185.1 404.1l0.4 -9.1M205.4 432.3l0.9 -8.0M258.1 470.6l1.8 -6.1M242.4 455.4l1.0 -8.6M251.5 456.0l1.1 -5.2M331.8 453.4l2.2 -8.4M325.9 480.6l0.5 -4.5M211.6 434.7l0.7 -8.1M358.5 486.2l0.2 -5.2M363.9 424.9l2.2 -6.7M228.6 432.2l0.3 -10.9M357.2 419.8l0.9 -5.6M229.1 412.7l0.9 -7.5M182.9 492.3l2.5 -7.2M189.4 484.4l1.7 -5.1M288.9 418.9l0.4 -10.4M264.6 469.3l1.4 -4.1M194.0 431.2l1.3 -5.0M267.7 485.0l0.3 -9.4M360.0 487.5l0.2 -6.3M218.8 416.7l2.1 -10.5M273.7 405.2l0.3 -7.5M205.6 406.1l1.7 -10.1M159.2 497.1l0.6 -4.6M152.2 481.8l1.0 -10.3M261.1 404.2l2.5 -5.3M333.6 431.3l1.1 -8.9M165.4 490.3l1.7 -10.5M180.2 453.9l0.8 -5.9M241.4 450.9l0.9 -7.7M166.7 466.8l0.5 -10.6M215.5 454.5l1.4 -8.8M260.0 447.8l0.7 -6.6M242.4 447.9l0.8 -5.5M188.5 483.5l1.9 -7.9M365.8 430.5l1.7 -4.2M282.0 402.4l1.7 -5.5M376.5 408.7l1.7 -8.4M282.9 459.6l1.3 -5.3M369.3 407.5l1.5 -7.9M363.8 429.9l0.7 -4.4M272.3 466.3l1.0 -7.7M169.7 469.6l2.3 -7.8M350.2 448.8l0.3 -6.0M331.8 429.6l1.4 -5.3M224.4 453.4l0.6 -9.2M191.0 461.8l0.8 -5.5M261.6 462.8l0.4 -6.9M249.9 439.9l1.9 -5.7M297.0 493.2l1.5 -10.8M204.2 440.2l0.8 -4.0M311.0 403.7l1.5 -6.2M257.4 459.3l1.9 -5.1M258.2 469.2l2.4 -4.6M209.5 421.0l0.7 -10.5M289.2 416.4l1.1 -4.1M202.8 398.4l1.1 -6.6M310.5 487.0l1.9 -6.2M272.5 474.1l2.5 -9.4M164.6 487.4l2.3 -8.9M167.4 462.9l0.8 -4.4M389.0 446.1l2.2 -5.1M255.4 439.4l0.7 -10.6M215.8 497.6l1.0 -10.6M293.1 475.5l0.4 -6.4M161.6 401.4l0.6 -9.5M365.6 438.1l0.7 -9.7M314.0 484.8l2.2 -7.9M244.2 482.9l1.4 -8.7M341.0 439.0l1.3 -6.4M314.9 405.0l1.8 -10.8M330.2 420.9l1.6 -9.6M275.5 466.1l1.6 -8.6M326.9 443.9l2.2 -7.6M375.3 470.5l0.8 -5.1M186.9 482.5l2.0 -9.7M360.5 437.3l1.4 -10.8M278.2 451.5l2.4 -10.6M154.0 400.0l2.3 -9.1M169.1 480.7l2.4 -4.4M348.6 419.6l0.7 -10.5M212.3 468.3l1.6 -10.4M348.1 430.2l2.2 -6.2M305.5 477.9l1.8 -7.3M295.8 459.0l0.5 -5.3M271.1 469.0l2.5 -8.8M361.1 417.2l1.5 -6.0M258.4 438.7l0.5 -4.4M257.3 441.9l2.4 -10.4M215.2 435.0l0.3 -4.9M354.1 444.7l2.4 -9.1M383.9 441.3l2.5 -5.8M247.3 495.3l1.1 -7.7M155.0 406.0l1.0 -6.3M372.0 492.2l1.8 -7.7M290.6 418.2l2.2 -4.3M390.5 459.4l1.8 -6.7M390.5 434.3l1.8 -10.1M379.8 450.4l1.4 -4.7M383.0 453.4l1.5 -6.5M326.2 427.0l1.0 -5.9M298.1 463.7l1.9 -6.9M227.5 429.9l1.6 -4.9M239.8 486.9l1.6 -5.4M163.7 412.8l1.1 -9.5M253.6 411.4l0.4 -4.2M311.9 487.3l0.7 -6.5M375.0 439.6l0.7 -10.0M198.9 495.7l2.3 -10.2M301.8 475.6l1.9 -5.7M234.5 403.5l0.7 -8.7M225.6 439.0l1.2 -4.4M378.9 432.8l1.1 -8.9M328.5 485.1l0.9 -7.6M368.9 486.5l2.5 -5.0M189.4 429.5l2.0 -5.0M367.8 398.7l0.8 -8.0M284.7 407.0l1.2 -10.7M344.3 429.0l1.6 -8.1M300.2 479.3l1.7 -6.6M166.7 471.7l0.7 -10.3M300.3 467.6l2.0 -8.0M381.9 426.3l1.5 -5.8M369.3 406.0l0.8 -4.2M192.0 467.2l1.4 -9.5M297.1 481.4l0.4 -8.8M205.2 406.4l1.4 -9.2M253.8 450.5l2.0 -8.6M308.1 484.9l1.5 -8.8M357.1 432.1l1.3 -9.7M190.3 485.1l0.6 -10.8M223.4 447.3l1.5 -10.0M238.4 401.2l1.5 -10.3M319.8 431.5l2.0 -6.8M239.7 442.5l0.4 -6.9M334.4 424.0l0.4 -5.5M171.8 475.1l0.8 -6.9M191.4 475.0l1.3 -4.6M340.3 496.5l0.2 -6.5M231.5 461.7l0.5 -10.8M365.4 412.6l0.7 -10.8M203.5 403.9l0.6 -7.0M283.0 408.7l1.3 -4.5M330.2 472.4l1.6 -8.8M249.7 451.0l2.4 -6.2M233.1 487.5l1.8 -5.0M259.9 478.9l2.3 -10.6M267.1 484.0l1.0 -4.9M280.8 464.8l1.1 -8.7M336.2 427.2l2.3 -6.6M383.3 455.2l0.3 -7.2M264.0 403.4l1.5 -7.1M333.5 417.5l1.2 -6.3M157.6 474.5l0.5 -4.1M183.4 469.6l2.3 -7.7M262.6 463.5l1.5 -10.2M322.4 486.9l1.5 -8.2M330.6 404.5l0.5 -7.1M369.5 480.9l0.5 -8.1M241.8 406.5l0.8 -10.4M354.8 465.1l2.1 -4.2M163.4 462.8l1.0 -8.6M287.7 425.4l2.5 -8.1M359.8 419.8l0.3 -5.6M276.9 478.7l1.7 -6.5M299.7 478.5l1.3 -10.2M218.5 450.9l1.2 -9.2M283.0 400.9l2.0 -10.1M217.4 497.3l2.2 -7.6M221.8 437.9l1.9 -7.8M364.0 488.0l2.0 -7.1M152.2 416.3l2.4 -4.7M219.2 486.4l1.0 -11.0M311.4 406.0l1.5 -8.3M210.2 474.3l0.3 -9.6M160.5 399.5l0.6 -6.8M279.1 457.7l2.3 -7.7M259.1 402.0l0.7 -4.6M355.2 427.9l1.3 -9.8" stroke="#18a8ff" stroke-width="1.9" fill="none"/><path d="M349.8 464.3l1.6 -4.6M154.3 418.1l0.3 -8.0M193.6 490.2l2.0 -7.9M154.3 476.1l2.3 -10.2M223.4 424.1l0.7 -4.7M341.6 446.0l2.0 -7.5M323.6 432.9l2.4 -5.1M322.3 491.0l0.6 -5.2M328.0 439.4l0.9 -10.5M286.8 429.6l0.4 -6.5M363.1 458.6l1.3 -4.8M195.3 448.7l0.7 -9.9M332.0 406.0l0.3 -4.2M172.2 484.6l1.6 -8.5M184.4 404.9l1.1 -4.5M273.3 460.8l2.3 -9.7M196.6 405.6l1.5 -10.3M154.7 409.4l2.4 -10.5M246.0 450.3l2.0 -6.1M197.8 410.0l1.4 -7.5M381.4 458.4l1.3 -6.0M160.1 476.4l1.4 -7.3M373.1 407.0l1.2 -10.5M386.4 401.8l0.5 -4.4M302.5 409.2l0.6 -5.1M186.8 433.1l0.3 -9.2M371.4 454.1l0.6 -5.0M283.9 418.6l0.5 -7.6M310.7 416.5l0.8 -7.7M220.3 438.2l2.1 -9.0M201.5 443.2l0.9 -6.5M327.5 418.7l2.0 -5.6M331.0 491.9l0.9 -10.1M177.6 427.0l0.7 -7.8M295.7 453.9l2.0 -5.9M354.1 434.6l1.7 -10.9M340.2 443.6l2.4 -5.4M330.3 485.6l0.7 -6.5M354.0 445.0l0.9 -4.9M256.9 430.5l1.0 -8.2M334.6 425.6l1.4 -5.1M282.5 410.8l0.2 -9.7M228.9 490.8l0.4 -6.6M362.1 485.4l0.2 -7.0M170.1 484.5l1.9 -8.0M279.7 412.9l0.8 -10.9M294.8 496.6l2.0 -9.8M321.6 472.6l2.2 -10.7M376.8 440.1l0.8 -10.6M374.2 451.3l1.4 -5.9M375.5 418.2l2.4 -10.3M381.4 437.6l1.8 -5.6M159.9 457.3l0.7 -9.9M231.7 421.5l1.5 -8.2M277.8 404.8l0.8 -9.6M186.8 445.8l0.2 -9.6M290.6 467.1l0.5 -6.4M273.3 466.8l1.4 -10.2M178.9 423.9l1.0 -6.2M171.0 460.2l2.1 -6.1M334.8 417.9l0.7 -6.0M323.9 466.4l0.3 -5.4M232.9 418.9l0.7 -5.0M337.9 412.9l1.4 -4.6M311.8 492.9l1.3 -4.3M273.0 451.8l1.7 -9.9M280.5 454.8l1.0 -9.0M156.3 409.2l0.5 -6.2M222.6 495.5l0.9 -6.2M237.1 435.4l0.5 -9.8M342.2 431.9l0.6 -9.6M332.6 414.0l0.9 -7.0M317.1 414.0l0.3 -6.9M354.8 492.4l2.3 -6.0M301.3 447.0l1.4 -9.5M285.0 492.4l1.1 -10.5M365.9 470.3l2.4 -8.0M284.3 457.6l1.0 -4.8M315.4 406.5l0.2 -6.3M229.4 450.4l0.4 -9.9M295.2 403.4l0.9 -4.1M175.7 420.3l1.0 -6.0M279.1 433.2l1.3 -7.5M353.3 432.9l0.9 -4.6M246.9 446.3l0.4 -5.0M383.3 440.8l0.7 -6.8M218.8 489.2l0.9 -5.8M206.3 408.0l0.6 -7.9M311.1 436.6l0.9 -10.0M238.0 497.7l2.0 -10.0M183.3 478.6l1.0 -8.0M235.7 413.9l1.7 -6.3M271.1 464.3l0.6 -6.0M327.0 421.3l0.9 -8.2M333.0 497.8l1.0 -8.3M323.5 482.7l0.7 -6.7M183.9 415.3l2.0 -5.5M186.9 485.9l0.6 -5.8M304.1 470.2l1.8 -7.7M375.9 491.1l1.6 -7.4M201.4 423.7l0.7 -6.2M215.9 430.1l0.6 -5.9M342.6 491.3l0.4 -5.9M384.6 462.9l1.6 -8.7M211.1 483.8l0.8 -9.7M220.0 466.6l0.2 -4.6M339.7 426.2l0.5 -7.5M343.5 422.5l1.5 -6.5M317.0 494.2l0.4 -6.3M320.3 439.9l0.5 -6.3M168.6 484.0l2.0 -6.9M202.7 486.6l1.0 -4.9M172.8 413.0l0.5 -5.4M353.5 482.4l0.5 -6.0M355.2 496.8l2.0 -5.2M197.0 438.1l1.5 -8.2M276.6 407.8l0.6 -7.5M159.9 434.3l0.3 -9.0M281.0 497.5l0.2 -5.0M368.3 427.7l1.0 -9.9M254.7 444.8l0.8 -10.2M295.2 493.2l0.8 -10.3M185.3 423.5l1.9 -8.1M390.2 458.6l0.7 -10.9M380.8 445.6l0.3 -8.5M264.2 479.6l1.1 -5.2M224.8 432.1l2.0 -4.1M267.0 458.4l0.4 -9.1M165.6 416.2l2.3 -6.6M164.7 423.0l1.0 -5.6M263.8 412.6l1.1 -7.9M336.8 421.0l2.1 -4.3M279.0 425.8l0.8 -7.8M319.5 436.0l0.5 -9.5M221.6 411.5l2.2 -4.6M267.5 406.7l1.8 -5.0M156.4 486.0l2.4 -10.8M258.3 497.0l0.5 -9.1M329.5 477.5l0.3 -10.4M355.3 416.0l1.5 -4.7M317.5 401.8l0.8 -4.9M379.0 457.9l0.3 -9.0M172.0 497.6l2.4 -6.2M195.4 409.6l1.0 -10.2M167.5 455.1l0.2 -5.1M236.5 449.2l1.2 -8.7M378.2 485.9l1.0 -7.9M266.5 475.0l0.5 -6.4M297.2 488.7l1.4 -6.6M361.8 477.5l1.9 -5.8M384.8 450.8l1.4 -8.3M237.4 493.0l0.4 -7.2M343.8 419.2l1.6 -7.4M254.9 460.4l2.5 -7.9M171.6 411.2l1.2 -7.0M335.2 434.4l2.4 -10.7M388.7 451.8l2.3 -5.5M253.6 421.1l2.2 -8.5M307.1 482.7l0.6 -11.0M293.0 488.2l2.1 -10.8M210.3 478.2l1.9 -6.0M204.2 432.1l2.5 -8.5M282.3 474.6l0.7 -4.0M323.9 493.8l1.2 -5.2M338.5 417.7l0.5 -5.2M342.2 428.6l2.4 -10.4M390.7 456.7l1.2 -5.9M374.4 405.5l0.9 -9.2M388.8 458.0l0.4 -10.0M200.8 435.5l2.0 -4.6M231.3 476.1l2.3 -4.2M204.1 492.2l1.9 -8.3M191.3 417.5l2.1 -6.8M346.9 473.6l0.9 -4.8M349.3 436.9l1.3 -6.1M375.1 441.0l1.9 -4.7M322.9 435.6l2.3 -9.6M330.9 403.8l0.7 -5.4M281.6 401.7l1.3 -5.4M161.3 479.4l1.4 -10.9M244.3 437.2l0.4 -4.8M364.3 490.4l0.6 -6.1M379.3 420.9l1.0 -7.7M372.6 409.7l1.7 -5.6M188.6 477.0l1.6 -5.8M323.8 486.4l1.6 -7.4M274.6 406.5l0.3 -5.8M328.9 450.0l1.0 -8.5M203.2 448.6l1.9 -5.7M160.7 414.6l1.5 -6.5M312.2 447.3l0.9 -9.6M190.9 477.4l1.7 -4.6M187.6 497.3l0.9 -5.0M256.0 457.5l2.5 -10.8M176.7 418.5l2.2 -5.1M248.3 466.8l0.7 -6.2M333.9 434.1l0.4 -7.9M206.9 490.1l0.3 -8.5M385.0 472.9l0.3 -9.7M310.5 453.3l1.0 -6.5M301.2 399.5l1.6 -8.5M389.8 460.4l0.2 -8.2M184.3 497.6l2.3 -10.4M365.8 443.2l1.6 -10.2M318.9 485.5l0.7 -8.0M378.7 497.0l1.3 -8.6M277.2 493.4l1.4 -8.9M334.8 454.5l1.3 -6.7M362.9 428.0l2.0 -7.4M197.2 493.1l2.1 -6.6M303.4 485.1l1.4 -9.8M277.3 406.3l2.0 -8.8M380.4 482.2l2.3 -4.3M241.9 407.1l1.8 -4.7M274.8 470.3l0.5 -8.6M337.6 419.4l1.3 -10.3M334.2 420.1l0.4 -6.4M281.2 459.4l1.8 -5.2M387.1 458.6l1.2 -4.4M340.4 420.2l1.6 -9.8M169.0 430.5l1.2 -9.2M245.5 482.5l2.0 -9.8M181.3 414.8l1.3 -5.8M175.7 409.9l0.4 -8.2M175.5 418.2l1.8 -6.8M257.8 429.4l1.9 -11.0M261.2 497.1l0.8 -5.5M374.6 436.3l2.1 -10.2M253.6 478.4l0.3 -10.1" stroke="#2838ff" stroke-width="1.9" fill="none"/><path d="M227.4 459.0l0.7 -10.7M228.3 425.4l0.9 -9.6M230.6 443.0l1.9 -5.7M365.5 406.4l0.7 -8.0M388.3 471.5l1.7 -9.3M367.2 399.7l2.0 -9.4M243.3 496.4l1.5 -10.5M232.5 452.4l2.1 -6.5M201.4 488.6l1.3 -5.3M151.1 478.2l1.4 -9.5M281.5 399.5l1.2 -4.4M263.6 493.6l2.4 -5.1M380.9 434.8l1.4 -7.6M353.7 429.6l2.2 -9.7M182.4 428.4l1.5 -8.9M181.0 430.4l0.9 -9.8M200.7 496.3l2.2 -7.3M318.2 427.2l0.5 -8.8M330.6 465.0l0.5 -6.6M374.9 399.8l1.5 -8.7M342.6 405.5l2.0 -6.9M286.1 458.8l1.6 -4.0M197.9 460.4l1.3 -7.6M235.6 416.8l2.2 -7.3M344.0 483.4l1.4 -4.4M298.3 486.6l0.7 -9.3M180.9 401.7l0.4 -8.1M225.9 448.5l1.2 -4.9M168.9 478.8l1.7 -7.9M258.9 411.4l0.5 -10.2M179.8 431.0l0.5 -4.6M151.8 425.6l0.7 -9.8M187.5 470.6l1.3 -4.3M196.6 445.7l0.5 -11.0M371.5 409.6l0.9 -9.8M221.5 456.7l2.1 -5.6M226.4 448.5l2.5 -10.6M337.1 409.8l1.8 -4.7M368.2 402.6l1.7 -4.8M278.0 482.0l1.6 -4.7M188.9 432.3l2.3 -8.8M223.5 474.3l0.9 -7.7M290.2 458.3l0.8 -6.8M243.8 488.3l1.7 -6.6M366.6 449.0l1.4 -7.9M329.2 466.2l1.2 -6.5M171.1 426.7l1.1 -7.7M347.0 463.2l1.5 -7.5M227.6 463.3l1.0 -4.2M378.9 427.5l2.3 -6.2M320.1 477.4l0.4 -5.2M205.3 460.9l0.2 -7.4M334.6 495.6l1.6 -6.9M340.5 435.7l1.3 -7.6M355.9 420.6l0.9 -8.7M324.7 399.3l1.2 -8.9M378.6 403.1l0.6 -7.2M371.2 482.4l1.8 -9.5M324.0 402.5l2.1 -5.0M220.3 451.9l0.6 -7.4M303.1 438.6l2.2 -7.3M319.1 421.7l1.7 -9.7M186.1 446.0l0.4 -6.5M381.0 439.3l0.7 -9.6M233.2 457.0l0.3 -10.3M326.3 456.9l0.4 -9.1M211.4 454.3l2.4 -7.1M234.5 439.5l2.0 -4.1M383.7 480.8l0.5 -6.1M213.5 479.2l1.8 -7.3M223.2 410.1l0.8 -7.4M352.6 426.6l1.4 -5.9M336.6 494.4l2.5 -10.2M242.9 482.3l1.5 -8.4M256.9 459.5l0.4 -10.2M254.4 441.6l0.5 -6.3M388.8 458.3l2.2 -5.3M182.5 447.1l0.5 -4.9M323.9 433.1l2.0 -4.6M184.5 495.1l1.8 -5.8M159.2 405.8l1.8 -8.0M232.8 420.2l2.2 -4.2M351.2 484.0l0.2 -4.6M273.3 442.4l0.5 -7.0M262.8 488.3l2.0 -8.0M171.5 407.4l2.1 -9.5M347.6 417.8l2.5 -6.9M331.4 437.6l1.4 -5.0M342.2 400.6l1.7 -5.9M306.7 462.6l1.6 -6.2" stroke="#8a18ff" stroke-width="1.9" fill="none"/><path d="M237.0 464.3l0.2 -4.6M182.7 480.8l2.3 -10.6M340.6 423.2l0.7 -9.9M366.0 402.4l1.4 -6.0M364.4 485.6l1.6 -4.7M385.9 478.2l1.8 -6.5M230.1 454.8l2.0 -5.5M344.6 494.1l2.5 -6.3M207.8 432.3l0.6 -4.6M191.3 484.5l0.4 -5.5M215.6 495.5l0.3 -9.3M340.1 421.3l2.4 -7.0M230.4 452.3l1.9 -6.4M184.1 458.5l2.1 -10.9M165.9 413.2l1.2 -9.6M262.0 431.9l1.8 -8.9M210.0 423.5l2.5 -7.3M372.5 478.4l1.9 -10.9M280.5 431.6l1.0 -9.7M161.6 485.0l1.2 -7.8M166.4 472.1l1.3 -5.4M254.6 469.7l0.4 -7.0M279.0 483.5l0.4 -7.1M389.5 460.0l0.5 -8.6M239.4 425.0l1.8 -7.4M188.2 426.1l2.2 -10.5M290.2 455.3l0.4 -5.6M272.6 476.7l1.9 -5.4M312.7 407.6l1.2 -10.8M281.4 463.6l0.3 -6.1M165.5 467.4l1.9 -8.1M261.8 474.0l0.5 -6.2M163.4 440.3l1.8 -9.9M377.4 479.0l0.2 -5.6M369.9 438.1l1.2 -4.9M199.1 435.2l1.8 -8.6M195.5 470.7l1.7 -4.4M170.6 409.5l1.0 -10.5M382.4 398.7l1.8 -10.3M204.0 441.9l0.9 -10.9M199.2 432.6l0.4 -10.9M326.7 405.4l1.9 -10.9M184.6 498.0l2.3 -8.0M189.7 485.5l2.2 -8.0M359.4 462.5l0.4 -9.7M308.5 405.4l2.3 -4.5M300.5 456.4l0.9 -10.5M228.4 464.4l2.5 -5.3M384.1 424.7l2.4 -9.3M210.4 405.4l1.9 -9.9M203.5 429.2l2.2 -9.2M251.8 496.7l1.4 -6.8M231.4 490.9l0.7 -4.1M386.8 448.3l1.1 -9.1M353.2 420.1l0.8 -4.7M366.4 445.9l0.7 -8.1M342.3 419.4l1.1 -6.5M276.9 455.9l1.7 -5.3M355.2 497.8l0.3 -8.0M182.8 457.6l1.7 -6.6M187.2 408.4l1.4 -10.2M256.6 442.1l2.0 -9.8M312.5 441.5l0.3 -7.5M292.0 483.1l1.6 -8.4M344.3 455.0l0.2 -6.1M300.7 412.5l0.8 -5.1M241.4 491.1l0.9 -6.4M212.0 470.3l1.2 -6.0M285.8 454.8l1.2 -10.9M276.4 412.8l2.0 -10.8M211.9 439.4l2.1 -7.9M279.9 461.4l0.7 -10.0M377.7 470.7l1.0 -6.5M253.9 450.5l1.7 -5.2M312.8 442.5l1.8 -9.7M189.4 467.4l1.4 -9.8M369.9 440.5l2.0 -7.8M267.4 431.6l0.8 -4.8M342.4 441.2l1.4 -8.7M262.2 399.3l1.0 -7.5M328.9 484.6l2.1 -7.5M186.7 420.8l0.8 -7.1M169.4 456.3l0.8 -8.5M335.6 456.3l0.5 -5.8M262.4 450.5l1.5 -7.9M304.1 429.7l1.3 -4.7M158.2 483.8l1.3 -10.2M238.2 416.8l0.7 -9.9M195.8 434.5l1.8 -9.6M328.1 417.1l0.7 -8.8M151.3 401.3l2.2 -6.2M171.0 464.7l0.7 -5.8M192.9 467.3l1.8 -4.5M158.9 398.4l1.6 -7.8M305.8 433.5l0.9 -6.4M249.3 399.1l1.6 -10.5M360.4 451.9l0.4 -10.2M225.4 433.2l1.4 -6.3M158.5 398.1l1.4 -4.8M150.4 459.2l0.2 -7.9M381.9 402.0l0.5 -7.0M316.1 483.6l1.1 -5.2M332.5 477.6l0.9 -9.1M164.4 429.1l1.4 -5.0M385.9 416.3l1.1 -4.6M274.1 468.3l2.2 -5.6M166.7 483.2l1.5 -9.8M316.9 410.6l0.2 -9.8M324.2 467.5l2.3 -4.6M244.6 428.5l1.9 -8.0M236.4 442.6l2.3 -9.7M230.5 430.6l0.8 -5.5M238.7 464.8l2.1 -7.1M220.2 466.6l0.7 -7.2M357.9 453.4l1.3 -7.5M167.0 474.3l2.1 -9.1M264.6 400.7l2.3 -9.9M339.3 493.5l1.7 -10.1M275.2 464.6l0.4 -9.4M316.4 466.7l2.1 -10.0M234.1 423.2l2.0 -8.6M167.3 452.8l2.2 -8.5M168.1 468.1l1.7 -6.2M345.7 419.9l1.5 -4.2M212.6 415.5l1.8 -7.5M309.4 443.0l0.2 -5.2M337.3 488.4l2.3 -10.4M269.5 471.8l0.6 -7.6M292.6 455.6l2.4 -9.9M233.1 452.7l0.5 -6.0M303.3 470.5l0.5 -8.2M202.3 435.4l2.3 -8.7M380.5 459.9l0.4 -9.7M284.3 460.2l0.4 -4.8M269.5 492.5l1.1 -10.3M169.7 400.0l0.6 -8.4M187.3 448.0l1.0 -8.1M384.1 420.8l1.1 -9.6M340.7 496.7l0.5 -7.7M258.0 441.3l1.3 -4.9M153.9 432.8l0.9 -6.3M256.3 486.8l2.0 -7.7M265.5 405.4l0.2 -6.6M178.4 426.3l0.6 -6.2M319.6 446.0l0.4 -5.4M360.0 465.5l0.4 -5.3M307.2 453.8l1.5 -10.4M262.0 455.2l1.9 -8.7M157.3 398.4l1.6 -7.3M260.2 476.1l0.5 -7.5M220.2 479.5l1.3 -4.9M387.8 433.5l1.8 -7.0" stroke="#18f8a0" stroke-width="1.9" fill="none"/><path d="M338.1 423.9l1.9 -8.2M313.0 413.2l0.6 -8.6M317.2 439.8l2.5 -8.1M251.7 403.1l2.2 -6.1M318.4 402.2l0.9 -9.9M344.1 457.0l2.1 -7.0M362.5 445.5l0.9 -6.9M230.5 413.1l1.0 -5.2M308.4 447.3l0.2 -8.8M273.2 458.8l0.9 -10.3M251.9 400.9l2.0 -9.0M336.1 488.4l0.7 -4.1M315.9 489.4l1.5 -9.3M337.9 461.1l0.7 -8.5M245.5 467.7l2.5 -5.2M300.6 480.5l1.2 -7.3M342.4 416.3l1.5 -10.4M179.5 495.1l0.4 -10.3M363.3 458.1l1.1 -6.4M253.3 455.2l1.9 -9.7M323.1 478.1l0.9 -4.8M178.3 478.8l0.7 -4.6M172.8 425.6l1.3 -8.4M317.3 413.3l1.9 -7.9M365.7 438.8l1.5 -8.6M192.8 406.9l1.4 -10.2M311.4 407.0l0.7 -7.1M327.0 478.0l0.5 -8.2M315.6 482.9l0.8 -8.0M301.3 478.6l0.8 -7.2M205.3 402.7l0.4 -5.3M258.6 457.2l0.8 -6.6M342.8 445.0l0.7 -6.7M271.1 482.3l0.9 -7.1M346.5 432.0l1.4 -6.2M324.8 491.3l0.7 -10.1M391.7 451.5l0.8 -10.7M150.7 407.2l0.5 -9.0M391.8 437.2l1.2 -10.6M275.6 467.4l1.5 -10.8M309.2 417.6l2.1 -8.0M223.0 494.9l1.9 -7.1M391.0 457.9l0.7 -4.8M192.4 497.2l0.4 -6.6M344.2 421.2l0.3 -8.4M283.7 418.0l1.9 -4.2M285.7 441.6l1.1 -5.2M250.4 480.9l0.2 -7.5M355.5 490.0l1.0 -4.9M360.9 461.1l1.6 -8.8M217.2 449.6l0.2 -5.5M301.3 451.4l1.2 -4.5M196.6 415.5l1.9 -6.5M251.7 452.2l2.5 -10.9M150.9 401.6l2.2 -10.7M151.4 467.5l0.4 -9.2M341.3 453.9l0.9 -8.5M365.8 454.3l1.0 -7.7M307.3 473.7l2.2 -7.4M327.6 440.8l1.2 -5.3M368.5 429.4l1.5 -10.7M377.7 400.4l0.9 -6.8M317.6 497.9l1.3 -6.3M263.0 469.5l2.3 -5.1M280.6 462.8l1.6 -6.3M350.6 463.6l1.9 -7.7M334.4 421.4l2.2 -8.6M348.0 489.5l0.3 -5.6M194.3 430.7l1.4 -6.2M157.6 455.1l1.9 -10.5M275.1 410.6l0.9 -7.3M198.9 479.2l1.5 -10.5M258.1 399.2l1.5 -6.8M233.0 422.3l2.2 -9.5M288.2 410.3l1.2 -9.8M365.1 439.2l1.2 -5.4M389.4 483.9l2.2 -6.9M355.1 463.7l0.9 -10.4M345.4 421.4l0.2 -7.5M180.1 497.5l1.2 -10.4M384.5 432.9l2.2 -6.1M274.3 446.8l2.1 -9.4M204.2 402.8l2.3 -4.2M319.2 483.9l1.0 -10.8M172.2 456.5l1.6 -7.2M336.2 413.3l1.7 -5.4M353.6 497.0l2.3 -4.6M319.6 424.7l1.8 -7.7M222.3 457.8l1.4 -5.8M193.2 473.2l2.3 -8.9M267.4 440.3l1.6 -8.4M313.5 399.5l0.8 -5.4M380.2 447.9l0.3 -7.5M210.6 497.7l1.3 -9.0M352.1 491.6l1.0 -4.8M172.2 425.1l1.7 -7.5M207.5 403.8l1.7 -6.9M237.3 416.3l2.2 -8.2M300.3 477.1l2.1 -6.6M258.6 440.7l1.9 -4.6M259.3 435.6l1.7 -9.1M299.7 463.5l0.9 -8.2M181.4 427.5l0.3 -4.0M205.7 431.7l0.8 -4.8M185.2 413.4l1.7 -10.8M374.4 432.1l0.5 -5.0M254.0 445.5l2.1 -8.3M273.0 434.8l1.9 -7.5M325.3 490.7l0.3 -8.6M230.7 430.4l1.7 -4.5M359.3 464.4l2.0 -10.2M243.4 483.4l0.3 -5.0M310.2 481.3l1.8 -7.4M290.4 434.2l2.4 -5.1M178.2 427.8l0.5 -9.3M275.8 410.7l0.4 -6.2M250.9 454.9l1.3 -7.0M371.3 421.1l0.7 -5.4M337.1 494.7l1.8 -6.2M160.9 461.5l1.9 -4.3M314.6 481.6l0.7 -7.0M290.9 456.7l1.6 -10.8M283.0 398.3l0.3 -4.2M257.8 446.7l2.3 -10.2M304.0 446.5l1.0 -8.2M308.8 478.7l0.5 -9.7M321.5 407.0l0.8 -4.6M387.0 478.7l2.5 -6.5M235.7 497.8l1.4 -6.1M193.1 478.4l1.7 -10.9M179.9 479.5l1.7 -8.9M339.3 416.6l0.3 -7.5M302.3 450.3l0.6 -4.4M362.1 416.9l0.6 -6.6M373.9 405.8l1.4 -6.5M268.3 452.4l0.2 -7.0M361.9 440.4l1.9 -8.7M167.4 459.2l2.0 -6.7M370.2 453.0l0.7 -7.3M301.4 428.4l0.4 -9.4M173.1 448.8l1.0 -4.5M191.2 490.2l1.8 -10.3M160.3 410.9l1.6 -7.3M290.5 458.4l1.7 -4.5M165.4 463.5l1.9 -10.7" stroke="#50f840" stroke-width="1.9" fill="none"/><path d="M294.0 455.5l1.9 -8.9M237.5 490.4l0.3 -5.5M354.7 415.7l1.4 -9.8M214.6 444.8l2.0 -5.1M303.9 465.5l1.3 -5.9M359.5 494.1l0.9 -7.6M348.3 484.7l1.4 -10.8M305.6 426.4l1.0 -10.4M178.4 487.0l2.1 -6.5M377.0 489.9l1.4 -5.5M258.4 414.7l2.2 -5.9M357.6 409.1l2.4 -4.4M370.8 407.8l1.7 -6.4M317.1 494.0l1.4 -6.0M357.0 441.7l1.1 -9.5M386.3 471.5l0.5 -6.5M175.1 438.5l2.4 -9.8M156.5 485.0l2.5 -6.1M367.5 428.0l1.7 -4.3M213.3 492.9l0.8 -6.8M319.6 416.9l2.3 -9.7M178.5 404.6l2.1 -4.9M266.8 473.9l1.7 -10.0M333.0 441.3l2.1 -5.0M286.0 497.6l1.9 -7.7M279.2 430.4l1.7 -9.7M372.5 452.5l1.0 -10.5M387.9 436.9l0.3 -10.5M336.9 494.7l2.3 -7.3M294.2 420.4l1.9 -7.7M328.7 449.4l1.1 -4.4" stroke="#f8f818" stroke-width="1.9" fill="none"/><path d="M341.1 400.6l0.2 -8.6M268.3 456.4l2.0 -6.6M313.3 427.5l2.1 -5.5M379.9 461.9l2.4 -7.5M173.7 485.8l1.2 -10.6M190.7 465.0l1.7 -7.0M301.0 410.1l0.9 -5.1M303.3 454.1l1.0 -7.3M249.7 458.5l0.5 -9.7M236.2 490.6l0.5 -4.6M237.1 487.9l0.3 -5.0M294.2 495.4l1.0 -9.6M332.5 436.9l1.8 -6.3M238.9 466.0l1.4 -5.2M314.3 482.0l1.1 -8.9M304.4 415.0l0.6 -8.6M369.1 403.7l2.4 -8.2M235.0 493.5l0.8 -10.3M205.7 398.2l1.6 -6.0M171.6 410.2l0.4 -6.9M381.5 406.0l2.2 -9.5M303.6 492.8l0.7 -5.3M316.8 436.7l0.4 -9.7M281.0 427.9l1.3 -6.6M256.5 435.4l0.9 -8.4M194.4 406.1l1.7 -8.5M172.6 416.2l0.4 -4.9M348.4 453.7l0.2 -9.2M336.5 487.4l2.4 -8.7M158.3 488.5l1.0 -9.9M283.3 399.3l1.8 -4.0M159.8 458.8l1.6 -9.6M192.3 401.7l1.1 -5.5M255.4 459.7l0.9 -7.5M318.8 406.5l0.9 -10.0M224.5 440.4l0.4 -7.1M172.5 466.1l0.9 -6.3M315.4 421.1l1.5 -6.9M272.4 495.4l0.9 -6.3" stroke="#ff2818" stroke-width="1.9" fill="none"/><path d="M387.5 477.1l2.3 -7.3M353.2 493.7l2.4 -4.5M282.8 419.5l1.7 -10.6M222.4 494.1l2.4 -7.7M368.8 440.7l0.9 -6.1M317.8 425.2l1.3 -10.2M310.5 485.2l0.6 -10.4M167.3 420.2l1.5 -9.2M259.5 438.9l1.7 -10.2M209.0 463.8l2.0 -8.1M265.0 465.8l1.7 -9.0M322.4 475.0l1.2 -6.6M335.1 440.6l0.5 -6.4M363.7 497.2l1.1 -7.0M250.2 464.9l1.9 -8.0M357.6 446.9l2.3 -5.9M315.0 472.5l1.3 -5.6M302.3 454.3l1.8 -10.6M374.2 479.1l0.7 -9.1M222.6 494.7l1.2 -6.7M371.6 428.3l1.8 -8.1M347.3 453.3l0.4 -8.2M277.0 412.4l2.5 -7.9M262.9 442.1l2.0 -8.4M296.6 430.5l2.4 -8.1M170.7 432.9l1.4 -7.4M283.8 401.1l1.4 -6.6M183.6 465.3l2.1 -8.5M257.6 428.8l1.0 -8.2M213.8 454.1l1.5 -6.5M362.2 423.7l0.2 -9.7M168.9 497.8l1.3 -9.6M354.6 403.8l0.2 -8.7M178.0 442.4l1.5 -4.8M304.0 489.2l1.6 -8.5M187.8 476.0l0.5 -10.1M180.1 488.5l0.6 -7.8M211.1 419.0l1.8 -4.9M280.7 417.5l2.4 -6.8M168.7 449.0l0.5 -9.6M172.2 493.0l1.6 -10.6M193.3 454.8l0.8 -10.8M262.1 468.8l0.4 -8.8M366.1 455.1l0.9 -9.3M290.4 466.5l2.3 -7.8M325.2 411.4l1.7 -4.3M303.4 482.3l1.5 -7.4M330.1 424.3l1.6 -5.8M278.3 432.6l1.1 -7.9M238.7 493.3l1.0 -8.0M269.2 447.0l2.0 -6.7M249.0 445.0l2.1 -5.7M188.5 400.6l1.9 -7.1M236.5 451.7l0.7 -10.6M295.9 409.0l1.2 -10.5M191.2 401.8l0.2 -7.5M289.6 494.6l1.9 -6.8M344.6 487.7l0.7 -6.5M315.9 485.3l2.3 -8.8M240.1 431.9l1.2 -4.3M181.5 403.1l2.3 -8.2M279.7 486.8l0.4 -7.7M203.0 474.4l1.8 -9.4M306.5 444.7l0.9 -10.1M172.2 459.5l2.0 -10.2M314.7 488.9l0.8 -5.9M243.5 471.1l0.3 -8.1M170.6 407.2l1.2 -8.7M207.1 398.4l1.8 -8.9M309.8 465.8l1.0 -4.4M206.6 446.1l0.6 -7.8M258.4 429.1l0.7 -10.5M342.1 442.6l0.9 -7.1M217.6 471.3l0.6 -6.2M325.0 423.1l1.3 -9.3M280.8 425.0l0.7 -5.3M307.6 478.9l2.1 -7.8M378.6 398.8l2.0 -8.0M332.3 494.3l2.0 -10.9M308.4 448.8l1.0 -6.2M196.5 420.3l2.2 -7.4M176.3 399.0l2.0 -9.7M306.2 461.2l2.1 -9.5M279.7 470.9l2.3 -7.7M385.5 431.6l1.5 -7.1M234.7 443.5l1.8 -8.0M270.7 490.5l0.5 -10.2M239.0 421.7l0.7 -5.5M165.3 422.2l1.6 -5.1M182.4 449.6l0.6 -7.0M303.9 453.9l2.4 -7.3M324.9 438.1l0.8 -5.1M280.1 426.7l0.9 -5.6M351.4 416.3l1.4 -7.3M362.6 406.0l0.3 -8.5M304.9 426.6l0.7 -8.4M304.6 496.2l0.4 -5.7M182.4 463.2l0.5 -7.1M354.6 431.7l1.8 -8.1M152.7 469.9l0.4 -5.1M359.5 451.9l2.0 -9.6M229.8 416.2l2.3 -6.0M158.7 421.0l1.0 -9.9M211.2 440.5l1.7 -10.6M379.9 406.8l0.2 -10.1M195.1 399.6l1.3 -6.3" stroke="#b820ff" stroke-width="1.9" fill="none"/><path d="M207.9 448.1l1.8 -10.9M353.5 483.8l1.6 -6.4M184.0 417.8l1.0 -5.5M246.8 449.2l0.7 -8.1M318.4 398.4l0.8 -5.6M215.1 488.4l2.0 -9.5M308.3 425.8l2.3 -6.6M185.8 434.4l2.4 -8.6M177.0 425.2l2.5 -7.6M152.0 430.9l1.8 -4.8M256.7 456.6l2.4 -6.2M173.6 474.6l1.7 -9.4M200.1 496.1l0.5 -9.8M186.0 431.8l2.1 -9.0M376.6 447.2l1.8 -4.6M242.9 453.2l1.0 -4.2M226.3 452.2l1.6 -10.9M270.9 449.5l1.3 -6.5M238.7 432.2l2.1 -6.9M340.7 457.5l2.1 -6.0M166.3 452.4l2.2 -4.7M316.1 414.5l2.5 -10.4M180.0 425.7l1.4 -9.9M231.3 457.0l0.5 -10.1M228.9 443.1l1.8 -8.6M287.0 407.5l2.1 -10.1M326.3 418.0l1.5 -5.3M364.2 447.0l1.8 -7.2M179.2 404.4l0.7 -8.2M298.8 463.2l0.7 -5.3M198.4 477.6l0.4 -9.5M257.0 490.6l1.6 -5.3M251.3 401.5l0.6 -4.0M168.5 482.3l1.6 -9.6M249.0 398.7l2.5 -5.6M237.8 475.5l1.4 -8.6M261.3 450.1l1.5 -4.2M362.4 424.1l0.5 -7.0M263.9 432.3l0.3 -4.4M254.2 399.2l0.5 -10.6M254.5 472.0l0.7 -8.9M282.8 412.5l0.3 -5.5M369.6 459.7l0.4 -7.9M338.4 446.6l0.4 -4.8M318.7 400.2l2.1 -8.6M156.6 461.7l2.3 -4.5M265.3 412.7l0.5 -10.8M286.9 460.4l2.4 -5.0M233.4 445.3l1.1 -10.9M253.3 456.8l0.2 -9.4M162.5 466.2l0.6 -7.5M166.4 437.9l0.9 -4.9M279.9 412.4l0.7 -8.8M286.6 482.8l1.1 -9.6M185.2 416.3l0.4 -10.8M279.4 419.4l1.4 -8.8M332.1 469.1l1.0 -10.5" stroke="#ff40c0" stroke-width="1.9" fill="none"/></g>
<g clip-path="url(#frc)"><path d="M239.5 485.1l0.9 -1.5M238.7 473.8l1.2 -2.2M334.0 464.8l0.8 -3.5M152.0 462.8l1.5 -3.0M349.4 404.0l-0.2 -2.8M243.8 409.4l1.1 -2.4M387.7 472.9l1.5 -2.9M349.7 454.8l0.5 -3.1M196.3 424.7l1.3 -4.0M314.9 444.4l1.5 -2.7M198.9 476.8l0.2 -1.9M179.5 438.1l0.0 -2.4M245.3 489.0l0.4 -3.9M372.3 429.3l1.0 -3.7M294.1 446.4l1.0 -1.7M348.1 488.4l-0.4 -3.6M270.1 480.8l0.6 -3.7M304.9 479.2l0.6 -2.9M336.9 419.9l0.5 -2.7M346.2 411.0l-0.0 -1.5M358.9 406.2l0.8 -3.9M204.2 450.1l1.5 -2.0M234.2 419.1l-0.3 -3.1M260.3 417.7l-0.4 -3.1M350.5 452.8l1.5 -1.6M379.5 419.3l1.0 -3.5M262.0 431.8l0.8 -2.7M247.6 399.9l1.0 -2.8M276.7 403.6l1.5 -1.7M322.9 422.5l-0.2 -2.7M330.6 409.5l-0.0 -1.5M209.7 493.3l0.6 -3.0M263.9 411.1l1.4 -3.5M307.3 443.4l0.9 -1.9M367.9 473.3l-0.4 -1.9M337.3 451.1l1.1 -3.7M238.0 460.7l0.9 -3.6M384.4 455.1l0.6 -3.8M178.5 426.1l1.5 -1.6M315.6 445.2l1.4 -1.6M257.5 399.7l-0.1 -2.1M157.5 409.3l-0.1 -2.0M256.3 468.1l0.4 -3.6M324.8 448.9l0.4 -2.6M391.6 405.2l0.4 -2.3M180.7 458.4l0.8 -2.2M153.8 480.9l1.3 -3.5M239.7 469.7l0.8 -2.1M366.0 439.7l-0.1 -3.8M311.1 449.6l-0.1 -2.7M353.9 452.9l0.6 -2.4M384.1 459.2l0.8 -3.2M335.6 460.9l-0.1 -1.9M345.9 493.8l0.1 -1.6M224.2 406.6l1.4 -3.1M295.9 408.6l0.5 -3.6M315.0 418.8l1.4 -2.8M221.3 402.3l-0.3 -3.3M321.5 422.0l-0.0 -3.8M244.3 398.4l0.8 -3.4M275.1 492.3l0.2 -3.9M347.0 424.6l-0.4 -2.8M329.0 440.6l0.7 -3.8M242.1 444.1l0.9 -3.4M306.3 462.0l0.5 -2.3M354.1 489.8l0.9 -1.9M298.4 431.7l-0.1 -1.9M364.9 481.3l0.5 -3.5M382.1 492.3l0.9 -2.9M219.5 401.6l0.4 -2.7M263.9 449.4l0.8 -1.7M279.6 463.5l0.1 -3.6M328.4 440.8l0.6 -1.6M311.5 449.4l-0.5 -1.7M379.4 494.2l0.7 -3.8M390.9 410.6l0.8 -2.7M203.8 480.3l1.2 -2.5M211.1 462.7l0.7 -3.0M225.1 424.3l-0.4 -3.8M353.9 434.9l0.4 -2.8M194.2 446.6l-0.5 -2.8M287.8 404.4l0.1 -1.7M170.9 443.6l-0.1 -3.0M182.4 454.0l1.0 -3.7M305.4 428.9l0.4 -3.6M247.3 488.1l0.6 -3.2M322.3 399.5l1.4 -2.8M366.2 409.9l0.1 -2.7M261.7 402.2l1.2 -2.4M253.9 469.4l0.8 -3.3M231.7 464.4l0.7 -2.3M389.2 453.9l0.0 -3.6M187.1 442.7l0.7 -2.2M201.2 479.1l0.6 -2.9M274.8 460.2l0.4 -3.3M260.3 491.7l1.3 -1.8M348.9 435.7l0.1 -3.1M321.0 426.3l1.1 -2.4M357.9 411.4l0.9 -1.8M203.4 469.3l-0.3 -1.7M226.1 456.7l0.0 -3.0M330.3 431.3l1.5 -2.1M372.4 482.7l1.2 -3.6M255.2 493.1l0.1 -3.5M345.7 418.1l-0.4 -2.1M354.4 404.7l-0.1 -2.0M249.5 438.2l-0.4 -2.5M327.6 484.9l-0.1 -2.4M377.0 447.9l0.5 -3.2M337.9 427.6l0.6 -3.1M269.4 488.8l0.6 -2.0M390.9 447.7l0.8 -3.2M153.7 473.7l0.1 -2.3M252.7 413.8l-0.3 -3.4M252.4 425.7l0.1 -2.8M391.1 425.4l1.3 -2.4M318.2 419.3l0.6 -2.4M261.7 433.7l1.0 -3.9M342.6 495.5l0.3 -1.6M206.3 482.8l-0.0 -3.8M184.2 460.2l-0.5 -3.1M390.8 473.3l0.1 -3.1M163.3 417.0l-0.1 -1.7M299.3 429.7l0.3 -2.3M248.0 466.4l1.5 -3.8M167.7 442.3l1.2 -2.9M173.9 481.3l-0.4 -2.1M293.1 417.6l1.5 -3.4M193.2 476.2l-0.5 -3.2M354.3 464.9l0.1 -3.9M279.9 467.9l0.8 -1.5M162.2 438.3l-0.1 -3.1M192.3 487.4l0.8 -3.3M172.8 455.8l-0.2 -2.7M331.9 413.0l-0.4 -2.7M225.6 493.8l0.7 -2.2M243.9 402.3l0.6 -3.1M323.6 491.1l0.8 -1.6M167.2 433.9l0.7 -2.1M356.0 424.0l0.4 -1.9M310.3 427.6l0.6 -3.2M257.3 466.6l0.8 -1.9M192.3 495.2l0.9 -3.3M173.1 453.8l1.0 -2.8M316.4 398.8l0.2 -1.6M237.1 435.4l1.4 -2.1M305.0 462.0l0.8 -2.3M255.0 427.9l0.7 -3.2M274.9 488.3l-0.2 -2.4M258.1 418.2l0.4 -3.5M291.0 437.2l1.2 -1.7M245.1 409.1l0.9 -3.5M378.4 434.2l0.9 -3.3M235.6 449.9l1.4 -2.9M277.8 419.2l1.3 -1.7M385.1 476.0l0.1 -1.7M268.9 455.3l-0.3 -3.7M353.4 420.0l1.1 -3.6M343.8 468.4l-0.2 -2.0M157.7 401.5l1.4 -2.4M310.5 458.8l0.9 -1.7M215.0 445.3l0.3 -4.0M284.6 444.5l0.7 -3.4M182.4 441.4l0.2 -2.1M208.6 484.1l-0.2 -1.6M260.0 461.7l1.2 -2.6M232.7 458.0l-0.1 -2.9M160.9 428.3l-0.3 -3.9M170.5 486.1l-0.3 -2.4M305.3 435.2l1.2 -3.6M171.5 412.7l0.5 -1.9M190.5 450.2l0.6 -3.2M274.9 466.4l-0.3 -3.4M329.0 400.1l0.4 -2.2M324.3 471.4l0.4 -3.9M258.6 400.2l0.0 -2.1M212.3 478.1l-0.1 -2.8M215.8 444.0l0.9 -2.2M331.8 473.3l-0.4 -2.3M188.8 440.7l0.1 -3.7M280.4 422.6l1.1 -4.0M246.1 491.4l-0.1 -2.2M212.3 419.0l-0.5 -2.4M224.3 409.1l1.3 -2.3M325.4 455.3l1.1 -1.8M269.9 428.5l0.3 -1.7M274.0 432.3l0.7 -3.1M190.7 421.5l0.1 -1.6M255.2 471.9l0.9 -3.5M375.2 455.4l-0.5 -1.8M317.5 402.4l0.0 -2.3M185.2 418.2l0.1 -1.8M286.8 440.4l1.0 -2.0M230.7 470.8l0.9 -3.8M180.5 452.8l1.0 -2.6M326.9 424.7l0.4 -3.3M242.9 422.7l0.1 -3.8M267.6 482.1l1.4 -2.7M246.4 483.9l0.5 -2.7M261.3 456.4l0.6 -2.0" stroke="#fff" stroke-width="1" opacity="0.75"/></g>
<g clip-path="url(#frc)"><polygon points="181.0,454.3 183.0,452.7 185.0,452.8 186.9,454.3 188.9,453.5 190.9,452.0 192.9,451.7 194.8,452.6 196.8,451.2 198.8,453.5 200.8,451.9 202.7,451.9 204.7,451.3 206.7,450.0 208.7,450.5 210.6,449.7 212.6,451.6 214.6,451.8 216.6,450.1 218.5,450.5 220.5,449.4 222.5,450.5 224.5,448.0 226.4,449.9 228.4,450.1 230.4,449.3 232.4,449.8 234.3,449.2 236.3,448.9 238.3,448.8 240.3,446.7 242.2,446.7 244.2,448.1 246.2,447.0 248.2,446.3 250.1,445.8 252.1,446.3 254.1,444.9 256.1,445.1 258.0,446.9 260.0,444.5 262.0,445.1 262.0,448.8 260.0,449.0 258.0,449.3 256.1,449.1 254.1,449.2 252.1,449.0 250.1,451.2 248.2,451.3 246.2,449.9 244.2,449.6 242.2,450.8 240.3,450.5 238.3,451.3 236.3,452.8 234.3,450.6 232.4,450.8 230.4,451.7 228.4,451.9 226.4,452.3 224.5,453.6 222.5,452.5 220.5,452.6 218.5,454.5 216.6,452.6 214.6,455.4 212.6,453.8 210.6,454.3 208.7,455.7 206.7,454.9 204.7,455.8 202.7,454.1 200.8,454.5 198.8,456.8 196.8,455.7 194.8,457.6 192.9,457.8 190.9,456.2 188.9,456.1 186.9,457.6 185.0,456.5 183.0,456.5 181.0,457.8" fill="#fff" opacity="0.85"/><polygon points="262.0,442.7 263.9,441.3 265.8,441.4 267.7,442.2 269.6,442.3 271.5,441.4 273.4,440.4 275.3,440.5 277.2,439.5 279.1,439.5 281.0,439.0 282.9,439.6 284.8,438.1 286.7,439.8 288.6,437.4 290.5,439.2 292.4,438.7 294.3,438.8 296.2,438.4 298.1,438.3 300.0,437.8 300.0,439.4 298.1,440.4 296.2,439.4 294.3,440.0 292.4,440.4 290.5,440.1 288.6,439.8 286.7,442.0 284.8,441.2 282.9,442.8 281.0,441.3 279.1,442.1 277.2,443.5 275.3,444.1 273.4,443.2 271.5,443.3 269.6,444.3 267.7,443.8 265.8,446.0 263.9,445.8 262.0,446.1" fill="#fff" opacity="0.75"/><polygon points="300.0,439.4 301.9,440.3 303.9,440.4 305.8,438.2 307.8,437.5 309.7,439.5 311.7,438.8 313.6,439.3 315.5,437.5 317.5,438.4 319.4,438.1 321.4,438.2 323.3,437.0 325.3,435.3 327.2,435.1 329.1,435.7 331.1,435.5 333.0,435.1 335.0,436.4 336.9,436.1 338.9,435.1 340.8,435.3 342.7,433.8 344.7,435.1 346.6,433.7 348.6,432.7 350.5,434.2 352.5,433.3 354.4,432.9 356.3,432.8 358.3,432.4 360.2,433.8 362.2,432.2 364.1,431.8 366.1,432.0 368.0,431.9 368.0,433.9 366.1,435.1 364.1,436.1 362.2,435.3 360.2,434.1 358.3,436.4 356.3,436.4 354.4,435.9 352.5,437.7 350.5,435.8 348.6,437.1 346.6,436.5 344.7,436.5 342.7,436.4 340.8,437.1 338.9,436.9 336.9,438.2 335.0,439.6 333.0,440.0 331.1,440.2 329.1,437.9 327.2,439.8 325.3,440.3 323.3,438.8 321.4,441.0 319.4,441.1 317.5,441.8 315.5,440.3 313.6,442.2 311.7,440.9 309.7,442.6 307.8,441.5 305.8,440.9 303.9,442.1 301.9,442.9 300.0,443.4" fill="#fff" opacity="0.8"/><polygon points="262.0,461.0 264.0,461.9 266.0,461.9 268.0,461.3 269.9,461.7 271.9,460.5 273.9,460.9 275.9,461.0 277.9,461.0 279.9,460.3 281.8,460.3 283.8,458.7 285.8,458.3 287.8,460.7 289.8,460.1 291.8,457.9 293.7,457.9 295.7,459.0 297.7,459.9 299.7,458.2 301.7,456.9 303.7,459.3 305.6,459.1 307.6,458.9 309.6,458.8 311.6,457.3 313.6,456.2 315.6,456.7 317.5,456.9 319.5,455.3 321.5,456.8 323.5,455.5 325.5,457.2 327.5,456.0 329.5,456.9 331.4,457.0 333.4,454.6 335.4,456.1 337.4,455.7 339.4,454.1 341.4,455.8 343.3,453.5 345.3,453.7 347.3,453.8 349.3,454.4 351.3,453.6 353.3,454.7 355.2,453.1 357.2,452.2 359.2,452.5 361.2,452.0 363.2,453.5 365.2,451.9 367.1,452.5 369.1,452.2 371.1,451.5 373.1,451.4 375.1,452.2 377.1,450.3 379.0,450.4 381.0,452.3 383.0,450.6 385.0,451.2 385.0,453.3 383.0,453.2 381.0,453.0 379.0,453.9 377.1,454.5 375.1,454.0 373.1,455.6 371.1,455.3 369.1,455.8 367.1,455.1 365.2,455.6 363.2,455.6 361.2,454.6 359.2,455.1 357.2,454.9 355.2,456.3 353.3,455.8 351.3,457.1 349.3,457.1 347.3,456.9 345.3,456.4 343.3,457.7 341.4,457.9 339.4,456.7 337.4,456.1 335.4,456.5 333.4,456.6 331.4,457.3 329.5,459.1 327.5,458.8 325.5,459.8 323.5,459.2 321.5,458.1 319.5,459.5 317.5,459.2 315.6,459.5 313.6,458.9 311.6,458.7 309.6,461.2 307.6,460.8 305.6,461.4 303.7,461.8 301.7,459.7 299.7,460.6 297.7,459.9 295.7,461.3 293.7,462.2 291.8,462.6 289.8,461.7 287.8,461.8 285.8,461.6 283.8,461.8 281.8,463.7 279.9,462.5 277.9,464.0 275.9,464.0 273.9,463.4 271.9,463.7 269.9,463.0 268.0,463.7 266.0,462.8 264.0,462.7 262.0,464.6" fill="#fff" opacity="0.7"/><polygon points="200.0,470.1 201.9,470.6 203.8,470.3 205.8,469.4 207.7,468.9 209.6,469.4 211.5,470.7 213.5,470.1 215.4,469.4 217.3,470.3 219.2,467.9 221.2,469.4 223.1,469.7 225.0,467.7 226.9,470.2 228.8,468.0 230.8,470.0 232.7,469.5 234.6,468.5 236.5,468.9 238.5,468.1 240.4,469.0 242.3,467.3 244.2,467.5 246.2,468.2 248.1,466.9 250.0,466.8 250.0,470.2 248.1,469.2 246.2,469.3 244.2,469.2 242.3,469.1 240.4,470.6 238.5,469.9 236.5,470.5 234.6,469.4 232.7,471.1 230.8,471.1 228.8,470.8 226.9,471.4 225.0,470.0 223.1,471.7 221.2,470.4 219.2,470.0 217.3,470.0 215.4,470.1 213.5,470.3 211.5,472.3 209.6,470.6 207.7,470.4 205.8,472.5 203.8,472.2 201.9,472.7 200.0,471.1" fill="#fff" opacity="0.6"/><polygon points="248.0,436.4 249.9,438.6 251.9,437.8 253.8,437.4 255.7,436.8 257.6,436.3 259.6,437.7 261.5,435.4 263.4,435.5 265.3,437.1 267.3,437.4 269.2,436.0 271.1,435.1 273.0,436.1 275.0,435.4 276.9,436.1 278.8,436.2 280.7,435.8 282.7,435.1 284.6,435.1 286.5,433.5 288.4,433.1 290.4,435.0 292.3,434.1 294.2,433.9 296.1,434.3 298.1,433.7 300.0,432.6 300.0,437.6 298.1,438.3 296.1,437.4 294.2,438.4 292.3,438.6 290.4,439.2 288.4,439.0 286.5,438.9 284.6,439.8 282.7,440.6 280.7,439.3 278.8,441.1 276.9,441.0 275.0,440.2 273.0,439.7 271.1,439.8 269.2,441.9 267.3,440.6 265.3,442.2 263.4,442.3 261.5,441.9 259.6,441.4 257.6,441.5 255.7,442.6 253.8,440.8 251.9,441.6 249.9,443.0 248.0,443.4" fill="#fff" opacity="0.8"/><polygon points="300.0,454.1 302.0,453.0 303.9,453.3 305.9,452.8 307.8,453.8 309.8,451.8 311.7,453.6 313.7,451.9 315.7,452.4 317.6,452.0 319.6,450.9 321.5,451.0 323.5,450.4 325.4,450.7 327.4,450.7 329.3,451.5 331.3,451.3 333.3,451.3 335.2,451.1 337.2,451.0 339.1,451.4 341.1,450.4 343.0,451.5 345.0,448.8 345.0,454.3 343.0,454.5 341.1,453.9 339.1,454.5 337.2,455.5 335.2,453.9 333.3,453.3 331.3,453.5 329.3,456.1 327.4,456.1 325.4,456.3 323.5,455.2 321.5,454.2 319.6,456.0 317.6,456.0 315.7,455.8 313.7,457.3 311.7,456.6 309.8,455.3 307.8,455.3 305.9,457.2 303.9,457.9 302.0,455.7 300.0,455.6" fill="#fff" opacity="0.75"/><polygon points="185.0,462.3 187.0,460.1 188.9,460.7 190.9,460.5 192.9,461.7 194.8,462.5 196.8,461.5 198.8,460.3 200.7,460.2 202.7,460.0 204.6,460.2 206.6,461.4 208.6,459.8 210.5,460.1 212.5,459.5 214.5,460.4 216.4,461.3 218.4,461.7 220.4,459.9 222.3,459.1 224.3,458.9 226.2,458.6 228.2,460.0 230.2,460.3 232.1,460.2 234.1,458.6 236.1,459.8 238.0,459.5 240.0,458.2 240.0,462.8 238.0,461.7 236.1,461.5 234.1,462.5 232.1,463.5 230.2,461.8 228.2,461.5 226.2,462.3 224.3,463.7 222.3,464.4 220.4,462.8 218.4,462.5 216.4,462.4 214.5,463.9 212.5,463.4 210.5,464.1 208.6,463.5 206.6,464.2 204.6,464.7 202.7,464.9 200.7,465.1 198.8,463.2 196.8,463.4 194.8,463.4 192.9,463.5 190.9,464.2 188.9,465.2 187.0,463.8 185.0,464.8" fill="#fff" opacity="0.6"/><polygon points="345.0,443.6 346.9,443.0 348.9,442.7 350.8,442.0 352.7,441.7 354.6,442.9 356.6,441.2 358.5,441.6 360.4,440.3 362.4,442.3 364.3,439.6 366.2,441.1 368.1,439.4 370.1,438.8 372.0,440.1 372.0,441.6 370.1,442.4 368.1,442.4 366.2,443.5 364.3,444.7 362.4,444.7 360.4,444.9 358.5,445.4 356.6,444.1 354.6,445.5 352.7,446.0 350.8,444.8 348.9,446.1 346.9,446.4 345.0,445.4" fill="#fff" opacity="0.7"/></g>
<g clip-path="url(#frc)"><path d="M235.5 451.9l1.9 -3.1M219.1 454.9l1.6 -3.8M240.8 450.2l1.2 -3.5M201.4 452.7l1.6 -4.5M195.1 454.9l1.9 -5.0M254.1 447.8l1.0 -2.8M217.0 453.1l1.3 -2.0M216.4 455.2l0.9 -3.9M218.6 455.6l1.7 -4.3M200.8 453.6l0.7 -4.7M209.7 454.0l0.9 -2.3M203.2 455.8l0.9 -4.5M202.5 454.5l0.6 -2.3M186.7 454.6l1.2 -2.2M221.9 453.5l1.4 -3.7M222.8 452.1l1.1 -4.5M207.9 456.9l1.3 -3.9M240.7 452.7l0.9 -2.1M254.0 450.2l0.9 -2.8M195.0 458.1l0.6 -2.3M253.8 450.1l1.2 -2.8M240.0 453.0l1.2 -3.2M188.4 454.8l1.9 -2.0M220.1 451.1l1.4 -3.5M246.2 451.1l1.1 -2.9M209.5 452.5l1.2 -4.2M249.8 447.6l0.7 -5.0M235.8 451.3l0.7 -3.2M209.4 451.7l0.7 -3.7M197.6 457.4l1.2 -2.2M210.1 454.9l1.0 -4.1M251.5 447.1l1.4 -2.4M208.8 452.1l1.2 -3.2M237.8 451.7l0.6 -3.2M231.3 449.6l0.8 -2.8M236.3 451.5l1.6 -3.6M208.4 453.3l0.8 -3.1M207.9 451.8l1.7 -2.7M253.7 450.2l0.9 -2.9M202.7 454.9l1.2 -2.5M315.3 443.5l1.6 -3.4M319.1 442.8l2.0 -4.2M307.0 442.6l1.2 -3.8M297.6 446.4l1.7 -3.9M314.2 440.9l0.9 -2.1M309.6 441.5l0.7 -2.0M307.4 443.6l0.7 -3.3M313.2 443.8l1.5 -3.2M318.0 443.8l0.8 -5.0M308.6 443.9l1.0 -4.3M284.9 445.2l0.9 -2.5M301.7 442.7l1.8 -4.1M315.5 444.1l1.2 -4.9M296.7 446.2l1.0 -4.4M298.1 444.3l0.9 -3.8M286.5 444.7l0.8 -2.3M317.9 442.8l1.4 -4.0M312.7 442.9l1.7 -3.1M316.7 441.1l1.2 -2.3M289.9 443.8l0.8 -4.9M316.4 440.5l1.9 -3.1M315.0 445.3l1.7 -3.0M298.0 447.2l1.0 -4.3M287.0 445.9l0.6 -4.9M322.0 443.2l0.8 -3.6M297.6 450.5l1.9 -3.4M330.1 447.0l1.5 -4.9M328.5 450.3l1.5 -2.8M335.2 447.3l0.7 -4.9M349.0 448.2l1.8 -4.7M349.1 448.6l1.5 -4.0M315.8 448.0l0.5 -2.5M347.3 449.6l1.8 -3.6M329.3 448.1l1.3 -4.1M313.9 448.8l1.6 -2.4M348.2 447.4l1.4 -2.8M352.3 448.6l0.7 -4.2M343.2 446.0l1.5 -3.2M347.5 448.0l1.7 -4.4M346.8 447.3l1.2 -2.7M310.1 452.5l1.2 -5.0M351.0 449.1l1.1 -4.7M348.5 447.9l1.2 -4.9M307.8 450.8l1.6 -4.2M342.4 445.8l2.0 -4.9M335.6 447.8l1.0 -3.9M347.8 444.8l0.7 -3.6M333.2 448.7l1.8 -3.5M342.6 445.8l1.1 -2.1M345.4 446.3l0.5 -2.5M334.0 447.9l1.2 -4.2M303.3 453.6l1.7 -3.8M340.0 448.1l0.6 -4.5M298.3 450.5l1.4 -3.8M318.7 452.5l1.4 -2.9M250.5 467.9l1.0 -3.6M255.2 467.5l1.0 -4.1M240.2 466.0l1.4 -2.9M248.2 465.0l1.5 -2.0M252.2 467.6l1.3 -2.0M245.7 464.3l0.6 -2.3M250.0 463.7l1.5 -2.7M258.4 467.1l1.8 -3.3M260.1 467.6l1.4 -4.9M258.4 466.9l1.8 -2.5M253.1 466.5l1.4 -4.5M263.2 464.5l1.8 -2.2M345.0 435.4l0.5 -4.7M347.4 433.4l0.9 -3.4M339.8 437.4l1.9 -3.5M354.6 430.9l1.5 -5.0M345.5 436.3l0.6 -4.5M362.1 434.6l0.7 -3.4M329.9 434.8l1.5 -4.6M350.8 435.1l1.4 -2.6M346.1 432.5l1.8 -2.6M360.0 430.0l1.0 -2.7M338.8 435.8l0.6 -2.1M331.0 437.9l1.2 -2.9M353.8 432.8l1.9 -4.4M347.4 434.2l0.9 -3.3M358.5 434.3l1.1 -3.5M338.1 436.2l2.0 -4.2M329.1 436.4l1.5 -2.7M359.7 430.9l0.9 -3.3M207.0 468.8l2.0 -4.3M239.2 470.3l1.5 -3.9M217.7 469.8l1.1 -4.8M201.6 468.1l0.8 -4.8M222.3 468.9l1.1 -3.6M237.3 469.3l1.6 -4.8M230.3 467.7l0.9 -3.7M228.5 467.5l1.7 -4.2M235.1 466.8l2.0 -3.9M206.6 470.9l0.6 -3.8M235.7 465.8l1.0 -4.6M218.9 471.1l1.3 -4.5M290.6 431.3l1.2 -4.2M277.8 432.2l1.8 -3.3M282.8 431.4l1.9 -2.1M290.1 430.6l1.7 -2.6M292.0 432.8l1.0 -3.9M277.4 431.6l0.6 -3.8M272.5 432.8l0.6 -4.6M279.2 433.3l1.5 -2.4M279.6 432.6l0.7 -4.3M262.4 437.3l0.7 -2.1M286.8 431.2l1.5 -3.1M291.8 431.5l0.6 -3.5M262.1 435.2l0.6 -2.1M300.6 432.5l1.8 -3.7M261.5 436.5l1.6 -3.1M334.3 460.0l1.7 -4.7M347.9 457.1l0.9 -2.4M355.8 458.6l1.2 -3.5M336.1 459.1l1.5 -3.9M335.8 461.2l2.0 -4.3M334.3 461.8l1.5 -4.9M355.4 456.2l1.8 -2.8M322.1 462.7l1.8 -3.7M337.4 458.7l1.1 -3.1M347.1 457.4l1.2 -3.4M342.6 459.0l1.7 -4.2M341.5 460.5l1.4 -3.2M331.1 458.7l1.5 -2.9M358.0 459.0l1.0 -2.9M355.8 456.1l1.9 -4.8" stroke="#fff" stroke-width="1.3" opacity="0.8"/></g>
<g clip-path="url(#frc)"><path d="M305.1 464.1l1.6 -6.7M211.0 443.7l1.7 -5.6M209.9 454.6l1.9 -3.2M354.0 436.6l0.7 -3.1M181.7 441.4l1.9 -3.6M260.9 437.5l1.5 -6.5M221.7 462.9l1.6 -7.8M191.3 461.8l1.3 -5.2" stroke="#18f8a0" stroke-width="1.6"/><path d="M218.2 440.9l1.5 -5.0M372.3 431.4l1.6 -6.9M223.5 445.3l0.4 -6.8M333.6 434.7l1.2 -7.5M313.5 442.1l0.9 -6.5M275.5 432.4l0.7 -4.0M355.3 445.3l0.9 -7.5M370.2 436.1l1.5 -3.6M270.0 457.4l1.5 -7.6M304.0 450.1l1.5 -5.7M254.3 444.0l0.7 -5.2M333.0 436.6l1.3 -7.1M285.2 443.7l1.5 -7.5M194.7 455.9l0.5 -4.7M281.8 432.4l1.8 -4.3M268.3 455.8l0.5 -6.3M365.0 432.9l0.8 -3.8M343.1 466.8l1.5 -7.4M322.2 460.9l0.5 -7.9M294.4 465.3l0.6 -5.4M278.3 440.9l0.4 -7.4M368.9 462.7l0.4 -7.7M273.9 448.3l1.4 -5.3M263.7 433.5l1.7 -4.9M209.0 456.6l1.3 -6.6M208.9 468.5l2.0 -4.0M186.1 467.4l1.7 -3.4M349.1 469.1l0.7 -5.8M228.7 441.7l0.6 -3.5M278.8 455.7l0.3 -8.0M297.9 463.8l1.5 -6.7M356.3 465.3l0.6 -3.9M256.8 435.8l1.4 -4.2M345.1 467.6l0.6 -5.1M279.9 432.4l0.6 -3.2M283.2 458.3l2.0 -6.5M352.3 443.1l1.4 -4.7M260.1 456.1l1.6 -3.4M235.9 444.1l0.9 -5.2M308.6 447.5l0.6 -6.9M346.9 460.8l1.5 -3.7M299.1 436.0l0.5 -6.2M278.9 443.2l0.6 -3.6" stroke="#ff18ff" stroke-width="1.6"/><path d="M286.7 433.1l0.3 -6.1M322.7 451.8l0.8 -6.0M183.7 438.9l2.0 -7.2M350.2 442.2l1.3 -4.1M291.6 435.4l0.7 -6.2M275.6 463.1l1.8 -5.8M249.6 443.4l1.0 -6.6M334.7 450.7l1.0 -6.2M376.7 468.6l0.6 -3.1M357.5 465.9l1.9 -6.0M355.8 456.2l1.1 -5.5M301.2 448.2l0.6 -7.6M281.2 453.4l1.7 -3.7M282.5 440.6l0.9 -7.2M338.2 458.5l1.2 -5.2M195.1 467.4l1.2 -5.2M261.4 433.9l1.0 -6.2M373.5 430.4l0.9 -4.1" stroke="#18f0f8" stroke-width="1.6"/><path d="M264.5 458.5l1.1 -5.9M274.4 432.3l1.6 -5.9M378.2 450.1l1.3 -7.3M372.6 469.1l0.7 -4.5M267.0 442.6l1.6 -4.1M326.2 445.6l1.4 -3.6M339.9 444.6l0.9 -5.3M325.3 445.3l1.5 -5.3" stroke="#e018f8" stroke-width="1.6"/><path d="M366.1 457.2l0.4 -3.7M242.3 442.5l1.8 -7.6M323.5 468.0l2.0 -3.5" stroke="#ff2818" stroke-width="1.6"/><path d="M352.0 447.8l1.2 -7.7M340.3 431.4l0.6 -5.8M207.6 454.4l1.2 -3.4M187.1 432.7l1.2 -4.2M294.4 469.2l1.5 -4.0M238.4 436.8l1.0 -4.7M363.2 432.0l1.7 -5.5" stroke="#8a18ff" stroke-width="1.6"/><path d="M295.8 437.7l0.7 -6.0M238.8 438.1l1.0 -4.2M201.7 437.3l1.9 -6.8M217.2 467.5l1.0 -6.3M279.7 452.6l0.9 -7.0M265.4 448.2l0.6 -8.0M229.0 453.0l1.1 -7.1M315.6 458.2l1.8 -7.4M375.9 451.6l1.9 -6.6M330.8 469.4l1.2 -3.3M329.1 457.2l1.7 -4.8M282.9 452.8l1.9 -5.2M317.4 449.2l0.8 -5.7M279.0 441.6l0.9 -3.9" stroke="#2838ff" stroke-width="1.6"/><path d="M337.4 468.6l0.6 -6.6M219.7 461.4l0.4 -3.5M357.1 459.8l0.6 -7.8M368.0 431.9l0.6 -4.5M299.0 462.3l0.8 -3.8M198.5 441.6l1.6 -6.3M312.8 454.2l1.0 -5.5M342.6 462.0l1.7 -3.3M361.2 443.0l0.7 -8.0" stroke="#18a8ff" stroke-width="1.6"/><path d="M318.7 435.7l1.2 -4.2M291.4 466.2l0.6 -3.1M319.1 469.2l0.8 -7.5M352.3 461.9l1.8 -5.3M351.1 452.1l1.1 -5.5" stroke="#f8f818" stroke-width="1.6"/><path d="M360.1 432.4l1.2 -3.5M340.8 459.9l1.6 -4.9M222.3 448.2l0.4 -7.0" stroke="#50f840" stroke-width="1.6"/><path d="M317.8 430.5l1.5 -6.8" stroke="#b820ff" stroke-width="1.6"/><path d="M207.4 437.8l1.4 -5.1" stroke="#ff40c0" stroke-width="1.6"/></g>
<polygon points="176.00,447.00 180.00,447.00 183.00,460.00 181.00,460.00" fill="#ffffff" opacity="0.7"/>
<path d="M401.3,335 C400.5,390 388,414 362.4,416" fill="none" stroke="#d478dc" stroke-width="1.2" />
<path d="M410.1,350.8 C409.5,405 398,433 373.6,434.3" fill="none" stroke="#d49a28" stroke-width="1.2" />
<path d="M413.8,360.2 C413.2,425 403,450 380.2,451.1" fill="none" stroke="#a8c820" stroke-width="1.2" />
<path d="M418.5,375.1 C418,440 408,465 386.7,466.1" fill="none" stroke="#28c8a0" stroke-width="1.2" />
<rect x="400.0" y="333.0" width="3" height="3" fill="none" stroke="#e090e0" stroke-width="0.6"/>
<rect x="409.0" y="348.5" width="3" height="3" fill="none" stroke="#e0a030" stroke-width="0.6"/>
<rect x="412.8" y="358.0" width="3" height="3" fill="none" stroke="#b0d030" stroke-width="0.6"/>
<rect x="417.4" y="372.8" width="3" height="3" fill="none" stroke="#30d0c0" stroke-width="0.6"/>
<text x="0" y="0" transform="translate(403.50,335.76) scale(0.920,1)" font-family='"Liberation Sans", sans-serif' font-size="7.40" font-weight="normal" fill="#e090e0" text-anchor="start" >H6-8</text>
<text x="0" y="0" transform="translate(412.50,350.66) scale(0.920,1)" font-family='"Liberation Sans", sans-serif' font-size="7.40" font-weight="normal" fill="#e0a030" text-anchor="start" >H6-7</text>
<text x="0" y="0" transform="translate(416.50,361.36) scale(0.920,1)" font-family='"Liberation Sans", sans-serif' font-size="7.40" font-weight="normal" fill="#b0d030" text-anchor="start" >H6-6</text>
<text x="0" y="0" transform="translate(420.60,374.96) scale(0.920,1)" font-family='"Liberation Sans", sans-serif' font-size="7.40" font-weight="normal" fill="#30d0c0" text-anchor="start" >H6-5</text>
<text x="0" y="0" transform="translate(119.80,334.14) scale(1.100,1)" font-family='"Liberation Serif", serif' font-size="7.60" font-weight="bold" fill="#1a1a1a" stroke="#1a1a1a" stroke-width="0.15" text-anchor="start" >X-axis</text>
<text x="0" y="0" transform="translate(110.00,350.88) scale(1.100,1)" font-family='"Liberation Serif", serif' font-size="7.45" font-weight="bold" fill="#1a1a1a" stroke="#1a1a1a" stroke-width="0.15" text-anchor="start" >3.2432×10<tspan font-size="4.10" dy="-3.13">6</tspan></text>
<text x="0" y="0" transform="translate(108.20,366.78) scale(1.100,1)" font-family='"Liberation Serif", serif' font-size="7.45" font-weight="bold" fill="#1a1a1a" stroke="#1a1a1a" stroke-width="0.15" text-anchor="start" >3.2428×10<tspan font-size="4.10" dy="-3.13">6</tspan></text>
<text x="0" y="0" transform="translate(105.80,384.88) scale(1.100,1)" font-family='"Liberation Serif", serif' font-size="7.45" font-weight="bold" fill="#1a1a1a" stroke="#1a1a1a" stroke-width="0.15" text-anchor="start" >3.2424×10<tspan font-size="4.10" dy="-3.13">6</tspan></text>
<text x="0" y="0" transform="translate(105.80,404.28) scale(1.100,1)" font-family='"Liberation Serif", serif' font-size="7.45" font-weight="bold" fill="#1a1a1a" stroke="#1a1a1a" stroke-width="0.15" text-anchor="start" >3.242×10<tspan font-size="4.10" dy="-3.13">6</tspan></text>
<text x="0" y="0" transform="translate(117.00,442.18) scale(1.100,1)" font-family='"Liberation Serif", serif' font-size="7.45" font-weight="bold" fill="#1a1a1a" stroke="#1a1a1a" stroke-width="0.15" text-anchor="start" >-3,400</text>
<text x="0" y="0" transform="translate(117.00,471.24) scale(1.100,1)" font-family='"Liberation Serif", serif' font-size="7.60" font-weight="bold" fill="#1a1a1a" stroke="#1a1a1a" stroke-width="0.15" text-anchor="start" >Z-axis</text>
<text x="0" y="0" transform="translate(118.40,501.68) scale(1.100,1)" font-family='"Liberation Serif", serif' font-size="7.45" font-weight="bold" fill="#1a1a1a" stroke="#1a1a1a" stroke-width="0.15" text-anchor="start" >-3,600</text>
<text x="0" y="0" transform="translate(281.40,313.54) scale(1.100,1)" font-family='"Liberation Serif", serif' font-size="7.60" font-weight="bold" fill="#1a1a1a" stroke="#1a1a1a" stroke-width="0.15" text-anchor="start" >Y-axis</text>
<text x="0" y="0" transform="translate(187.80,321.68) scale(1.100,1)" font-family='"Liberation Serif", serif' font-size="7.45" font-weight="bold" fill="#1a1a1a" stroke="#1a1a1a" stroke-width="0.15" text-anchor="start" >1.85465×10<tspan font-size="4.10" dy="-3.13">7</tspan></text>
<text x="0" y="0" transform="translate(241.10,321.68) scale(1.100,1)" font-family='"Liberation Serif", serif' font-size="7.45" font-weight="bold" fill="#1a1a1a" stroke="#1a1a1a" stroke-width="0.15" text-anchor="start" >1.8546×10<tspan font-size="4.10" dy="-3.13">7</tspan></text>
<text x="0" y="0" transform="translate(298.40,321.68) scale(1.100,1)" font-family='"Liberation Serif", serif' font-size="7.45" font-weight="bold" fill="#1a1a1a" stroke="#1a1a1a" stroke-width="0.15" text-anchor="start" >1.85455×10<tspan font-size="4.10" dy="-3.13">7</tspan></text>
<text x="0" y="0" transform="translate(353.00,321.68) scale(1.100,1)" font-family='"Liberation Serif", serif' font-size="7.45" font-weight="bold" fill="#1a1a1a" stroke="#1a1a1a" stroke-width="0.15" text-anchor="start" >1.8545×10<tspan font-size="4.10" dy="-3.13">7</tspan></text>
<text x="0" y="0" transform="translate(407.70,321.68) scale(1.100,1)" font-family='"Liberation Serif", serif' font-size="7.45" font-weight="bold" fill="#1a1a1a" stroke="#1a1a1a" stroke-width="0.15" text-anchor="start" >1.85445×10<tspan font-size="4.10" dy="-3.13">7</tspan></text>
<text x="0" y="0" transform="translate(437.30,364.08) scale(1.100,1)" font-family='"Liberation Serif", serif' font-size="7.45" font-weight="bold" fill="#1a1a1a" stroke="#1a1a1a" stroke-width="0.15" text-anchor="start" >-3,400</text>
<text x="0" y="0" transform="translate(437.30,424.48) scale(1.100,1)" font-family='"Liberation Serif", serif' font-size="7.45" font-weight="bold" fill="#1a1a1a" stroke="#1a1a1a" stroke-width="0.15" text-anchor="start" >-3,600</text>
<text x="0" y="0" transform="translate(440.70,397.94) scale(1.100,1)" font-family='"Liberation Serif", serif' font-size="7.60" font-weight="bold" fill="#1a1a1a" stroke="#1a1a1a" stroke-width="0.15" text-anchor="start" >Z-axis</text>
<text x="0" y="0" transform="translate(434.50,451.48) scale(1.100,1)" font-family='"Liberation Serif", serif' font-size="7.45" font-weight="bold" fill="#1a1a1a" stroke="#1a1a1a" stroke-width="0.15" text-anchor="start" >3.2432×10<tspan font-size="4.10" dy="-3.13">6</tspan></text>
<text x="0" y="0" transform="translate(432.00,466.98) scale(1.100,1)" font-family='"Liberation Serif", serif' font-size="7.45" font-weight="bold" fill="#1a1a1a" stroke="#1a1a1a" stroke-width="0.15" text-anchor="start" >3.2428×10<tspan font-size="4.10" dy="-3.13">6</tspan></text>
<text x="0" y="0" transform="translate(429.70,485.28) scale(1.100,1)" font-family='"Liberation Serif", serif' font-size="7.45" font-weight="bold" fill="#1a1a1a" stroke="#1a1a1a" stroke-width="0.15" text-anchor="start" >3.2424×10<tspan font-size="4.10" dy="-3.13">6</tspan></text>
<text x="0" y="0" transform="translate(427.60,504.28) scale(1.100,1)" font-family='"Liberation Serif", serif' font-size="7.45" font-weight="bold" fill="#1a1a1a" stroke="#1a1a1a" stroke-width="0.15" text-anchor="start" >3.242×10<tspan font-size="4.10" dy="-3.13">6</tspan></text>
<text x="0" y="0" transform="translate(430.40,477.44) scale(1.100,1)" font-family='"Liberation Serif", serif' font-size="7.60" font-weight="bold" fill="#1a1a1a" stroke="#1a1a1a" stroke-width="0.15" text-anchor="start" >X-axis</text>
<text x="0" y="0" transform="translate(177.00,522.28) scale(1.100,1)" font-family='"Liberation Serif", serif' font-size="7.45" font-weight="bold" fill="#1a1a1a" stroke="#1a1a1a" stroke-width="0.15" text-anchor="start" >1.85465×10<tspan font-size="4.10" dy="-3.13">7</tspan></text>
<text x="0" y="0" transform="translate(229.30,522.28) scale(1.100,1)" font-family='"Liberation Serif", serif' font-size="7.45" font-weight="bold" fill="#1a1a1a" stroke="#1a1a1a" stroke-width="0.15" text-anchor="start" >1.8546×10<tspan font-size="4.10" dy="-3.13">7</tspan></text>
<text x="0" y="0" transform="translate(287.00,522.28) scale(1.100,1)" font-family='"Liberation Serif", serif' font-size="7.45" font-weight="bold" fill="#1a1a1a" stroke="#1a1a1a" stroke-width="0.15" text-anchor="start" >1.85455×10<tspan font-size="4.10" dy="-3.13">7</tspan></text>
<text x="0" y="0" transform="translate(341.40,522.58) scale(1.100,1)" font-family='"Liberation Serif", serif' font-size="7.45" font-weight="bold" fill="#1a1a1a" stroke="#1a1a1a" stroke-width="0.15" text-anchor="start" >1.8545×10<tspan font-size="4.10" dy="-3.13">7</tspan></text>
<text x="0" y="0" transform="translate(396.30,522.58) scale(1.100,1)" font-family='"Liberation Serif", serif' font-size="7.45" font-weight="bold" fill="#1a1a1a" stroke="#1a1a1a" stroke-width="0.15" text-anchor="start" >1.85445×10<tspan font-size="4.10" dy="-3.13">7</tspan></text>
<text x="0" y="0" transform="translate(269.70,529.94) scale(1.100,1)" font-family='"Liberation Serif", serif' font-size="7.60" font-weight="bold" fill="#1a1a1a" stroke="#1a1a1a" stroke-width="0.15" text-anchor="start" >Y-axis</text>
<text x="262.60" y="543.76" font-family='"Liberation Serif", serif' font-size="11.00" font-weight="bold" fill="#111" stroke="#111" stroke-width="0.15" text-anchor="start" >(b)</text>
</svg></body></html>
